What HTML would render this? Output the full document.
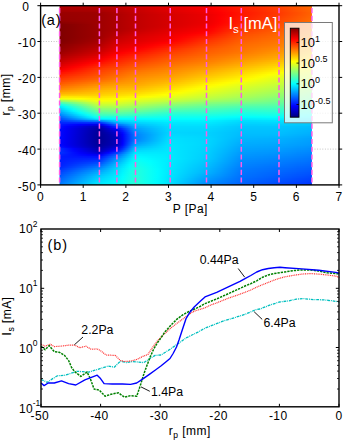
<!DOCTYPE html>
<html><head><meta charset="utf-8"><title>Is heat map and profiles</title>
<style>
html,body{margin:0;padding:0;background:#fff;}
body{width:343px;height:442px;overflow:hidden;}
svg{display:block;}
text{font-family:"Liberation Sans",sans-serif;fill:#000;}
.tk{font-size:12px;letter-spacing:0.4px;}
.lb{font-size:12px;letter-spacing:0.45px;stroke:#000;stroke-width:0.06px;}
.an{font-size:12.3px;}
.cbt{font-size:13px;}
</style></head><body>
<svg width="343" height="442" viewBox="0 0 343 442">
<defs><linearGradient id="g0"><stop offset="0.0000" stop-color="#af0000"/><stop offset="0.0277" stop-color="#b10000"/><stop offset="0.0555" stop-color="#b20000"/><stop offset="0.0832" stop-color="#b30000"/><stop offset="0.1110" stop-color="#b50000"/><stop offset="0.1387" stop-color="#b60000"/><stop offset="0.1577" stop-color="#b70000"/><stop offset="0.1665" stop-color="#b90000"/><stop offset="0.1942" stop-color="#bd0000"/><stop offset="0.2220" stop-color="#c10000"/><stop offset="0.2271" stop-color="#c20000"/><stop offset="0.2497" stop-color="#c60000"/><stop offset="0.2774" stop-color="#cc0000"/><stop offset="0.3008" stop-color="#d10000"/><stop offset="0.3052" stop-color="#d20000"/><stop offset="0.3329" stop-color="#d60000"/><stop offset="0.3607" stop-color="#db0000"/><stop offset="0.3884" stop-color="#df0000"/><stop offset="0.4162" stop-color="#e30000"/><stop offset="0.4384" stop-color="#e70000"/><stop offset="0.4439" stop-color="#e80000"/><stop offset="0.4717" stop-color="#ec0000"/><stop offset="0.4994" stop-color="#f00000"/><stop offset="0.5272" stop-color="#f40000"/><stop offset="0.5549" stop-color="#f80000"/><stop offset="0.5822" stop-color="#fb0000"/><stop offset="0.5826" stop-color="#fb0000"/><stop offset="0.6104" stop-color="#ff0400"/><stop offset="0.6381" stop-color="#ff0b00"/><stop offset="0.6659" stop-color="#ff1200"/><stop offset="0.6936" stop-color="#ff1900"/><stop offset="0.7202" stop-color="#ff1f00"/><stop offset="0.7214" stop-color="#ff2000"/><stop offset="0.7491" stop-color="#ff2600"/><stop offset="0.7769" stop-color="#ff2d00"/><stop offset="0.8046" stop-color="#ff3400"/><stop offset="0.8323" stop-color="#ff3a00"/><stop offset="0.8601" stop-color="#ff4100"/><stop offset="0.8696" stop-color="#ff4300"/><stop offset="0.8878" stop-color="#ff4900"/><stop offset="0.9156" stop-color="#ff5100"/><stop offset="0.9433" stop-color="#ff5a00"/><stop offset="0.9711" stop-color="#ff6300"/><stop offset="0.9988" stop-color="#ff6b00"/><stop offset="1.0000" stop-color="#ff6c00"/></linearGradient>
<linearGradient id="g1"><stop offset="0.0000" stop-color="#ab0000"/><stop offset="0.0277" stop-color="#ac0000"/><stop offset="0.0555" stop-color="#ad0000"/><stop offset="0.0832" stop-color="#ae0000"/><stop offset="0.1110" stop-color="#af0000"/><stop offset="0.1387" stop-color="#b10000"/><stop offset="0.1577" stop-color="#b10000"/><stop offset="0.1665" stop-color="#b30000"/><stop offset="0.1942" stop-color="#b70000"/><stop offset="0.2220" stop-color="#bb0000"/><stop offset="0.2271" stop-color="#bc0000"/><stop offset="0.2497" stop-color="#c00000"/><stop offset="0.2774" stop-color="#c60000"/><stop offset="0.3008" stop-color="#cb0000"/><stop offset="0.3052" stop-color="#cc0000"/><stop offset="0.3329" stop-color="#d00000"/><stop offset="0.3607" stop-color="#d50000"/><stop offset="0.3884" stop-color="#da0000"/><stop offset="0.4162" stop-color="#df0000"/><stop offset="0.4384" stop-color="#e30000"/><stop offset="0.4439" stop-color="#e40000"/><stop offset="0.4717" stop-color="#e70000"/><stop offset="0.4994" stop-color="#eb0000"/><stop offset="0.5272" stop-color="#ef0000"/><stop offset="0.5549" stop-color="#f30000"/><stop offset="0.5822" stop-color="#f70000"/><stop offset="0.5826" stop-color="#f70000"/><stop offset="0.6104" stop-color="#fe0000"/><stop offset="0.6381" stop-color="#ff0700"/><stop offset="0.6659" stop-color="#ff0e00"/><stop offset="0.6936" stop-color="#ff1500"/><stop offset="0.7202" stop-color="#ff1c00"/><stop offset="0.7214" stop-color="#ff1c00"/><stop offset="0.7491" stop-color="#ff2300"/><stop offset="0.7769" stop-color="#ff2900"/><stop offset="0.8046" stop-color="#ff3000"/><stop offset="0.8323" stop-color="#ff3700"/><stop offset="0.8601" stop-color="#ff3d00"/><stop offset="0.8696" stop-color="#ff4000"/><stop offset="0.8878" stop-color="#ff4500"/><stop offset="0.9156" stop-color="#ff4e00"/><stop offset="0.9433" stop-color="#ff5700"/><stop offset="0.9711" stop-color="#ff5f00"/><stop offset="0.9988" stop-color="#ff6800"/><stop offset="1.0000" stop-color="#ff6800"/></linearGradient>
<linearGradient id="g2"><stop offset="0.0000" stop-color="#a50000"/><stop offset="0.0277" stop-color="#a60000"/><stop offset="0.0555" stop-color="#a70000"/><stop offset="0.0832" stop-color="#a70000"/><stop offset="0.1110" stop-color="#a80000"/><stop offset="0.1387" stop-color="#a90000"/><stop offset="0.1577" stop-color="#aa0000"/><stop offset="0.1665" stop-color="#ab0000"/><stop offset="0.1942" stop-color="#b00000"/><stop offset="0.2220" stop-color="#b50000"/><stop offset="0.2271" stop-color="#b60000"/><stop offset="0.2497" stop-color="#bb0000"/><stop offset="0.2774" stop-color="#c10000"/><stop offset="0.3008" stop-color="#c60000"/><stop offset="0.3052" stop-color="#c60000"/><stop offset="0.3329" stop-color="#cb0000"/><stop offset="0.3607" stop-color="#d10000"/><stop offset="0.3884" stop-color="#d60000"/><stop offset="0.4162" stop-color="#db0000"/><stop offset="0.4384" stop-color="#df0000"/><stop offset="0.4439" stop-color="#df0000"/><stop offset="0.4717" stop-color="#e30000"/><stop offset="0.4994" stop-color="#e70000"/><stop offset="0.5272" stop-color="#eb0000"/><stop offset="0.5549" stop-color="#ef0000"/><stop offset="0.5822" stop-color="#f30000"/><stop offset="0.5826" stop-color="#f30000"/><stop offset="0.6104" stop-color="#fa0000"/><stop offset="0.6381" stop-color="#ff0300"/><stop offset="0.6659" stop-color="#ff0a00"/><stop offset="0.6936" stop-color="#ff1200"/><stop offset="0.7202" stop-color="#ff1900"/><stop offset="0.7214" stop-color="#ff1900"/><stop offset="0.7491" stop-color="#ff2000"/><stop offset="0.7769" stop-color="#ff2600"/><stop offset="0.8046" stop-color="#ff2d00"/><stop offset="0.8323" stop-color="#ff3400"/><stop offset="0.8601" stop-color="#ff3a00"/><stop offset="0.8696" stop-color="#ff3c00"/><stop offset="0.8878" stop-color="#ff4200"/><stop offset="0.9156" stop-color="#ff4b00"/><stop offset="0.9433" stop-color="#ff5400"/><stop offset="0.9711" stop-color="#ff5c00"/><stop offset="0.9988" stop-color="#ff6500"/><stop offset="1.0000" stop-color="#ff6500"/></linearGradient>
<linearGradient id="g3"><stop offset="0.0000" stop-color="#9b0000"/><stop offset="0.0277" stop-color="#9b0000"/><stop offset="0.0555" stop-color="#9c0000"/><stop offset="0.0832" stop-color="#9d0000"/><stop offset="0.1110" stop-color="#9e0000"/><stop offset="0.1387" stop-color="#9f0000"/><stop offset="0.1577" stop-color="#a00000"/><stop offset="0.1665" stop-color="#a20000"/><stop offset="0.1942" stop-color="#a90000"/><stop offset="0.2220" stop-color="#af0000"/><stop offset="0.2271" stop-color="#b10000"/><stop offset="0.2497" stop-color="#b60000"/><stop offset="0.2774" stop-color="#bd0000"/><stop offset="0.3008" stop-color="#c20000"/><stop offset="0.3052" stop-color="#c30000"/><stop offset="0.3329" stop-color="#c80000"/><stop offset="0.3607" stop-color="#cd0000"/><stop offset="0.3884" stop-color="#d20000"/><stop offset="0.4162" stop-color="#d60000"/><stop offset="0.4384" stop-color="#da0000"/><stop offset="0.4439" stop-color="#db0000"/><stop offset="0.4717" stop-color="#df0000"/><stop offset="0.4994" stop-color="#e30000"/><stop offset="0.5272" stop-color="#e70000"/><stop offset="0.5549" stop-color="#eb0000"/><stop offset="0.5822" stop-color="#ef0000"/><stop offset="0.5826" stop-color="#ef0000"/><stop offset="0.6104" stop-color="#f70000"/><stop offset="0.6381" stop-color="#fe0000"/><stop offset="0.6659" stop-color="#ff0700"/><stop offset="0.6936" stop-color="#ff0e00"/><stop offset="0.7202" stop-color="#ff1600"/><stop offset="0.7214" stop-color="#ff1600"/><stop offset="0.7491" stop-color="#ff1d00"/><stop offset="0.7769" stop-color="#ff2300"/><stop offset="0.8046" stop-color="#ff2a00"/><stop offset="0.8323" stop-color="#ff3000"/><stop offset="0.8601" stop-color="#ff3700"/><stop offset="0.8696" stop-color="#ff3900"/><stop offset="0.8878" stop-color="#ff3f00"/><stop offset="0.9156" stop-color="#ff4800"/><stop offset="0.9433" stop-color="#ff5000"/><stop offset="0.9711" stop-color="#ff5900"/><stop offset="0.9988" stop-color="#ff6200"/><stop offset="1.0000" stop-color="#ff6200"/></linearGradient>
<linearGradient id="g4"><stop offset="0.0000" stop-color="#980000"/><stop offset="0.0277" stop-color="#990000"/><stop offset="0.0555" stop-color="#9a0000"/><stop offset="0.0832" stop-color="#9b0000"/><stop offset="0.1110" stop-color="#9c0000"/><stop offset="0.1387" stop-color="#9d0000"/><stop offset="0.1577" stop-color="#9e0000"/><stop offset="0.1665" stop-color="#a00000"/><stop offset="0.1942" stop-color="#a60000"/><stop offset="0.2220" stop-color="#ac0000"/><stop offset="0.2271" stop-color="#ad0000"/><stop offset="0.2497" stop-color="#b30000"/><stop offset="0.2774" stop-color="#ba0000"/><stop offset="0.3008" stop-color="#c00000"/><stop offset="0.3052" stop-color="#c00000"/><stop offset="0.3329" stop-color="#c50000"/><stop offset="0.3607" stop-color="#ca0000"/><stop offset="0.3884" stop-color="#ce0000"/><stop offset="0.4162" stop-color="#d30000"/><stop offset="0.4384" stop-color="#d60000"/><stop offset="0.4439" stop-color="#d70000"/><stop offset="0.4717" stop-color="#db0000"/><stop offset="0.4994" stop-color="#df0000"/><stop offset="0.5272" stop-color="#e30000"/><stop offset="0.5549" stop-color="#e70000"/><stop offset="0.5822" stop-color="#eb0000"/><stop offset="0.5826" stop-color="#eb0000"/><stop offset="0.6104" stop-color="#f30000"/><stop offset="0.6381" stop-color="#fc0000"/><stop offset="0.6659" stop-color="#ff0500"/><stop offset="0.6936" stop-color="#ff0e00"/><stop offset="0.7202" stop-color="#ff1600"/><stop offset="0.7214" stop-color="#ff1600"/><stop offset="0.7491" stop-color="#ff1d00"/><stop offset="0.7769" stop-color="#ff2400"/><stop offset="0.8046" stop-color="#ff2b00"/><stop offset="0.8323" stop-color="#ff3100"/><stop offset="0.8601" stop-color="#ff3800"/><stop offset="0.8696" stop-color="#ff3a00"/><stop offset="0.8878" stop-color="#ff4000"/><stop offset="0.9156" stop-color="#ff4900"/><stop offset="0.9433" stop-color="#ff5100"/><stop offset="0.9711" stop-color="#ff5a00"/><stop offset="0.9988" stop-color="#ff6300"/><stop offset="1.0000" stop-color="#ff6300"/></linearGradient>
<linearGradient id="g5"><stop offset="0.0000" stop-color="#970000"/><stop offset="0.0277" stop-color="#980000"/><stop offset="0.0555" stop-color="#990000"/><stop offset="0.0832" stop-color="#9b0000"/><stop offset="0.1110" stop-color="#9c0000"/><stop offset="0.1387" stop-color="#9d0000"/><stop offset="0.1577" stop-color="#9e0000"/><stop offset="0.1665" stop-color="#a00000"/><stop offset="0.1942" stop-color="#a60000"/><stop offset="0.2220" stop-color="#ac0000"/><stop offset="0.2271" stop-color="#ad0000"/><stop offset="0.2497" stop-color="#b30000"/><stop offset="0.2774" stop-color="#ba0000"/><stop offset="0.3008" stop-color="#c00000"/><stop offset="0.3052" stop-color="#c00000"/><stop offset="0.3329" stop-color="#c50000"/><stop offset="0.3607" stop-color="#ca0000"/><stop offset="0.3884" stop-color="#ce0000"/><stop offset="0.4162" stop-color="#d30000"/><stop offset="0.4384" stop-color="#d60000"/><stop offset="0.4439" stop-color="#d70000"/><stop offset="0.4717" stop-color="#db0000"/><stop offset="0.4994" stop-color="#df0000"/><stop offset="0.5272" stop-color="#e30000"/><stop offset="0.5549" stop-color="#e70000"/><stop offset="0.5822" stop-color="#eb0000"/><stop offset="0.5826" stop-color="#eb0000"/><stop offset="0.6104" stop-color="#f40000"/><stop offset="0.6381" stop-color="#fd0000"/><stop offset="0.6659" stop-color="#ff0700"/><stop offset="0.6936" stop-color="#ff1000"/><stop offset="0.7202" stop-color="#ff1900"/><stop offset="0.7214" stop-color="#ff1900"/><stop offset="0.7491" stop-color="#ff2000"/><stop offset="0.7769" stop-color="#ff2700"/><stop offset="0.8046" stop-color="#ff2e00"/><stop offset="0.8323" stop-color="#ff3500"/><stop offset="0.8601" stop-color="#ff3c00"/><stop offset="0.8696" stop-color="#ff3e00"/><stop offset="0.8878" stop-color="#ff4400"/><stop offset="0.9156" stop-color="#ff4c00"/><stop offset="0.9433" stop-color="#ff5500"/><stop offset="0.9711" stop-color="#ff5d00"/><stop offset="0.9988" stop-color="#ff6600"/><stop offset="1.0000" stop-color="#ff6600"/></linearGradient>
<linearGradient id="g6"><stop offset="0.0000" stop-color="#950000"/><stop offset="0.0277" stop-color="#970000"/><stop offset="0.0555" stop-color="#980000"/><stop offset="0.0832" stop-color="#9a0000"/><stop offset="0.1110" stop-color="#9c0000"/><stop offset="0.1387" stop-color="#9d0000"/><stop offset="0.1577" stop-color="#9e0000"/><stop offset="0.1665" stop-color="#a00000"/><stop offset="0.1942" stop-color="#a60000"/><stop offset="0.2220" stop-color="#ac0000"/><stop offset="0.2271" stop-color="#ad0000"/><stop offset="0.2497" stop-color="#b30000"/><stop offset="0.2774" stop-color="#ba0000"/><stop offset="0.3008" stop-color="#c00000"/><stop offset="0.3052" stop-color="#c00000"/><stop offset="0.3329" stop-color="#c50000"/><stop offset="0.3607" stop-color="#ca0000"/><stop offset="0.3884" stop-color="#ce0000"/><stop offset="0.4162" stop-color="#d30000"/><stop offset="0.4384" stop-color="#d60000"/><stop offset="0.4439" stop-color="#d70000"/><stop offset="0.4717" stop-color="#db0000"/><stop offset="0.4994" stop-color="#df0000"/><stop offset="0.5272" stop-color="#e30000"/><stop offset="0.5549" stop-color="#e70000"/><stop offset="0.5822" stop-color="#eb0000"/><stop offset="0.5826" stop-color="#eb0000"/><stop offset="0.6104" stop-color="#f40000"/><stop offset="0.6381" stop-color="#fe0000"/><stop offset="0.6659" stop-color="#ff0900"/><stop offset="0.6936" stop-color="#ff1300"/><stop offset="0.7202" stop-color="#ff1c00"/><stop offset="0.7214" stop-color="#ff1c00"/><stop offset="0.7491" stop-color="#ff2300"/><stop offset="0.7769" stop-color="#ff2a00"/><stop offset="0.8046" stop-color="#ff3200"/><stop offset="0.8323" stop-color="#ff3900"/><stop offset="0.8601" stop-color="#ff4000"/><stop offset="0.8696" stop-color="#ff4200"/><stop offset="0.8878" stop-color="#ff4800"/><stop offset="0.9156" stop-color="#ff5000"/><stop offset="0.9433" stop-color="#ff5800"/><stop offset="0.9711" stop-color="#ff6100"/><stop offset="0.9988" stop-color="#ff6900"/><stop offset="1.0000" stop-color="#ff6a00"/></linearGradient>
<linearGradient id="g7"><stop offset="0.0000" stop-color="#940000"/><stop offset="0.0277" stop-color="#960000"/><stop offset="0.0555" stop-color="#980000"/><stop offset="0.0832" stop-color="#990000"/><stop offset="0.1110" stop-color="#9b0000"/><stop offset="0.1387" stop-color="#9d0000"/><stop offset="0.1577" stop-color="#9e0000"/><stop offset="0.1665" stop-color="#a00000"/><stop offset="0.1942" stop-color="#a60000"/><stop offset="0.2220" stop-color="#ac0000"/><stop offset="0.2271" stop-color="#ad0000"/><stop offset="0.2497" stop-color="#b30000"/><stop offset="0.2774" stop-color="#ba0000"/><stop offset="0.3008" stop-color="#c00000"/><stop offset="0.3052" stop-color="#c00000"/><stop offset="0.3329" stop-color="#c50000"/><stop offset="0.3607" stop-color="#ca0000"/><stop offset="0.3884" stop-color="#ce0000"/><stop offset="0.4162" stop-color="#d30000"/><stop offset="0.4384" stop-color="#d60000"/><stop offset="0.4439" stop-color="#d70000"/><stop offset="0.4717" stop-color="#db0000"/><stop offset="0.4994" stop-color="#df0000"/><stop offset="0.5272" stop-color="#e30000"/><stop offset="0.5549" stop-color="#e70000"/><stop offset="0.5822" stop-color="#eb0000"/><stop offset="0.5826" stop-color="#eb0000"/><stop offset="0.6104" stop-color="#f50000"/><stop offset="0.6381" stop-color="#ff0000"/><stop offset="0.6659" stop-color="#ff0b00"/><stop offset="0.6936" stop-color="#ff1500"/><stop offset="0.7202" stop-color="#ff1f00"/><stop offset="0.7214" stop-color="#ff1f00"/><stop offset="0.7491" stop-color="#ff2600"/><stop offset="0.7769" stop-color="#ff2e00"/><stop offset="0.8046" stop-color="#ff3500"/><stop offset="0.8323" stop-color="#ff3c00"/><stop offset="0.8601" stop-color="#ff4400"/><stop offset="0.8696" stop-color="#ff4600"/><stop offset="0.8878" stop-color="#ff4c00"/><stop offset="0.9156" stop-color="#ff5400"/><stop offset="0.9433" stop-color="#ff5c00"/><stop offset="0.9711" stop-color="#ff6400"/><stop offset="0.9988" stop-color="#ff6d00"/><stop offset="1.0000" stop-color="#ff6d00"/></linearGradient>
<linearGradient id="g8"><stop offset="0.0000" stop-color="#8b0000"/><stop offset="0.0277" stop-color="#8f0000"/><stop offset="0.0555" stop-color="#920000"/><stop offset="0.0832" stop-color="#950000"/><stop offset="0.1110" stop-color="#990000"/><stop offset="0.1387" stop-color="#9c0000"/><stop offset="0.1577" stop-color="#9e0000"/><stop offset="0.1665" stop-color="#a00000"/><stop offset="0.1942" stop-color="#a60000"/><stop offset="0.2220" stop-color="#ac0000"/><stop offset="0.2271" stop-color="#ad0000"/><stop offset="0.2497" stop-color="#b30000"/><stop offset="0.2774" stop-color="#ba0000"/><stop offset="0.3008" stop-color="#c00000"/><stop offset="0.3052" stop-color="#c00000"/><stop offset="0.3329" stop-color="#c50000"/><stop offset="0.3607" stop-color="#ca0000"/><stop offset="0.3884" stop-color="#ce0000"/><stop offset="0.4162" stop-color="#d30000"/><stop offset="0.4384" stop-color="#d60000"/><stop offset="0.4439" stop-color="#d70000"/><stop offset="0.4717" stop-color="#db0000"/><stop offset="0.4994" stop-color="#df0000"/><stop offset="0.5272" stop-color="#e30000"/><stop offset="0.5549" stop-color="#e70000"/><stop offset="0.5822" stop-color="#eb0000"/><stop offset="0.5826" stop-color="#eb0000"/><stop offset="0.6104" stop-color="#f60000"/><stop offset="0.6381" stop-color="#ff0200"/><stop offset="0.6659" stop-color="#ff0c00"/><stop offset="0.6936" stop-color="#ff1700"/><stop offset="0.7202" stop-color="#ff2200"/><stop offset="0.7214" stop-color="#ff2200"/><stop offset="0.7491" stop-color="#ff2a00"/><stop offset="0.7769" stop-color="#ff3100"/><stop offset="0.8046" stop-color="#ff3900"/><stop offset="0.8323" stop-color="#ff4000"/><stop offset="0.8601" stop-color="#ff4700"/><stop offset="0.8696" stop-color="#ff4a00"/><stop offset="0.8878" stop-color="#ff4f00"/><stop offset="0.9156" stop-color="#ff5700"/><stop offset="0.9433" stop-color="#ff6000"/><stop offset="0.9711" stop-color="#ff6800"/><stop offset="0.9988" stop-color="#ff7000"/><stop offset="1.0000" stop-color="#ff7000"/></linearGradient>
<linearGradient id="g9"><stop offset="0.0000" stop-color="#810000"/><stop offset="0.0277" stop-color="#860000"/><stop offset="0.0555" stop-color="#8b0000"/><stop offset="0.0832" stop-color="#900000"/><stop offset="0.1110" stop-color="#950000"/><stop offset="0.1387" stop-color="#9b0000"/><stop offset="0.1577" stop-color="#9e0000"/><stop offset="0.1665" stop-color="#a00000"/><stop offset="0.1942" stop-color="#a60000"/><stop offset="0.2220" stop-color="#ac0000"/><stop offset="0.2271" stop-color="#ad0000"/><stop offset="0.2497" stop-color="#b30000"/><stop offset="0.2774" stop-color="#ba0000"/><stop offset="0.3008" stop-color="#c00000"/><stop offset="0.3052" stop-color="#c00000"/><stop offset="0.3329" stop-color="#c50000"/><stop offset="0.3607" stop-color="#ca0000"/><stop offset="0.3884" stop-color="#ce0000"/><stop offset="0.4162" stop-color="#d30000"/><stop offset="0.4384" stop-color="#d60000"/><stop offset="0.4439" stop-color="#d70000"/><stop offset="0.4717" stop-color="#dc0000"/><stop offset="0.4994" stop-color="#e00000"/><stop offset="0.5272" stop-color="#e50000"/><stop offset="0.5549" stop-color="#e90000"/><stop offset="0.5822" stop-color="#ee0000"/><stop offset="0.5826" stop-color="#ee0000"/><stop offset="0.6104" stop-color="#f90000"/><stop offset="0.6381" stop-color="#ff0500"/><stop offset="0.6659" stop-color="#ff1000"/><stop offset="0.6936" stop-color="#ff1c00"/><stop offset="0.7202" stop-color="#ff2600"/><stop offset="0.7214" stop-color="#ff2700"/><stop offset="0.7491" stop-color="#ff2e00"/><stop offset="0.7769" stop-color="#ff3600"/><stop offset="0.8046" stop-color="#ff3d00"/><stop offset="0.8323" stop-color="#ff4400"/><stop offset="0.8601" stop-color="#ff4c00"/><stop offset="0.8696" stop-color="#ff4e00"/><stop offset="0.8878" stop-color="#ff5300"/><stop offset="0.9156" stop-color="#ff5b00"/><stop offset="0.9433" stop-color="#ff6300"/><stop offset="0.9711" stop-color="#ff6b00"/><stop offset="0.9988" stop-color="#ff7300"/><stop offset="1.0000" stop-color="#ff7300"/></linearGradient>
<linearGradient id="g10"><stop offset="0.0000" stop-color="#800000"/><stop offset="0.0277" stop-color="#850000"/><stop offset="0.0555" stop-color="#8a0000"/><stop offset="0.0832" stop-color="#900000"/><stop offset="0.1110" stop-color="#950000"/><stop offset="0.1387" stop-color="#9a0000"/><stop offset="0.1577" stop-color="#9e0000"/><stop offset="0.1665" stop-color="#a00000"/><stop offset="0.1942" stop-color="#a60000"/><stop offset="0.2220" stop-color="#ac0000"/><stop offset="0.2271" stop-color="#ad0000"/><stop offset="0.2497" stop-color="#b30000"/><stop offset="0.2774" stop-color="#ba0000"/><stop offset="0.3008" stop-color="#c00000"/><stop offset="0.3052" stop-color="#c10000"/><stop offset="0.3329" stop-color="#c50000"/><stop offset="0.3607" stop-color="#ca0000"/><stop offset="0.3884" stop-color="#cf0000"/><stop offset="0.4162" stop-color="#d40000"/><stop offset="0.4384" stop-color="#d80000"/><stop offset="0.4439" stop-color="#d90000"/><stop offset="0.4717" stop-color="#de0000"/><stop offset="0.4994" stop-color="#e30000"/><stop offset="0.5272" stop-color="#e80000"/><stop offset="0.5549" stop-color="#ed0000"/><stop offset="0.5822" stop-color="#f20000"/><stop offset="0.5826" stop-color="#f30000"/><stop offset="0.6104" stop-color="#fe0000"/><stop offset="0.6381" stop-color="#ff0b00"/><stop offset="0.6659" stop-color="#ff1700"/><stop offset="0.6936" stop-color="#ff2300"/><stop offset="0.7202" stop-color="#ff2e00"/><stop offset="0.7214" stop-color="#ff2e00"/><stop offset="0.7491" stop-color="#ff3500"/><stop offset="0.7769" stop-color="#ff3c00"/><stop offset="0.8046" stop-color="#ff4300"/><stop offset="0.8323" stop-color="#ff4a00"/><stop offset="0.8601" stop-color="#ff5100"/><stop offset="0.8696" stop-color="#ff5300"/><stop offset="0.8878" stop-color="#ff5800"/><stop offset="0.9156" stop-color="#ff6000"/><stop offset="0.9433" stop-color="#ff6700"/><stop offset="0.9711" stop-color="#ff6f00"/><stop offset="0.9988" stop-color="#ff7600"/><stop offset="1.0000" stop-color="#ff7700"/></linearGradient>
<linearGradient id="g11"><stop offset="0.0000" stop-color="#800000"/><stop offset="0.0277" stop-color="#850000"/><stop offset="0.0555" stop-color="#8a0000"/><stop offset="0.0832" stop-color="#900000"/><stop offset="0.1110" stop-color="#950000"/><stop offset="0.1387" stop-color="#9a0000"/><stop offset="0.1577" stop-color="#9e0000"/><stop offset="0.1665" stop-color="#a00000"/><stop offset="0.1942" stop-color="#a60000"/><stop offset="0.2220" stop-color="#ac0000"/><stop offset="0.2271" stop-color="#ad0000"/><stop offset="0.2497" stop-color="#b30000"/><stop offset="0.2774" stop-color="#ba0000"/><stop offset="0.3008" stop-color="#c00000"/><stop offset="0.3052" stop-color="#c10000"/><stop offset="0.3329" stop-color="#c70000"/><stop offset="0.3607" stop-color="#cd0000"/><stop offset="0.3884" stop-color="#d20000"/><stop offset="0.4162" stop-color="#d80000"/><stop offset="0.4384" stop-color="#dd0000"/><stop offset="0.4439" stop-color="#de0000"/><stop offset="0.4717" stop-color="#e30000"/><stop offset="0.4994" stop-color="#e80000"/><stop offset="0.5272" stop-color="#ed0000"/><stop offset="0.5549" stop-color="#f20000"/><stop offset="0.5822" stop-color="#f70000"/><stop offset="0.5826" stop-color="#f70000"/><stop offset="0.6104" stop-color="#ff0500"/><stop offset="0.6381" stop-color="#ff1100"/><stop offset="0.6659" stop-color="#ff1e00"/><stop offset="0.6936" stop-color="#ff2a00"/><stop offset="0.7202" stop-color="#ff3600"/><stop offset="0.7214" stop-color="#ff3600"/><stop offset="0.7491" stop-color="#ff3d00"/><stop offset="0.7769" stop-color="#ff4300"/><stop offset="0.8046" stop-color="#ff4900"/><stop offset="0.8323" stop-color="#ff4f00"/><stop offset="0.8601" stop-color="#ff5600"/><stop offset="0.8696" stop-color="#ff5800"/><stop offset="0.8878" stop-color="#ff5d00"/><stop offset="0.9156" stop-color="#ff6400"/><stop offset="0.9433" stop-color="#ff6b00"/><stop offset="0.9711" stop-color="#ff7200"/><stop offset="0.9988" stop-color="#ff7a00"/><stop offset="1.0000" stop-color="#ff7a00"/></linearGradient>
<linearGradient id="g12"><stop offset="0.0000" stop-color="#800000"/><stop offset="0.0277" stop-color="#850000"/><stop offset="0.0555" stop-color="#8a0000"/><stop offset="0.0832" stop-color="#900000"/><stop offset="0.1110" stop-color="#950000"/><stop offset="0.1387" stop-color="#9a0000"/><stop offset="0.1577" stop-color="#9e0000"/><stop offset="0.1665" stop-color="#a00000"/><stop offset="0.1942" stop-color="#a70000"/><stop offset="0.2220" stop-color="#ae0000"/><stop offset="0.2271" stop-color="#af0000"/><stop offset="0.2497" stop-color="#b60000"/><stop offset="0.2774" stop-color="#be0000"/><stop offset="0.3008" stop-color="#c50000"/><stop offset="0.3052" stop-color="#c60000"/><stop offset="0.3329" stop-color="#cc0000"/><stop offset="0.3607" stop-color="#d20000"/><stop offset="0.3884" stop-color="#d80000"/><stop offset="0.4162" stop-color="#de0000"/><stop offset="0.4384" stop-color="#e20000"/><stop offset="0.4439" stop-color="#e30000"/><stop offset="0.4717" stop-color="#e80000"/><stop offset="0.4994" stop-color="#ed0000"/><stop offset="0.5272" stop-color="#f20000"/><stop offset="0.5549" stop-color="#f70000"/><stop offset="0.5822" stop-color="#fc0000"/><stop offset="0.5826" stop-color="#fc0000"/><stop offset="0.6104" stop-color="#ff0a00"/><stop offset="0.6381" stop-color="#ff1700"/><stop offset="0.6659" stop-color="#ff2400"/><stop offset="0.6936" stop-color="#ff3100"/><stop offset="0.7202" stop-color="#ff3e00"/><stop offset="0.7214" stop-color="#ff3e00"/><stop offset="0.7491" stop-color="#ff4400"/><stop offset="0.7769" stop-color="#ff4a00"/><stop offset="0.8046" stop-color="#ff4f00"/><stop offset="0.8323" stop-color="#ff5500"/><stop offset="0.8601" stop-color="#ff5b00"/><stop offset="0.8696" stop-color="#ff5d00"/><stop offset="0.8878" stop-color="#ff6200"/><stop offset="0.9156" stop-color="#ff6900"/><stop offset="0.9433" stop-color="#ff7000"/><stop offset="0.9711" stop-color="#ff7700"/><stop offset="0.9988" stop-color="#ff7e00"/><stop offset="1.0000" stop-color="#ff7f00"/></linearGradient>
<linearGradient id="g13"><stop offset="0.0000" stop-color="#800000"/><stop offset="0.0277" stop-color="#850000"/><stop offset="0.0555" stop-color="#8a0000"/><stop offset="0.0832" stop-color="#900000"/><stop offset="0.1110" stop-color="#950000"/><stop offset="0.1387" stop-color="#9a0000"/><stop offset="0.1577" stop-color="#9e0000"/><stop offset="0.1665" stop-color="#a10000"/><stop offset="0.1942" stop-color="#aa0000"/><stop offset="0.2220" stop-color="#b30000"/><stop offset="0.2271" stop-color="#b40000"/><stop offset="0.2497" stop-color="#bb0000"/><stop offset="0.2774" stop-color="#c40000"/><stop offset="0.3008" stop-color="#cc0000"/><stop offset="0.3052" stop-color="#cc0000"/><stop offset="0.3329" stop-color="#d20000"/><stop offset="0.3607" stop-color="#d80000"/><stop offset="0.3884" stop-color="#dd0000"/><stop offset="0.4162" stop-color="#e30000"/><stop offset="0.4384" stop-color="#e70000"/><stop offset="0.4439" stop-color="#e80000"/><stop offset="0.4717" stop-color="#ee0000"/><stop offset="0.4994" stop-color="#f30000"/><stop offset="0.5272" stop-color="#f80000"/><stop offset="0.5549" stop-color="#fe0000"/><stop offset="0.5822" stop-color="#ff0400"/><stop offset="0.5826" stop-color="#ff0400"/><stop offset="0.6104" stop-color="#ff1100"/><stop offset="0.6381" stop-color="#ff1f00"/><stop offset="0.6659" stop-color="#ff2c00"/><stop offset="0.6936" stop-color="#ff3900"/><stop offset="0.7202" stop-color="#ff4600"/><stop offset="0.7214" stop-color="#ff4600"/><stop offset="0.7491" stop-color="#ff4b00"/><stop offset="0.7769" stop-color="#ff5000"/><stop offset="0.8046" stop-color="#ff5500"/><stop offset="0.8323" stop-color="#ff5b00"/><stop offset="0.8601" stop-color="#ff6000"/><stop offset="0.8696" stop-color="#ff6200"/><stop offset="0.8878" stop-color="#ff6600"/><stop offset="0.9156" stop-color="#ff6e00"/><stop offset="0.9433" stop-color="#ff7500"/><stop offset="0.9711" stop-color="#ff7c00"/><stop offset="0.9988" stop-color="#ff8400"/><stop offset="1.0000" stop-color="#ff8400"/></linearGradient>
<linearGradient id="g14"><stop offset="0.0000" stop-color="#800000"/><stop offset="0.0277" stop-color="#850000"/><stop offset="0.0555" stop-color="#8a0000"/><stop offset="0.0832" stop-color="#900000"/><stop offset="0.1110" stop-color="#950000"/><stop offset="0.1387" stop-color="#9a0000"/><stop offset="0.1577" stop-color="#9e0000"/><stop offset="0.1665" stop-color="#a20000"/><stop offset="0.1942" stop-color="#ac0000"/><stop offset="0.2220" stop-color="#b70000"/><stop offset="0.2271" stop-color="#b90000"/><stop offset="0.2497" stop-color="#c10000"/><stop offset="0.2774" stop-color="#ca0000"/><stop offset="0.3008" stop-color="#d20000"/><stop offset="0.3052" stop-color="#d30000"/><stop offset="0.3329" stop-color="#d80000"/><stop offset="0.3607" stop-color="#dd0000"/><stop offset="0.3884" stop-color="#e20000"/><stop offset="0.4162" stop-color="#e70000"/><stop offset="0.4384" stop-color="#ec0000"/><stop offset="0.4439" stop-color="#ed0000"/><stop offset="0.4717" stop-color="#f40000"/><stop offset="0.4994" stop-color="#fa0000"/><stop offset="0.5272" stop-color="#ff0200"/><stop offset="0.5549" stop-color="#ff0900"/><stop offset="0.5822" stop-color="#ff0f00"/><stop offset="0.5826" stop-color="#ff0f00"/><stop offset="0.6104" stop-color="#ff1c00"/><stop offset="0.6381" stop-color="#ff2800"/><stop offset="0.6659" stop-color="#ff3500"/><stop offset="0.6936" stop-color="#ff4100"/><stop offset="0.7202" stop-color="#ff4d00"/><stop offset="0.7214" stop-color="#ff4d00"/><stop offset="0.7491" stop-color="#ff5200"/><stop offset="0.7769" stop-color="#ff5700"/><stop offset="0.8046" stop-color="#ff5b00"/><stop offset="0.8323" stop-color="#ff6000"/><stop offset="0.8601" stop-color="#ff6500"/><stop offset="0.8696" stop-color="#ff6600"/><stop offset="0.8878" stop-color="#ff6b00"/><stop offset="0.9156" stop-color="#ff7300"/><stop offset="0.9433" stop-color="#ff7a00"/><stop offset="0.9711" stop-color="#ff8100"/><stop offset="0.9988" stop-color="#ff8900"/><stop offset="1.0000" stop-color="#ff8900"/></linearGradient>
<linearGradient id="g15"><stop offset="0.0000" stop-color="#800000"/><stop offset="0.0277" stop-color="#850000"/><stop offset="0.0555" stop-color="#8a0000"/><stop offset="0.0832" stop-color="#900000"/><stop offset="0.1110" stop-color="#950000"/><stop offset="0.1387" stop-color="#9a0000"/><stop offset="0.1577" stop-color="#9e0000"/><stop offset="0.1665" stop-color="#a20000"/><stop offset="0.1942" stop-color="#af0000"/><stop offset="0.2220" stop-color="#bd0000"/><stop offset="0.2271" stop-color="#bf0000"/><stop offset="0.2497" stop-color="#c70000"/><stop offset="0.2774" stop-color="#d00000"/><stop offset="0.3008" stop-color="#d70000"/><stop offset="0.3052" stop-color="#d80000"/><stop offset="0.3329" stop-color="#dd0000"/><stop offset="0.3607" stop-color="#e20000"/><stop offset="0.3884" stop-color="#e70000"/><stop offset="0.4162" stop-color="#ec0000"/><stop offset="0.4384" stop-color="#f00000"/><stop offset="0.4439" stop-color="#f20000"/><stop offset="0.4717" stop-color="#fa0000"/><stop offset="0.4994" stop-color="#ff0300"/><stop offset="0.5272" stop-color="#ff0b00"/><stop offset="0.5549" stop-color="#ff1300"/><stop offset="0.5822" stop-color="#ff1b00"/><stop offset="0.5826" stop-color="#ff1b00"/><stop offset="0.6104" stop-color="#ff2600"/><stop offset="0.6381" stop-color="#ff3100"/><stop offset="0.6659" stop-color="#ff3c00"/><stop offset="0.6936" stop-color="#ff4800"/><stop offset="0.7202" stop-color="#ff5200"/><stop offset="0.7214" stop-color="#ff5300"/><stop offset="0.7491" stop-color="#ff5700"/><stop offset="0.7769" stop-color="#ff5c00"/><stop offset="0.8046" stop-color="#ff6000"/><stop offset="0.8323" stop-color="#ff6500"/><stop offset="0.8601" stop-color="#ff6900"/><stop offset="0.8696" stop-color="#ff6b00"/><stop offset="0.8878" stop-color="#ff7000"/><stop offset="0.9156" stop-color="#ff7700"/><stop offset="0.9433" stop-color="#ff7f00"/><stop offset="0.9711" stop-color="#ff8600"/><stop offset="0.9988" stop-color="#ff8e00"/><stop offset="1.0000" stop-color="#ff8e00"/></linearGradient>
<linearGradient id="g16"><stop offset="0.0000" stop-color="#800000"/><stop offset="0.0277" stop-color="#850000"/><stop offset="0.0555" stop-color="#8b0000"/><stop offset="0.0832" stop-color="#910000"/><stop offset="0.1110" stop-color="#970000"/><stop offset="0.1387" stop-color="#9d0000"/><stop offset="0.1577" stop-color="#a20000"/><stop offset="0.1665" stop-color="#a60000"/><stop offset="0.1942" stop-color="#b50000"/><stop offset="0.2220" stop-color="#c30000"/><stop offset="0.2271" stop-color="#c60000"/><stop offset="0.2497" stop-color="#cc0000"/><stop offset="0.2774" stop-color="#d40000"/><stop offset="0.3008" stop-color="#db0000"/><stop offset="0.3052" stop-color="#dc0000"/><stop offset="0.3329" stop-color="#e10000"/><stop offset="0.3607" stop-color="#e60000"/><stop offset="0.3884" stop-color="#eb0000"/><stop offset="0.4162" stop-color="#f10000"/><stop offset="0.4384" stop-color="#f50000"/><stop offset="0.4439" stop-color="#f70000"/><stop offset="0.4717" stop-color="#ff0100"/><stop offset="0.4994" stop-color="#ff0a00"/><stop offset="0.5272" stop-color="#ff1300"/><stop offset="0.5549" stop-color="#ff1d00"/><stop offset="0.5822" stop-color="#ff2600"/><stop offset="0.5826" stop-color="#ff2600"/><stop offset="0.6104" stop-color="#ff3000"/><stop offset="0.6381" stop-color="#ff3a00"/><stop offset="0.6659" stop-color="#ff4400"/><stop offset="0.6936" stop-color="#ff4e00"/><stop offset="0.7202" stop-color="#ff5800"/><stop offset="0.7214" stop-color="#ff5800"/><stop offset="0.7491" stop-color="#ff5c00"/><stop offset="0.7769" stop-color="#ff6100"/><stop offset="0.8046" stop-color="#ff6500"/><stop offset="0.8323" stop-color="#ff6900"/><stop offset="0.8601" stop-color="#ff6e00"/><stop offset="0.8696" stop-color="#ff6f00"/><stop offset="0.8878" stop-color="#ff7400"/><stop offset="0.9156" stop-color="#ff7c00"/><stop offset="0.9433" stop-color="#ff8400"/><stop offset="0.9711" stop-color="#ff8b00"/><stop offset="0.9988" stop-color="#ff9300"/><stop offset="1.0000" stop-color="#ff9300"/></linearGradient>
<linearGradient id="g17"><stop offset="0.0000" stop-color="#800000"/><stop offset="0.0277" stop-color="#860000"/><stop offset="0.0555" stop-color="#8d0000"/><stop offset="0.0832" stop-color="#940000"/><stop offset="0.1110" stop-color="#9a0000"/><stop offset="0.1387" stop-color="#a10000"/><stop offset="0.1577" stop-color="#a60000"/><stop offset="0.1665" stop-color="#ab0000"/><stop offset="0.1942" stop-color="#ba0000"/><stop offset="0.2220" stop-color="#ca0000"/><stop offset="0.2271" stop-color="#cd0000"/><stop offset="0.2497" stop-color="#d20000"/><stop offset="0.2774" stop-color="#d90000"/><stop offset="0.3008" stop-color="#de0000"/><stop offset="0.3052" stop-color="#df0000"/><stop offset="0.3329" stop-color="#e40000"/><stop offset="0.3607" stop-color="#ea0000"/><stop offset="0.3884" stop-color="#ef0000"/><stop offset="0.4162" stop-color="#f50000"/><stop offset="0.4384" stop-color="#f90000"/><stop offset="0.4439" stop-color="#fb0000"/><stop offset="0.4717" stop-color="#ff0700"/><stop offset="0.4994" stop-color="#ff1200"/><stop offset="0.5272" stop-color="#ff1c00"/><stop offset="0.5549" stop-color="#ff2700"/><stop offset="0.5822" stop-color="#ff3100"/><stop offset="0.5826" stop-color="#ff3100"/><stop offset="0.6104" stop-color="#ff3a00"/><stop offset="0.6381" stop-color="#ff4300"/><stop offset="0.6659" stop-color="#ff4c00"/><stop offset="0.6936" stop-color="#ff5500"/><stop offset="0.7202" stop-color="#ff5d00"/><stop offset="0.7214" stop-color="#ff5d00"/><stop offset="0.7491" stop-color="#ff6100"/><stop offset="0.7769" stop-color="#ff6600"/><stop offset="0.8046" stop-color="#ff6a00"/><stop offset="0.8323" stop-color="#ff6e00"/><stop offset="0.8601" stop-color="#ff7200"/><stop offset="0.8696" stop-color="#ff7400"/><stop offset="0.8878" stop-color="#ff7900"/><stop offset="0.9156" stop-color="#ff8100"/><stop offset="0.9433" stop-color="#ff8800"/><stop offset="0.9711" stop-color="#ff9000"/><stop offset="0.9988" stop-color="#ff9800"/><stop offset="1.0000" stop-color="#ff9800"/></linearGradient>
<linearGradient id="g18"><stop offset="0.0000" stop-color="#820000"/><stop offset="0.0277" stop-color="#890000"/><stop offset="0.0555" stop-color="#900000"/><stop offset="0.0832" stop-color="#970000"/><stop offset="0.1110" stop-color="#9f0000"/><stop offset="0.1387" stop-color="#a60000"/><stop offset="0.1577" stop-color="#ab0000"/><stop offset="0.1665" stop-color="#b00000"/><stop offset="0.1942" stop-color="#c00000"/><stop offset="0.2220" stop-color="#d00000"/><stop offset="0.2271" stop-color="#d30000"/><stop offset="0.2497" stop-color="#d80000"/><stop offset="0.2774" stop-color="#de0000"/><stop offset="0.3008" stop-color="#e30000"/><stop offset="0.3052" stop-color="#e40000"/><stop offset="0.3329" stop-color="#eb0000"/><stop offset="0.3607" stop-color="#f10000"/><stop offset="0.3884" stop-color="#f80000"/><stop offset="0.4162" stop-color="#ff0000"/><stop offset="0.4384" stop-color="#ff0500"/><stop offset="0.4439" stop-color="#ff0700"/><stop offset="0.4717" stop-color="#ff1100"/><stop offset="0.4994" stop-color="#ff1b00"/><stop offset="0.5272" stop-color="#ff2600"/><stop offset="0.5549" stop-color="#ff3000"/><stop offset="0.5822" stop-color="#ff3a00"/><stop offset="0.5826" stop-color="#ff3a00"/><stop offset="0.6104" stop-color="#ff4200"/><stop offset="0.6381" stop-color="#ff4a00"/><stop offset="0.6659" stop-color="#ff5200"/><stop offset="0.6936" stop-color="#ff5b00"/><stop offset="0.7202" stop-color="#ff6200"/><stop offset="0.7214" stop-color="#ff6200"/><stop offset="0.7491" stop-color="#ff6700"/><stop offset="0.7769" stop-color="#ff6b00"/><stop offset="0.8046" stop-color="#ff6f00"/><stop offset="0.8323" stop-color="#ff7300"/><stop offset="0.8601" stop-color="#ff7700"/><stop offset="0.8696" stop-color="#ff7800"/><stop offset="0.8878" stop-color="#ff7d00"/><stop offset="0.9156" stop-color="#ff8500"/><stop offset="0.9433" stop-color="#ff8d00"/><stop offset="0.9711" stop-color="#ff9500"/><stop offset="0.9988" stop-color="#ff9d00"/><stop offset="1.0000" stop-color="#ff9d00"/></linearGradient>
<linearGradient id="g19"><stop offset="0.0000" stop-color="#890000"/><stop offset="0.0277" stop-color="#900000"/><stop offset="0.0555" stop-color="#970000"/><stop offset="0.0832" stop-color="#9e0000"/><stop offset="0.1110" stop-color="#a50000"/><stop offset="0.1387" stop-color="#ad0000"/><stop offset="0.1577" stop-color="#b10000"/><stop offset="0.1665" stop-color="#b70000"/><stop offset="0.1942" stop-color="#c70000"/><stop offset="0.2220" stop-color="#d70000"/><stop offset="0.2271" stop-color="#da0000"/><stop offset="0.2497" stop-color="#df0000"/><stop offset="0.2774" stop-color="#e50000"/><stop offset="0.3008" stop-color="#ea0000"/><stop offset="0.3052" stop-color="#eb0000"/><stop offset="0.3329" stop-color="#f30000"/><stop offset="0.3607" stop-color="#fa0000"/><stop offset="0.3884" stop-color="#ff0300"/><stop offset="0.4162" stop-color="#ff0b00"/><stop offset="0.4384" stop-color="#ff1100"/><stop offset="0.4439" stop-color="#ff1300"/><stop offset="0.4717" stop-color="#ff1c00"/><stop offset="0.4994" stop-color="#ff2600"/><stop offset="0.5272" stop-color="#ff2f00"/><stop offset="0.5549" stop-color="#ff3900"/><stop offset="0.5822" stop-color="#ff4200"/><stop offset="0.5826" stop-color="#ff4200"/><stop offset="0.6104" stop-color="#ff4a00"/><stop offset="0.6381" stop-color="#ff5100"/><stop offset="0.6659" stop-color="#ff5900"/><stop offset="0.6936" stop-color="#ff6000"/><stop offset="0.7202" stop-color="#ff6800"/><stop offset="0.7214" stop-color="#ff6800"/><stop offset="0.7491" stop-color="#ff6c00"/><stop offset="0.7769" stop-color="#ff7000"/><stop offset="0.8046" stop-color="#ff7300"/><stop offset="0.8323" stop-color="#ff7700"/><stop offset="0.8601" stop-color="#ff7b00"/><stop offset="0.8696" stop-color="#ff7d00"/><stop offset="0.8878" stop-color="#ff8200"/><stop offset="0.9156" stop-color="#ff8a00"/><stop offset="0.9433" stop-color="#ff9200"/><stop offset="0.9711" stop-color="#ff9a00"/><stop offset="0.9988" stop-color="#ffa200"/><stop offset="1.0000" stop-color="#ffa200"/></linearGradient>
<linearGradient id="g20"><stop offset="0.0000" stop-color="#8d0000"/><stop offset="0.0277" stop-color="#940000"/><stop offset="0.0555" stop-color="#9c0000"/><stop offset="0.0832" stop-color="#a40000"/><stop offset="0.1110" stop-color="#ab0000"/><stop offset="0.1387" stop-color="#b30000"/><stop offset="0.1577" stop-color="#b80000"/><stop offset="0.1665" stop-color="#bd0000"/><stop offset="0.1942" stop-color="#cd0000"/><stop offset="0.2220" stop-color="#dd0000"/><stop offset="0.2271" stop-color="#e00000"/><stop offset="0.2497" stop-color="#e50000"/><stop offset="0.2774" stop-color="#eb0000"/><stop offset="0.3008" stop-color="#f00000"/><stop offset="0.3052" stop-color="#f20000"/><stop offset="0.3329" stop-color="#fa0000"/><stop offset="0.3607" stop-color="#ff0400"/><stop offset="0.3884" stop-color="#ff0d00"/><stop offset="0.4162" stop-color="#ff1600"/><stop offset="0.4384" stop-color="#ff1d00"/><stop offset="0.4439" stop-color="#ff1e00"/><stop offset="0.4717" stop-color="#ff2700"/><stop offset="0.4994" stop-color="#ff3000"/><stop offset="0.5272" stop-color="#ff3900"/><stop offset="0.5549" stop-color="#ff4200"/><stop offset="0.5822" stop-color="#ff4b00"/><stop offset="0.5826" stop-color="#ff4b00"/><stop offset="0.6104" stop-color="#ff5200"/><stop offset="0.6381" stop-color="#ff5800"/><stop offset="0.6659" stop-color="#ff5f00"/><stop offset="0.6936" stop-color="#ff6600"/><stop offset="0.7202" stop-color="#ff6c00"/><stop offset="0.7214" stop-color="#ff6c00"/><stop offset="0.7491" stop-color="#ff7000"/><stop offset="0.7769" stop-color="#ff7400"/><stop offset="0.8046" stop-color="#ff7800"/><stop offset="0.8323" stop-color="#ff7c00"/><stop offset="0.8601" stop-color="#ff8100"/><stop offset="0.8696" stop-color="#ff8200"/><stop offset="0.8878" stop-color="#ff8700"/><stop offset="0.9156" stop-color="#ff9000"/><stop offset="0.9433" stop-color="#ff9800"/><stop offset="0.9711" stop-color="#ffa100"/><stop offset="0.9988" stop-color="#ffa900"/><stop offset="1.0000" stop-color="#ffa900"/></linearGradient>
<linearGradient id="g21"><stop offset="0.0000" stop-color="#910000"/><stop offset="0.0277" stop-color="#990000"/><stop offset="0.0555" stop-color="#a10000"/><stop offset="0.0832" stop-color="#aa0000"/><stop offset="0.1110" stop-color="#b20000"/><stop offset="0.1387" stop-color="#ba0000"/><stop offset="0.1577" stop-color="#c00000"/><stop offset="0.1665" stop-color="#c50000"/><stop offset="0.1942" stop-color="#d40000"/><stop offset="0.2220" stop-color="#e40000"/><stop offset="0.2271" stop-color="#e60000"/><stop offset="0.2497" stop-color="#ec0000"/><stop offset="0.2774" stop-color="#f30000"/><stop offset="0.3008" stop-color="#f90000"/><stop offset="0.3052" stop-color="#fa0000"/><stop offset="0.3329" stop-color="#ff0500"/><stop offset="0.3607" stop-color="#ff0e00"/><stop offset="0.3884" stop-color="#ff1800"/><stop offset="0.4162" stop-color="#ff2100"/><stop offset="0.4384" stop-color="#ff2900"/><stop offset="0.4439" stop-color="#ff2a00"/><stop offset="0.4717" stop-color="#ff3200"/><stop offset="0.4994" stop-color="#ff3b00"/><stop offset="0.5272" stop-color="#ff4300"/><stop offset="0.5549" stop-color="#ff4b00"/><stop offset="0.5822" stop-color="#ff5300"/><stop offset="0.5826" stop-color="#ff5300"/><stop offset="0.6104" stop-color="#ff5900"/><stop offset="0.6381" stop-color="#ff5f00"/><stop offset="0.6659" stop-color="#ff6400"/><stop offset="0.6936" stop-color="#ff6a00"/><stop offset="0.7202" stop-color="#ff7000"/><stop offset="0.7214" stop-color="#ff7000"/><stop offset="0.7491" stop-color="#ff7500"/><stop offset="0.7769" stop-color="#ff7900"/><stop offset="0.8046" stop-color="#ff7e00"/><stop offset="0.8323" stop-color="#ff8200"/><stop offset="0.8601" stop-color="#ff8700"/><stop offset="0.8696" stop-color="#ff8900"/><stop offset="0.8878" stop-color="#ff8e00"/><stop offset="0.9156" stop-color="#ff9700"/><stop offset="0.9433" stop-color="#ff9f00"/><stop offset="0.9711" stop-color="#ffa800"/><stop offset="0.9988" stop-color="#ffb000"/><stop offset="1.0000" stop-color="#ffb100"/></linearGradient>
<linearGradient id="g22"><stop offset="0.0000" stop-color="#970000"/><stop offset="0.0277" stop-color="#9f0000"/><stop offset="0.0555" stop-color="#a80000"/><stop offset="0.0832" stop-color="#b10000"/><stop offset="0.1110" stop-color="#ba0000"/><stop offset="0.1387" stop-color="#c20000"/><stop offset="0.1577" stop-color="#c80000"/><stop offset="0.1665" stop-color="#cd0000"/><stop offset="0.1942" stop-color="#dc0000"/><stop offset="0.2220" stop-color="#eb0000"/><stop offset="0.2271" stop-color="#ee0000"/><stop offset="0.2497" stop-color="#f50000"/><stop offset="0.2774" stop-color="#fe0000"/><stop offset="0.3008" stop-color="#ff0600"/><stop offset="0.3052" stop-color="#ff0700"/><stop offset="0.3329" stop-color="#ff1000"/><stop offset="0.3607" stop-color="#ff1a00"/><stop offset="0.3884" stop-color="#ff2300"/><stop offset="0.4162" stop-color="#ff2c00"/><stop offset="0.4384" stop-color="#ff3300"/><stop offset="0.4439" stop-color="#ff3500"/><stop offset="0.4717" stop-color="#ff3c00"/><stop offset="0.4994" stop-color="#ff4400"/><stop offset="0.5272" stop-color="#ff4b00"/><stop offset="0.5549" stop-color="#ff5200"/><stop offset="0.5822" stop-color="#ff5a00"/><stop offset="0.5826" stop-color="#ff5a00"/><stop offset="0.6104" stop-color="#ff5f00"/><stop offset="0.6381" stop-color="#ff6400"/><stop offset="0.6659" stop-color="#ff6900"/><stop offset="0.6936" stop-color="#ff6e00"/><stop offset="0.7202" stop-color="#ff7300"/><stop offset="0.7214" stop-color="#ff7300"/><stop offset="0.7491" stop-color="#ff7900"/><stop offset="0.7769" stop-color="#ff7e00"/><stop offset="0.8046" stop-color="#ff8300"/><stop offset="0.8323" stop-color="#ff8800"/><stop offset="0.8601" stop-color="#ff8e00"/><stop offset="0.8696" stop-color="#ff8f00"/><stop offset="0.8878" stop-color="#ff9500"/><stop offset="0.9156" stop-color="#ff9e00"/><stop offset="0.9433" stop-color="#ffa600"/><stop offset="0.9711" stop-color="#ffaf00"/><stop offset="0.9988" stop-color="#ffb800"/><stop offset="1.0000" stop-color="#ffb800"/></linearGradient>
<linearGradient id="g23"><stop offset="0.0000" stop-color="#9d0000"/><stop offset="0.0277" stop-color="#a60000"/><stop offset="0.0555" stop-color="#af0000"/><stop offset="0.0832" stop-color="#b80000"/><stop offset="0.1110" stop-color="#c10000"/><stop offset="0.1387" stop-color="#ca0000"/><stop offset="0.1577" stop-color="#d10000"/><stop offset="0.1665" stop-color="#d60000"/><stop offset="0.1942" stop-color="#e60000"/><stop offset="0.2220" stop-color="#f50000"/><stop offset="0.2271" stop-color="#f80000"/><stop offset="0.2497" stop-color="#ff0100"/><stop offset="0.2774" stop-color="#ff0a00"/><stop offset="0.3008" stop-color="#ff1200"/><stop offset="0.3052" stop-color="#ff1300"/><stop offset="0.3329" stop-color="#ff1c00"/><stop offset="0.3607" stop-color="#ff2400"/><stop offset="0.3884" stop-color="#ff2d00"/><stop offset="0.4162" stop-color="#ff3600"/><stop offset="0.4384" stop-color="#ff3d00"/><stop offset="0.4439" stop-color="#ff3e00"/><stop offset="0.4717" stop-color="#ff4500"/><stop offset="0.4994" stop-color="#ff4b00"/><stop offset="0.5272" stop-color="#ff5200"/><stop offset="0.5549" stop-color="#ff5900"/><stop offset="0.5822" stop-color="#ff5f00"/><stop offset="0.5826" stop-color="#ff6000"/><stop offset="0.6104" stop-color="#ff6400"/><stop offset="0.6381" stop-color="#ff6900"/><stop offset="0.6659" stop-color="#ff6e00"/><stop offset="0.6936" stop-color="#ff7300"/><stop offset="0.7202" stop-color="#ff7800"/><stop offset="0.7214" stop-color="#ff7800"/><stop offset="0.7491" stop-color="#ff7e00"/><stop offset="0.7769" stop-color="#ff8400"/><stop offset="0.8046" stop-color="#ff8900"/><stop offset="0.8323" stop-color="#ff8f00"/><stop offset="0.8601" stop-color="#ff9500"/><stop offset="0.8696" stop-color="#ff9700"/><stop offset="0.8878" stop-color="#ff9c00"/><stop offset="0.9156" stop-color="#ffa500"/><stop offset="0.9433" stop-color="#ffae00"/><stop offset="0.9711" stop-color="#ffb700"/><stop offset="0.9988" stop-color="#ffbf00"/><stop offset="1.0000" stop-color="#ffc000"/></linearGradient>
<linearGradient id="g24"><stop offset="0.0000" stop-color="#a50000"/><stop offset="0.0277" stop-color="#af0000"/><stop offset="0.0555" stop-color="#b80000"/><stop offset="0.0832" stop-color="#c10000"/><stop offset="0.1110" stop-color="#ca0000"/><stop offset="0.1387" stop-color="#d40000"/><stop offset="0.1577" stop-color="#da0000"/><stop offset="0.1665" stop-color="#df0000"/><stop offset="0.1942" stop-color="#ef0000"/><stop offset="0.2220" stop-color="#ff0100"/><stop offset="0.2271" stop-color="#ff0400"/><stop offset="0.2497" stop-color="#ff0b00"/><stop offset="0.2774" stop-color="#ff1500"/><stop offset="0.3008" stop-color="#ff1d00"/><stop offset="0.3052" stop-color="#ff1e00"/><stop offset="0.3329" stop-color="#ff2700"/><stop offset="0.3607" stop-color="#ff2f00"/><stop offset="0.3884" stop-color="#ff3700"/><stop offset="0.4162" stop-color="#ff3f00"/><stop offset="0.4384" stop-color="#ff4600"/><stop offset="0.4439" stop-color="#ff4700"/><stop offset="0.4717" stop-color="#ff4d00"/><stop offset="0.4994" stop-color="#ff5300"/><stop offset="0.5272" stop-color="#ff5900"/><stop offset="0.5549" stop-color="#ff5f00"/><stop offset="0.5822" stop-color="#ff6500"/><stop offset="0.5826" stop-color="#ff6500"/><stop offset="0.6104" stop-color="#ff6b00"/><stop offset="0.6381" stop-color="#ff7000"/><stop offset="0.6659" stop-color="#ff7500"/><stop offset="0.6936" stop-color="#ff7b00"/><stop offset="0.7202" stop-color="#ff8000"/><stop offset="0.7214" stop-color="#ff8000"/><stop offset="0.7491" stop-color="#ff8600"/><stop offset="0.7769" stop-color="#ff8b00"/><stop offset="0.8046" stop-color="#ff9100"/><stop offset="0.8323" stop-color="#ff9700"/><stop offset="0.8601" stop-color="#ff9c00"/><stop offset="0.8696" stop-color="#ff9e00"/><stop offset="0.8878" stop-color="#ffa400"/><stop offset="0.9156" stop-color="#ffad00"/><stop offset="0.9433" stop-color="#ffb600"/><stop offset="0.9711" stop-color="#ffbf00"/><stop offset="0.9988" stop-color="#ffc800"/><stop offset="1.0000" stop-color="#ffc900"/></linearGradient>
<linearGradient id="g25"><stop offset="0.0000" stop-color="#af0000"/><stop offset="0.0277" stop-color="#b90000"/><stop offset="0.0555" stop-color="#c20000"/><stop offset="0.0832" stop-color="#cc0000"/><stop offset="0.1110" stop-color="#d50000"/><stop offset="0.1387" stop-color="#df0000"/><stop offset="0.1577" stop-color="#e50000"/><stop offset="0.1665" stop-color="#ea0000"/><stop offset="0.1942" stop-color="#fa0000"/><stop offset="0.2220" stop-color="#ff0b00"/><stop offset="0.2271" stop-color="#ff0e00"/><stop offset="0.2497" stop-color="#ff1600"/><stop offset="0.2774" stop-color="#ff1f00"/><stop offset="0.3008" stop-color="#ff2700"/><stop offset="0.3052" stop-color="#ff2900"/><stop offset="0.3329" stop-color="#ff3000"/><stop offset="0.3607" stop-color="#ff3800"/><stop offset="0.3884" stop-color="#ff4000"/><stop offset="0.4162" stop-color="#ff4800"/><stop offset="0.4384" stop-color="#ff4f00"/><stop offset="0.4439" stop-color="#ff5000"/><stop offset="0.4717" stop-color="#ff5500"/><stop offset="0.4994" stop-color="#ff5b00"/><stop offset="0.5272" stop-color="#ff6100"/><stop offset="0.5549" stop-color="#ff6600"/><stop offset="0.5822" stop-color="#ff6c00"/><stop offset="0.5826" stop-color="#ff6c00"/><stop offset="0.6104" stop-color="#ff7200"/><stop offset="0.6381" stop-color="#ff7700"/><stop offset="0.6659" stop-color="#ff7d00"/><stop offset="0.6936" stop-color="#ff8200"/><stop offset="0.7202" stop-color="#ff8700"/><stop offset="0.7214" stop-color="#ff8800"/><stop offset="0.7491" stop-color="#ff8d00"/><stop offset="0.7769" stop-color="#ff9300"/><stop offset="0.8046" stop-color="#ff9900"/><stop offset="0.8323" stop-color="#ff9e00"/><stop offset="0.8601" stop-color="#ffa400"/><stop offset="0.8696" stop-color="#ffa600"/><stop offset="0.8878" stop-color="#ffac00"/><stop offset="0.9156" stop-color="#ffb500"/><stop offset="0.9433" stop-color="#ffbf00"/><stop offset="0.9711" stop-color="#ffc800"/><stop offset="0.9988" stop-color="#ffd100"/><stop offset="1.0000" stop-color="#ffd200"/></linearGradient>
<linearGradient id="g26"><stop offset="0.0000" stop-color="#b90000"/><stop offset="0.0277" stop-color="#c30000"/><stop offset="0.0555" stop-color="#cc0000"/><stop offset="0.0832" stop-color="#d60000"/><stop offset="0.1110" stop-color="#e00000"/><stop offset="0.1387" stop-color="#ea0000"/><stop offset="0.1577" stop-color="#f10000"/><stop offset="0.1665" stop-color="#f60000"/><stop offset="0.1942" stop-color="#ff0600"/><stop offset="0.2220" stop-color="#ff1500"/><stop offset="0.2271" stop-color="#ff1800"/><stop offset="0.2497" stop-color="#ff2000"/><stop offset="0.2774" stop-color="#ff2900"/><stop offset="0.3008" stop-color="#ff3100"/><stop offset="0.3052" stop-color="#ff3300"/><stop offset="0.3329" stop-color="#ff3a00"/><stop offset="0.3607" stop-color="#ff4200"/><stop offset="0.3884" stop-color="#ff4900"/><stop offset="0.4162" stop-color="#ff5100"/><stop offset="0.4384" stop-color="#ff5700"/><stop offset="0.4439" stop-color="#ff5800"/><stop offset="0.4717" stop-color="#ff5d00"/><stop offset="0.4994" stop-color="#ff6300"/><stop offset="0.5272" stop-color="#ff6800"/><stop offset="0.5549" stop-color="#ff6e00"/><stop offset="0.5822" stop-color="#ff7300"/><stop offset="0.5826" stop-color="#ff7300"/><stop offset="0.6104" stop-color="#ff7900"/><stop offset="0.6381" stop-color="#ff7e00"/><stop offset="0.6659" stop-color="#ff8400"/><stop offset="0.6936" stop-color="#ff8a00"/><stop offset="0.7202" stop-color="#ff8f00"/><stop offset="0.7214" stop-color="#ff9000"/><stop offset="0.7491" stop-color="#ff9500"/><stop offset="0.7769" stop-color="#ff9b00"/><stop offset="0.8046" stop-color="#ffa100"/><stop offset="0.8323" stop-color="#ffa600"/><stop offset="0.8601" stop-color="#ffac00"/><stop offset="0.8696" stop-color="#ffae00"/><stop offset="0.8878" stop-color="#ffb400"/><stop offset="0.9156" stop-color="#ffbe00"/><stop offset="0.9433" stop-color="#ffc700"/><stop offset="0.9711" stop-color="#ffd100"/><stop offset="0.9988" stop-color="#ffda00"/><stop offset="1.0000" stop-color="#ffdb00"/></linearGradient>
<linearGradient id="g27"><stop offset="0.0000" stop-color="#c20000"/><stop offset="0.0277" stop-color="#cd0000"/><stop offset="0.0555" stop-color="#d80000"/><stop offset="0.0832" stop-color="#e20000"/><stop offset="0.1110" stop-color="#ed0000"/><stop offset="0.1387" stop-color="#f80000"/><stop offset="0.1577" stop-color="#ff0000"/><stop offset="0.1665" stop-color="#ff0400"/><stop offset="0.1942" stop-color="#ff1200"/><stop offset="0.2220" stop-color="#ff2000"/><stop offset="0.2271" stop-color="#ff2200"/><stop offset="0.2497" stop-color="#ff2a00"/><stop offset="0.2774" stop-color="#ff3400"/><stop offset="0.3008" stop-color="#ff3c00"/><stop offset="0.3052" stop-color="#ff3d00"/><stop offset="0.3329" stop-color="#ff4400"/><stop offset="0.3607" stop-color="#ff4b00"/><stop offset="0.3884" stop-color="#ff5200"/><stop offset="0.4162" stop-color="#ff5a00"/><stop offset="0.4384" stop-color="#ff5f00"/><stop offset="0.4439" stop-color="#ff6000"/><stop offset="0.4717" stop-color="#ff6500"/><stop offset="0.4994" stop-color="#ff6b00"/><stop offset="0.5272" stop-color="#ff7000"/><stop offset="0.5549" stop-color="#ff7500"/><stop offset="0.5822" stop-color="#ff7a00"/><stop offset="0.5826" stop-color="#ff7a00"/><stop offset="0.6104" stop-color="#ff8000"/><stop offset="0.6381" stop-color="#ff8600"/><stop offset="0.6659" stop-color="#ff8d00"/><stop offset="0.6936" stop-color="#ff9300"/><stop offset="0.7202" stop-color="#ff9900"/><stop offset="0.7214" stop-color="#ff9900"/><stop offset="0.7491" stop-color="#ff9f00"/><stop offset="0.7769" stop-color="#ffa500"/><stop offset="0.8046" stop-color="#ffab00"/><stop offset="0.8323" stop-color="#ffb100"/><stop offset="0.8601" stop-color="#ffb700"/><stop offset="0.8696" stop-color="#ffb900"/><stop offset="0.8878" stop-color="#ffbf00"/><stop offset="0.9156" stop-color="#ffc800"/><stop offset="0.9433" stop-color="#ffd100"/><stop offset="0.9711" stop-color="#ffda00"/><stop offset="0.9988" stop-color="#ffe400"/><stop offset="1.0000" stop-color="#ffe400"/></linearGradient>
<linearGradient id="g28"><stop offset="0.0000" stop-color="#cc0000"/><stop offset="0.0277" stop-color="#d80000"/><stop offset="0.0555" stop-color="#e30000"/><stop offset="0.0832" stop-color="#ee0000"/><stop offset="0.1110" stop-color="#f90000"/><stop offset="0.1387" stop-color="#ff0600"/><stop offset="0.1577" stop-color="#ff0e00"/><stop offset="0.1665" stop-color="#ff1100"/><stop offset="0.1942" stop-color="#ff1e00"/><stop offset="0.2220" stop-color="#ff2a00"/><stop offset="0.2271" stop-color="#ff2c00"/><stop offset="0.2497" stop-color="#ff3400"/><stop offset="0.2774" stop-color="#ff3e00"/><stop offset="0.3008" stop-color="#ff4600"/><stop offset="0.3052" stop-color="#ff4700"/><stop offset="0.3329" stop-color="#ff4e00"/><stop offset="0.3607" stop-color="#ff5500"/><stop offset="0.3884" stop-color="#ff5b00"/><stop offset="0.4162" stop-color="#ff6200"/><stop offset="0.4384" stop-color="#ff6800"/><stop offset="0.4439" stop-color="#ff6900"/><stop offset="0.4717" stop-color="#ff6e00"/><stop offset="0.4994" stop-color="#ff7300"/><stop offset="0.5272" stop-color="#ff7800"/><stop offset="0.5549" stop-color="#ff7d00"/><stop offset="0.5822" stop-color="#ff8100"/><stop offset="0.5826" stop-color="#ff8200"/><stop offset="0.6104" stop-color="#ff8800"/><stop offset="0.6381" stop-color="#ff8f00"/><stop offset="0.6659" stop-color="#ff9500"/><stop offset="0.6936" stop-color="#ff9c00"/><stop offset="0.7202" stop-color="#ffa200"/><stop offset="0.7214" stop-color="#ffa300"/><stop offset="0.7491" stop-color="#ffa900"/><stop offset="0.7769" stop-color="#ffaf00"/><stop offset="0.8046" stop-color="#ffb600"/><stop offset="0.8323" stop-color="#ffbc00"/><stop offset="0.8601" stop-color="#ffc200"/><stop offset="0.8696" stop-color="#ffc400"/><stop offset="0.8878" stop-color="#ffca00"/><stop offset="0.9156" stop-color="#ffd300"/><stop offset="0.9433" stop-color="#ffdc00"/><stop offset="0.9711" stop-color="#ffe500"/><stop offset="0.9988" stop-color="#ffee00"/><stop offset="1.0000" stop-color="#ffee00"/></linearGradient>
<linearGradient id="g29"><stop offset="0.0000" stop-color="#d70000"/><stop offset="0.0277" stop-color="#e30000"/><stop offset="0.0555" stop-color="#ef0000"/><stop offset="0.0832" stop-color="#fa0000"/><stop offset="0.1110" stop-color="#ff0700"/><stop offset="0.1387" stop-color="#ff1300"/><stop offset="0.1577" stop-color="#ff1b00"/><stop offset="0.1665" stop-color="#ff1f00"/><stop offset="0.1942" stop-color="#ff2a00"/><stop offset="0.2220" stop-color="#ff3500"/><stop offset="0.2271" stop-color="#ff3700"/><stop offset="0.2497" stop-color="#ff3e00"/><stop offset="0.2774" stop-color="#ff4800"/><stop offset="0.3008" stop-color="#ff5000"/><stop offset="0.3052" stop-color="#ff5100"/><stop offset="0.3329" stop-color="#ff5800"/><stop offset="0.3607" stop-color="#ff5e00"/><stop offset="0.3884" stop-color="#ff6400"/><stop offset="0.4162" stop-color="#ff6b00"/><stop offset="0.4384" stop-color="#ff7000"/><stop offset="0.4439" stop-color="#ff7100"/><stop offset="0.4717" stop-color="#ff7600"/><stop offset="0.4994" stop-color="#ff7c00"/><stop offset="0.5272" stop-color="#ff8100"/><stop offset="0.5549" stop-color="#ff8600"/><stop offset="0.5822" stop-color="#ff8b00"/><stop offset="0.5826" stop-color="#ff8b00"/><stop offset="0.6104" stop-color="#ff9200"/><stop offset="0.6381" stop-color="#ff9800"/><stop offset="0.6659" stop-color="#ff9f00"/><stop offset="0.6936" stop-color="#ffa600"/><stop offset="0.7202" stop-color="#ffac00"/><stop offset="0.7214" stop-color="#ffac00"/><stop offset="0.7491" stop-color="#ffb300"/><stop offset="0.7769" stop-color="#ffb900"/><stop offset="0.8046" stop-color="#ffc000"/><stop offset="0.8323" stop-color="#ffc700"/><stop offset="0.8601" stop-color="#ffcd00"/><stop offset="0.8696" stop-color="#ffcf00"/><stop offset="0.8878" stop-color="#ffd500"/><stop offset="0.9156" stop-color="#ffde00"/><stop offset="0.9433" stop-color="#ffe700"/><stop offset="0.9711" stop-color="#ffef00"/><stop offset="0.9988" stop-color="#fff800"/><stop offset="1.0000" stop-color="#fff800"/></linearGradient>
<linearGradient id="g30"><stop offset="0.0000" stop-color="#e20000"/><stop offset="0.0277" stop-color="#ef0000"/><stop offset="0.0555" stop-color="#fb0000"/><stop offset="0.0832" stop-color="#ff0800"/><stop offset="0.1110" stop-color="#ff1400"/><stop offset="0.1387" stop-color="#ff2000"/><stop offset="0.1577" stop-color="#ff2900"/><stop offset="0.1665" stop-color="#ff2c00"/><stop offset="0.1942" stop-color="#ff3500"/><stop offset="0.2220" stop-color="#ff3f00"/><stop offset="0.2271" stop-color="#ff4100"/><stop offset="0.2497" stop-color="#ff4900"/><stop offset="0.2774" stop-color="#ff5200"/><stop offset="0.3008" stop-color="#ff5a00"/><stop offset="0.3052" stop-color="#ff5b00"/><stop offset="0.3329" stop-color="#ff6100"/><stop offset="0.3607" stop-color="#ff6700"/><stop offset="0.3884" stop-color="#ff6d00"/><stop offset="0.4162" stop-color="#ff7400"/><stop offset="0.4384" stop-color="#ff7800"/><stop offset="0.4439" stop-color="#ff7a00"/><stop offset="0.4717" stop-color="#ff7f00"/><stop offset="0.4994" stop-color="#ff8500"/><stop offset="0.5272" stop-color="#ff8a00"/><stop offset="0.5549" stop-color="#ff9000"/><stop offset="0.5822" stop-color="#ff9500"/><stop offset="0.5826" stop-color="#ff9500"/><stop offset="0.6104" stop-color="#ff9c00"/><stop offset="0.6381" stop-color="#ffa300"/><stop offset="0.6659" stop-color="#ffa900"/><stop offset="0.6936" stop-color="#ffb000"/><stop offset="0.7202" stop-color="#ffb600"/><stop offset="0.7214" stop-color="#ffb700"/><stop offset="0.7491" stop-color="#ffbd00"/><stop offset="0.7769" stop-color="#ffc400"/><stop offset="0.8046" stop-color="#ffcb00"/><stop offset="0.8323" stop-color="#ffd200"/><stop offset="0.8601" stop-color="#ffd800"/><stop offset="0.8696" stop-color="#ffdb00"/><stop offset="0.8878" stop-color="#ffe000"/><stop offset="0.9156" stop-color="#ffe900"/><stop offset="0.9433" stop-color="#fff100"/><stop offset="0.9711" stop-color="#fffa00"/><stop offset="0.9988" stop-color="#fcff03"/><stop offset="1.0000" stop-color="#fbff04"/></linearGradient>
<linearGradient id="g31"><stop offset="0.0000" stop-color="#ee0000"/><stop offset="0.0277" stop-color="#fa0000"/><stop offset="0.0555" stop-color="#ff0800"/><stop offset="0.0832" stop-color="#ff1400"/><stop offset="0.1110" stop-color="#ff2100"/><stop offset="0.1387" stop-color="#ff2e00"/><stop offset="0.1577" stop-color="#ff3600"/><stop offset="0.1665" stop-color="#ff3900"/><stop offset="0.1942" stop-color="#ff4100"/><stop offset="0.2220" stop-color="#ff4900"/><stop offset="0.2271" stop-color="#ff4b00"/><stop offset="0.2497" stop-color="#ff5300"/><stop offset="0.2774" stop-color="#ff5c00"/><stop offset="0.3008" stop-color="#ff6400"/><stop offset="0.3052" stop-color="#ff6500"/><stop offset="0.3329" stop-color="#ff6b00"/><stop offset="0.3607" stop-color="#ff7100"/><stop offset="0.3884" stop-color="#ff7700"/><stop offset="0.4162" stop-color="#ff7c00"/><stop offset="0.4384" stop-color="#ff8100"/><stop offset="0.4439" stop-color="#ff8200"/><stop offset="0.4717" stop-color="#ff8800"/><stop offset="0.4994" stop-color="#ff8e00"/><stop offset="0.5272" stop-color="#ff9300"/><stop offset="0.5549" stop-color="#ff9900"/><stop offset="0.5822" stop-color="#ff9f00"/><stop offset="0.5826" stop-color="#ff9f00"/><stop offset="0.6104" stop-color="#ffa600"/><stop offset="0.6381" stop-color="#ffad00"/><stop offset="0.6659" stop-color="#ffb400"/><stop offset="0.6936" stop-color="#ffbb00"/><stop offset="0.7202" stop-color="#ffc100"/><stop offset="0.7214" stop-color="#ffc100"/><stop offset="0.7491" stop-color="#ffc800"/><stop offset="0.7769" stop-color="#ffcf00"/><stop offset="0.8046" stop-color="#ffd600"/><stop offset="0.8323" stop-color="#ffdd00"/><stop offset="0.8601" stop-color="#ffe400"/><stop offset="0.8696" stop-color="#ffe600"/><stop offset="0.8878" stop-color="#ffeb00"/><stop offset="0.9156" stop-color="#fff400"/><stop offset="0.9433" stop-color="#fffc00"/><stop offset="0.9711" stop-color="#faff05"/><stop offset="0.9988" stop-color="#f2ff0d"/><stop offset="1.0000" stop-color="#f1ff0e"/></linearGradient>
<linearGradient id="g32"><stop offset="0.0000" stop-color="#fd0000"/><stop offset="0.0277" stop-color="#ff0900"/><stop offset="0.0555" stop-color="#ff1500"/><stop offset="0.0832" stop-color="#ff2000"/><stop offset="0.1110" stop-color="#ff2c00"/><stop offset="0.1387" stop-color="#ff3700"/><stop offset="0.1577" stop-color="#ff3f00"/><stop offset="0.1665" stop-color="#ff4200"/><stop offset="0.1942" stop-color="#ff4a00"/><stop offset="0.2220" stop-color="#ff5300"/><stop offset="0.2271" stop-color="#ff5500"/><stop offset="0.2497" stop-color="#ff5d00"/><stop offset="0.2774" stop-color="#ff6600"/><stop offset="0.3008" stop-color="#ff6f00"/><stop offset="0.3052" stop-color="#ff6f00"/><stop offset="0.3329" stop-color="#ff7500"/><stop offset="0.3607" stop-color="#ff7a00"/><stop offset="0.3884" stop-color="#ff7f00"/><stop offset="0.4162" stop-color="#ff8400"/><stop offset="0.4384" stop-color="#ff8900"/><stop offset="0.4439" stop-color="#ff8a00"/><stop offset="0.4717" stop-color="#ff9000"/><stop offset="0.4994" stop-color="#ff9600"/><stop offset="0.5272" stop-color="#ff9c00"/><stop offset="0.5549" stop-color="#ffa300"/><stop offset="0.5822" stop-color="#ffa900"/><stop offset="0.5826" stop-color="#ffa900"/><stop offset="0.6104" stop-color="#ffb000"/><stop offset="0.6381" stop-color="#ffb700"/><stop offset="0.6659" stop-color="#ffbe00"/><stop offset="0.6936" stop-color="#ffc500"/><stop offset="0.7202" stop-color="#ffcc00"/><stop offset="0.7214" stop-color="#ffcc00"/><stop offset="0.7491" stop-color="#ffd300"/><stop offset="0.7769" stop-color="#ffda00"/><stop offset="0.8046" stop-color="#ffe100"/><stop offset="0.8323" stop-color="#ffe800"/><stop offset="0.8601" stop-color="#ffef00"/><stop offset="0.8696" stop-color="#fff200"/><stop offset="0.8878" stop-color="#fff700"/><stop offset="0.9156" stop-color="#ffff00"/><stop offset="0.9433" stop-color="#f7ff08"/><stop offset="0.9711" stop-color="#efff10"/><stop offset="0.9988" stop-color="#e7ff18"/><stop offset="1.0000" stop-color="#e7ff18"/></linearGradient>
<linearGradient id="g33"><stop offset="0.0000" stop-color="#ff0e00"/><stop offset="0.0277" stop-color="#ff1800"/><stop offset="0.0555" stop-color="#ff2200"/><stop offset="0.0832" stop-color="#ff2c00"/><stop offset="0.1110" stop-color="#ff3600"/><stop offset="0.1387" stop-color="#ff4000"/><stop offset="0.1577" stop-color="#ff4700"/><stop offset="0.1665" stop-color="#ff4a00"/><stop offset="0.1942" stop-color="#ff5300"/><stop offset="0.2220" stop-color="#ff5c00"/><stop offset="0.2271" stop-color="#ff5e00"/><stop offset="0.2497" stop-color="#ff6600"/><stop offset="0.2774" stop-color="#ff7000"/><stop offset="0.3008" stop-color="#ff7800"/><stop offset="0.3052" stop-color="#ff7900"/><stop offset="0.3329" stop-color="#ff7e00"/><stop offset="0.3607" stop-color="#ff8300"/><stop offset="0.3884" stop-color="#ff8700"/><stop offset="0.4162" stop-color="#ff8c00"/><stop offset="0.4384" stop-color="#ff9000"/><stop offset="0.4439" stop-color="#ff9100"/><stop offset="0.4717" stop-color="#ff9800"/><stop offset="0.4994" stop-color="#ff9f00"/><stop offset="0.5272" stop-color="#ffa500"/><stop offset="0.5549" stop-color="#ffac00"/><stop offset="0.5822" stop-color="#ffb200"/><stop offset="0.5826" stop-color="#ffb200"/><stop offset="0.6104" stop-color="#ffba00"/><stop offset="0.6381" stop-color="#ffc100"/><stop offset="0.6659" stop-color="#ffc800"/><stop offset="0.6936" stop-color="#ffcf00"/><stop offset="0.7202" stop-color="#ffd600"/><stop offset="0.7214" stop-color="#ffd600"/><stop offset="0.7491" stop-color="#ffde00"/><stop offset="0.7769" stop-color="#ffe500"/><stop offset="0.8046" stop-color="#ffed00"/><stop offset="0.8323" stop-color="#fff500"/><stop offset="0.8601" stop-color="#fffc00"/><stop offset="0.8696" stop-color="#ffff00"/><stop offset="0.8878" stop-color="#faff05"/><stop offset="0.9156" stop-color="#f3ff0c"/><stop offset="0.9433" stop-color="#ecff13"/><stop offset="0.9711" stop-color="#e4ff1b"/><stop offset="0.9988" stop-color="#ddff22"/><stop offset="1.0000" stop-color="#ddff22"/></linearGradient>
<linearGradient id="g34"><stop offset="0.0000" stop-color="#ff1d00"/><stop offset="0.0277" stop-color="#ff2600"/><stop offset="0.0555" stop-color="#ff2e00"/><stop offset="0.0832" stop-color="#ff3700"/><stop offset="0.1110" stop-color="#ff4000"/><stop offset="0.1387" stop-color="#ff4900"/><stop offset="0.1577" stop-color="#ff4f00"/><stop offset="0.1665" stop-color="#ff5200"/><stop offset="0.1942" stop-color="#ff5b00"/><stop offset="0.2220" stop-color="#ff6500"/><stop offset="0.2271" stop-color="#ff6700"/><stop offset="0.2497" stop-color="#ff6f00"/><stop offset="0.2774" stop-color="#ff7800"/><stop offset="0.3008" stop-color="#ff8100"/><stop offset="0.3052" stop-color="#ff8100"/><stop offset="0.3329" stop-color="#ff8600"/><stop offset="0.3607" stop-color="#ff8b00"/><stop offset="0.3884" stop-color="#ff8f00"/><stop offset="0.4162" stop-color="#ff9400"/><stop offset="0.4384" stop-color="#ff9700"/><stop offset="0.4439" stop-color="#ff9900"/><stop offset="0.4717" stop-color="#ffa000"/><stop offset="0.4994" stop-color="#ffa700"/><stop offset="0.5272" stop-color="#ffae00"/><stop offset="0.5549" stop-color="#ffb500"/><stop offset="0.5822" stop-color="#ffbc00"/><stop offset="0.5826" stop-color="#ffbc00"/><stop offset="0.6104" stop-color="#ffc300"/><stop offset="0.6381" stop-color="#ffca00"/><stop offset="0.6659" stop-color="#ffd100"/><stop offset="0.6936" stop-color="#ffd800"/><stop offset="0.7202" stop-color="#ffdf00"/><stop offset="0.7214" stop-color="#ffe000"/><stop offset="0.7491" stop-color="#ffe800"/><stop offset="0.7769" stop-color="#fff000"/><stop offset="0.8046" stop-color="#fff800"/><stop offset="0.8323" stop-color="#feff01"/><stop offset="0.8601" stop-color="#f6ff09"/><stop offset="0.8696" stop-color="#f3ff0c"/><stop offset="0.8878" stop-color="#eeff11"/><stop offset="0.9156" stop-color="#e8ff17"/><stop offset="0.9433" stop-color="#e1ff1e"/><stop offset="0.9711" stop-color="#daff25"/><stop offset="0.9988" stop-color="#d3ff2c"/><stop offset="1.0000" stop-color="#d3ff2c"/></linearGradient>
<linearGradient id="g35"><stop offset="0.0000" stop-color="#ff2a00"/><stop offset="0.0277" stop-color="#ff3200"/><stop offset="0.0555" stop-color="#ff3b00"/><stop offset="0.0832" stop-color="#ff4300"/><stop offset="0.1110" stop-color="#ff4b00"/><stop offset="0.1387" stop-color="#ff5300"/><stop offset="0.1577" stop-color="#ff5900"/><stop offset="0.1665" stop-color="#ff5b00"/><stop offset="0.1942" stop-color="#ff6500"/><stop offset="0.2220" stop-color="#ff6e00"/><stop offset="0.2271" stop-color="#ff6f00"/><stop offset="0.2497" stop-color="#ff7700"/><stop offset="0.2774" stop-color="#ff8100"/><stop offset="0.3008" stop-color="#ff8900"/><stop offset="0.3052" stop-color="#ff8a00"/><stop offset="0.3329" stop-color="#ff8e00"/><stop offset="0.3607" stop-color="#ff9200"/><stop offset="0.3884" stop-color="#ff9700"/><stop offset="0.4162" stop-color="#ff9b00"/><stop offset="0.4384" stop-color="#ff9e00"/><stop offset="0.4439" stop-color="#ffa000"/><stop offset="0.4717" stop-color="#ffa800"/><stop offset="0.4994" stop-color="#ffaf00"/><stop offset="0.5272" stop-color="#ffb700"/><stop offset="0.5549" stop-color="#ffbe00"/><stop offset="0.5822" stop-color="#ffc600"/><stop offset="0.5826" stop-color="#ffc600"/><stop offset="0.6104" stop-color="#ffcd00"/><stop offset="0.6381" stop-color="#ffd400"/><stop offset="0.6659" stop-color="#ffdb00"/><stop offset="0.6936" stop-color="#ffe200"/><stop offset="0.7202" stop-color="#ffe900"/><stop offset="0.7214" stop-color="#ffe900"/><stop offset="0.7491" stop-color="#fff100"/><stop offset="0.7769" stop-color="#fff900"/><stop offset="0.8046" stop-color="#fcff03"/><stop offset="0.8323" stop-color="#f4ff0b"/><stop offset="0.8601" stop-color="#ecff13"/><stop offset="0.8696" stop-color="#e9ff16"/><stop offset="0.8878" stop-color="#e5ff1a"/><stop offset="0.9156" stop-color="#deff21"/><stop offset="0.9433" stop-color="#d7ff28"/><stop offset="0.9711" stop-color="#d0ff2f"/><stop offset="0.9988" stop-color="#c9ff36"/><stop offset="1.0000" stop-color="#c8ff37"/></linearGradient>
<linearGradient id="g36"><stop offset="0.0000" stop-color="#ff3800"/><stop offset="0.0277" stop-color="#ff3f00"/><stop offset="0.0555" stop-color="#ff4700"/><stop offset="0.0832" stop-color="#ff4e00"/><stop offset="0.1110" stop-color="#ff5600"/><stop offset="0.1387" stop-color="#ff5d00"/><stop offset="0.1577" stop-color="#ff6200"/><stop offset="0.1665" stop-color="#ff6500"/><stop offset="0.1942" stop-color="#ff6e00"/><stop offset="0.2220" stop-color="#ff7800"/><stop offset="0.2271" stop-color="#ff7900"/><stop offset="0.2497" stop-color="#ff8100"/><stop offset="0.2774" stop-color="#ff8a00"/><stop offset="0.3008" stop-color="#ff9100"/><stop offset="0.3052" stop-color="#ff9200"/><stop offset="0.3329" stop-color="#ff9600"/><stop offset="0.3607" stop-color="#ff9b00"/><stop offset="0.3884" stop-color="#ff9f00"/><stop offset="0.4162" stop-color="#ffa300"/><stop offset="0.4384" stop-color="#ffa700"/><stop offset="0.4439" stop-color="#ffa900"/><stop offset="0.4717" stop-color="#ffb100"/><stop offset="0.4994" stop-color="#ffb900"/><stop offset="0.5272" stop-color="#ffc100"/><stop offset="0.5549" stop-color="#ffc900"/><stop offset="0.5822" stop-color="#ffd100"/><stop offset="0.5826" stop-color="#ffd100"/><stop offset="0.6104" stop-color="#ffd800"/><stop offset="0.6381" stop-color="#ffdf00"/><stop offset="0.6659" stop-color="#ffe600"/><stop offset="0.6936" stop-color="#ffec00"/><stop offset="0.7202" stop-color="#fff300"/><stop offset="0.7214" stop-color="#fff300"/><stop offset="0.7491" stop-color="#fffb00"/><stop offset="0.7769" stop-color="#fbff04"/><stop offset="0.8046" stop-color="#f3ff0c"/><stop offset="0.8323" stop-color="#eaff15"/><stop offset="0.8601" stop-color="#e2ff1d"/><stop offset="0.8696" stop-color="#e0ff1f"/><stop offset="0.8878" stop-color="#dbff24"/><stop offset="0.9156" stop-color="#d4ff2b"/><stop offset="0.9433" stop-color="#cdff32"/><stop offset="0.9711" stop-color="#c6ff39"/><stop offset="0.9988" stop-color="#bfff40"/><stop offset="1.0000" stop-color="#beff41"/></linearGradient>
<linearGradient id="g37"><stop offset="0.0000" stop-color="#ff4500"/><stop offset="0.0277" stop-color="#ff4d00"/><stop offset="0.0555" stop-color="#ff5400"/><stop offset="0.0832" stop-color="#ff5c00"/><stop offset="0.1110" stop-color="#ff6300"/><stop offset="0.1387" stop-color="#ff6a00"/><stop offset="0.1577" stop-color="#ff7000"/><stop offset="0.1665" stop-color="#ff7200"/><stop offset="0.1942" stop-color="#ff7b00"/><stop offset="0.2220" stop-color="#ff8400"/><stop offset="0.2271" stop-color="#ff8500"/><stop offset="0.2497" stop-color="#ff8b00"/><stop offset="0.2774" stop-color="#ff9200"/><stop offset="0.3008" stop-color="#ff9800"/><stop offset="0.3052" stop-color="#ff9900"/><stop offset="0.3329" stop-color="#ff9e00"/><stop offset="0.3607" stop-color="#ffa300"/><stop offset="0.3884" stop-color="#ffa800"/><stop offset="0.4162" stop-color="#ffad00"/><stop offset="0.4384" stop-color="#ffb200"/><stop offset="0.4439" stop-color="#ffb300"/><stop offset="0.4717" stop-color="#ffbb00"/><stop offset="0.4994" stop-color="#ffc400"/><stop offset="0.5272" stop-color="#ffcc00"/><stop offset="0.5549" stop-color="#ffd400"/><stop offset="0.5822" stop-color="#ffdc00"/><stop offset="0.5826" stop-color="#ffdc00"/><stop offset="0.6104" stop-color="#ffe300"/><stop offset="0.6381" stop-color="#ffeb00"/><stop offset="0.6659" stop-color="#fff200"/><stop offset="0.6936" stop-color="#fff900"/><stop offset="0.7202" stop-color="#feff01"/><stop offset="0.7214" stop-color="#feff01"/><stop offset="0.7491" stop-color="#f7ff08"/><stop offset="0.7769" stop-color="#efff10"/><stop offset="0.8046" stop-color="#e8ff17"/><stop offset="0.8323" stop-color="#e1ff1e"/><stop offset="0.8601" stop-color="#d9ff26"/><stop offset="0.8696" stop-color="#d7ff28"/><stop offset="0.8878" stop-color="#d2ff2d"/><stop offset="0.9156" stop-color="#cbff34"/><stop offset="0.9433" stop-color="#c4ff3b"/><stop offset="0.9711" stop-color="#bdff42"/><stop offset="0.9988" stop-color="#b5ff4a"/><stop offset="1.0000" stop-color="#b5ff4a"/></linearGradient>
<linearGradient id="g38"><stop offset="0.0000" stop-color="#ff5300"/><stop offset="0.0277" stop-color="#ff5b00"/><stop offset="0.0555" stop-color="#ff6300"/><stop offset="0.0832" stop-color="#ff6a00"/><stop offset="0.1110" stop-color="#ff7200"/><stop offset="0.1387" stop-color="#ff7a00"/><stop offset="0.1577" stop-color="#ff7f00"/><stop offset="0.1665" stop-color="#ff8200"/><stop offset="0.1942" stop-color="#ff8900"/><stop offset="0.2220" stop-color="#ff9000"/><stop offset="0.2271" stop-color="#ff9100"/><stop offset="0.2497" stop-color="#ff9500"/><stop offset="0.2774" stop-color="#ff9a00"/><stop offset="0.3008" stop-color="#ff9f00"/><stop offset="0.3052" stop-color="#ffa000"/><stop offset="0.3329" stop-color="#ffa600"/><stop offset="0.3607" stop-color="#ffac00"/><stop offset="0.3884" stop-color="#ffb100"/><stop offset="0.4162" stop-color="#ffb700"/><stop offset="0.4384" stop-color="#ffbc00"/><stop offset="0.4439" stop-color="#ffbe00"/><stop offset="0.4717" stop-color="#ffc600"/><stop offset="0.4994" stop-color="#ffce00"/><stop offset="0.5272" stop-color="#ffd700"/><stop offset="0.5549" stop-color="#ffdf00"/><stop offset="0.5822" stop-color="#ffe700"/><stop offset="0.5826" stop-color="#ffe700"/><stop offset="0.6104" stop-color="#ffef00"/><stop offset="0.6381" stop-color="#fff600"/><stop offset="0.6659" stop-color="#fffd00"/><stop offset="0.6936" stop-color="#f9ff06"/><stop offset="0.7202" stop-color="#f2ff0d"/><stop offset="0.7214" stop-color="#f2ff0d"/><stop offset="0.7491" stop-color="#ebff14"/><stop offset="0.7769" stop-color="#e5ff1a"/><stop offset="0.8046" stop-color="#deff21"/><stop offset="0.8323" stop-color="#d8ff27"/><stop offset="0.8601" stop-color="#d1ff2e"/><stop offset="0.8696" stop-color="#cfff30"/><stop offset="0.8878" stop-color="#caff35"/><stop offset="0.9156" stop-color="#c3ff3c"/><stop offset="0.9433" stop-color="#bbff44"/><stop offset="0.9711" stop-color="#b4ff4b"/><stop offset="0.9988" stop-color="#acff53"/><stop offset="1.0000" stop-color="#acff53"/></linearGradient>
<linearGradient id="g39"><stop offset="0.0000" stop-color="#ff6100"/><stop offset="0.0277" stop-color="#ff6900"/><stop offset="0.0555" stop-color="#ff7100"/><stop offset="0.0832" stop-color="#ff7900"/><stop offset="0.1110" stop-color="#ff8100"/><stop offset="0.1387" stop-color="#ff8900"/><stop offset="0.1577" stop-color="#ff8e00"/><stop offset="0.1665" stop-color="#ff9000"/><stop offset="0.1942" stop-color="#ff9600"/><stop offset="0.2220" stop-color="#ff9c00"/><stop offset="0.2271" stop-color="#ff9d00"/><stop offset="0.2497" stop-color="#ffa000"/><stop offset="0.2774" stop-color="#ffa400"/><stop offset="0.3008" stop-color="#ffa700"/><stop offset="0.3052" stop-color="#ffa800"/><stop offset="0.3329" stop-color="#ffae00"/><stop offset="0.3607" stop-color="#ffb500"/><stop offset="0.3884" stop-color="#ffbb00"/><stop offset="0.4162" stop-color="#ffc200"/><stop offset="0.4384" stop-color="#ffc700"/><stop offset="0.4439" stop-color="#ffc800"/><stop offset="0.4717" stop-color="#ffd100"/><stop offset="0.4994" stop-color="#ffd900"/><stop offset="0.5272" stop-color="#ffe200"/><stop offset="0.5549" stop-color="#ffea00"/><stop offset="0.5822" stop-color="#fff300"/><stop offset="0.5826" stop-color="#fff300"/><stop offset="0.6104" stop-color="#fffa00"/><stop offset="0.6381" stop-color="#fdff02"/><stop offset="0.6659" stop-color="#f6ff09"/><stop offset="0.6936" stop-color="#eeff11"/><stop offset="0.7202" stop-color="#e7ff18"/><stop offset="0.7214" stop-color="#e7ff18"/><stop offset="0.7491" stop-color="#e1ff1e"/><stop offset="0.7769" stop-color="#dbff24"/><stop offset="0.8046" stop-color="#d5ff2a"/><stop offset="0.8323" stop-color="#cfff30"/><stop offset="0.8601" stop-color="#c9ff36"/><stop offset="0.8696" stop-color="#c7ff38"/><stop offset="0.8878" stop-color="#c2ff3d"/><stop offset="0.9156" stop-color="#baff45"/><stop offset="0.9433" stop-color="#b3ff4c"/><stop offset="0.9711" stop-color="#abff54"/><stop offset="0.9988" stop-color="#a3ff5c"/><stop offset="1.0000" stop-color="#a3ff5c"/></linearGradient>
<linearGradient id="g40"><stop offset="0.0000" stop-color="#ff7100"/><stop offset="0.0277" stop-color="#ff7900"/><stop offset="0.0555" stop-color="#ff8000"/><stop offset="0.0832" stop-color="#ff8800"/><stop offset="0.1110" stop-color="#ff8f00"/><stop offset="0.1387" stop-color="#ff9700"/><stop offset="0.1577" stop-color="#ff9c00"/><stop offset="0.1665" stop-color="#ff9e00"/><stop offset="0.1942" stop-color="#ffa300"/><stop offset="0.2220" stop-color="#ffa800"/><stop offset="0.2271" stop-color="#ffa900"/><stop offset="0.2497" stop-color="#ffac00"/><stop offset="0.2774" stop-color="#ffaf00"/><stop offset="0.3008" stop-color="#ffb200"/><stop offset="0.3052" stop-color="#ffb300"/><stop offset="0.3329" stop-color="#ffb900"/><stop offset="0.3607" stop-color="#ffc000"/><stop offset="0.3884" stop-color="#ffc600"/><stop offset="0.4162" stop-color="#ffcd00"/><stop offset="0.4384" stop-color="#ffd200"/><stop offset="0.4439" stop-color="#ffd400"/><stop offset="0.4717" stop-color="#ffdc00"/><stop offset="0.4994" stop-color="#ffe500"/><stop offset="0.5272" stop-color="#ffed00"/><stop offset="0.5549" stop-color="#fff600"/><stop offset="0.5822" stop-color="#ffff00"/><stop offset="0.5826" stop-color="#ffff00"/><stop offset="0.6104" stop-color="#f8ff07"/><stop offset="0.6381" stop-color="#f2ff0d"/><stop offset="0.6659" stop-color="#ebff14"/><stop offset="0.6936" stop-color="#e4ff1b"/><stop offset="0.7202" stop-color="#ddff22"/><stop offset="0.7214" stop-color="#ddff22"/><stop offset="0.7491" stop-color="#d7ff28"/><stop offset="0.7769" stop-color="#d1ff2e"/><stop offset="0.8046" stop-color="#ccff33"/><stop offset="0.8323" stop-color="#c6ff39"/><stop offset="0.8601" stop-color="#c0ff3f"/><stop offset="0.8696" stop-color="#beff41"/><stop offset="0.8878" stop-color="#b9ff46"/><stop offset="0.9156" stop-color="#b2ff4d"/><stop offset="0.9433" stop-color="#aaff55"/><stop offset="0.9711" stop-color="#a2ff5d"/><stop offset="0.9988" stop-color="#9aff65"/><stop offset="1.0000" stop-color="#9aff65"/></linearGradient>
<linearGradient id="g41"><stop offset="0.0000" stop-color="#ff8100"/><stop offset="0.0277" stop-color="#ff8800"/><stop offset="0.0555" stop-color="#ff8f00"/><stop offset="0.0832" stop-color="#ff9600"/><stop offset="0.1110" stop-color="#ff9e00"/><stop offset="0.1387" stop-color="#ffa500"/><stop offset="0.1577" stop-color="#ffaa00"/><stop offset="0.1665" stop-color="#ffab00"/><stop offset="0.1942" stop-color="#ffb000"/><stop offset="0.2220" stop-color="#ffb400"/><stop offset="0.2271" stop-color="#ffb500"/><stop offset="0.2497" stop-color="#ffb700"/><stop offset="0.2774" stop-color="#ffba00"/><stop offset="0.3008" stop-color="#ffbd00"/><stop offset="0.3052" stop-color="#ffbe00"/><stop offset="0.3329" stop-color="#ffc400"/><stop offset="0.3607" stop-color="#ffcb00"/><stop offset="0.3884" stop-color="#ffd200"/><stop offset="0.4162" stop-color="#ffd800"/><stop offset="0.4384" stop-color="#ffde00"/><stop offset="0.4439" stop-color="#ffe000"/><stop offset="0.4717" stop-color="#ffe800"/><stop offset="0.4994" stop-color="#fff100"/><stop offset="0.5272" stop-color="#fff900"/><stop offset="0.5549" stop-color="#fcff03"/><stop offset="0.5822" stop-color="#f4ff0b"/><stop offset="0.5826" stop-color="#f4ff0b"/><stop offset="0.6104" stop-color="#edff12"/><stop offset="0.6381" stop-color="#e7ff18"/><stop offset="0.6659" stop-color="#e0ff1f"/><stop offset="0.6936" stop-color="#daff25"/><stop offset="0.7202" stop-color="#d4ff2b"/><stop offset="0.7214" stop-color="#d3ff2c"/><stop offset="0.7491" stop-color="#ceff31"/><stop offset="0.7769" stop-color="#c8ff37"/><stop offset="0.8046" stop-color="#c2ff3d"/><stop offset="0.8323" stop-color="#bdff42"/><stop offset="0.8601" stop-color="#b7ff48"/><stop offset="0.8696" stop-color="#b5ff4a"/><stop offset="0.8878" stop-color="#b0ff4f"/><stop offset="0.9156" stop-color="#a8ff57"/><stop offset="0.9433" stop-color="#a1ff5e"/><stop offset="0.9711" stop-color="#99ff66"/><stop offset="0.9988" stop-color="#91ff6e"/><stop offset="1.0000" stop-color="#91ff6e"/></linearGradient>
<linearGradient id="g42"><stop offset="0.0000" stop-color="#ff9400"/><stop offset="0.0277" stop-color="#ff9a00"/><stop offset="0.0555" stop-color="#ffa000"/><stop offset="0.0832" stop-color="#ffa600"/><stop offset="0.1110" stop-color="#ffac00"/><stop offset="0.1387" stop-color="#ffb200"/><stop offset="0.1577" stop-color="#ffb600"/><stop offset="0.1665" stop-color="#ffb800"/><stop offset="0.1942" stop-color="#ffbc00"/><stop offset="0.2220" stop-color="#ffc000"/><stop offset="0.2271" stop-color="#ffc100"/><stop offset="0.2497" stop-color="#ffc300"/><stop offset="0.2774" stop-color="#ffc500"/><stop offset="0.3008" stop-color="#ffc800"/><stop offset="0.3052" stop-color="#ffc900"/><stop offset="0.3329" stop-color="#ffd000"/><stop offset="0.3607" stop-color="#ffd600"/><stop offset="0.3884" stop-color="#ffdd00"/><stop offset="0.4162" stop-color="#ffe400"/><stop offset="0.4384" stop-color="#ffea00"/><stop offset="0.4439" stop-color="#ffeb00"/><stop offset="0.4717" stop-color="#fff400"/><stop offset="0.4994" stop-color="#fffc00"/><stop offset="0.5272" stop-color="#faff05"/><stop offset="0.5549" stop-color="#f2ff0d"/><stop offset="0.5822" stop-color="#e9ff16"/><stop offset="0.5826" stop-color="#e9ff16"/><stop offset="0.6104" stop-color="#e3ff1c"/><stop offset="0.6381" stop-color="#ddff22"/><stop offset="0.6659" stop-color="#d6ff29"/><stop offset="0.6936" stop-color="#d0ff2f"/><stop offset="0.7202" stop-color="#caff35"/><stop offset="0.7214" stop-color="#caff35"/><stop offset="0.7491" stop-color="#c4ff3b"/><stop offset="0.7769" stop-color="#bfff40"/><stop offset="0.8046" stop-color="#b9ff46"/><stop offset="0.8323" stop-color="#b3ff4c"/><stop offset="0.8601" stop-color="#aeff51"/><stop offset="0.8696" stop-color="#acff53"/><stop offset="0.8878" stop-color="#a7ff58"/><stop offset="0.9156" stop-color="#9fff60"/><stop offset="0.9433" stop-color="#97ff68"/><stop offset="0.9711" stop-color="#90ff6f"/><stop offset="0.9988" stop-color="#88ff77"/><stop offset="1.0000" stop-color="#88ff77"/></linearGradient>
<linearGradient id="g43"><stop offset="0.0000" stop-color="#ffaa00"/><stop offset="0.0277" stop-color="#ffae00"/><stop offset="0.0555" stop-color="#ffb200"/><stop offset="0.0832" stop-color="#ffb600"/><stop offset="0.1110" stop-color="#ffbb00"/><stop offset="0.1387" stop-color="#ffbf00"/><stop offset="0.1577" stop-color="#ffc200"/><stop offset="0.1665" stop-color="#ffc300"/><stop offset="0.1942" stop-color="#ffc700"/><stop offset="0.2220" stop-color="#ffcb00"/><stop offset="0.2271" stop-color="#ffcc00"/><stop offset="0.2497" stop-color="#ffcf00"/><stop offset="0.2774" stop-color="#ffd200"/><stop offset="0.3008" stop-color="#ffd500"/><stop offset="0.3052" stop-color="#ffd600"/><stop offset="0.3329" stop-color="#ffdd00"/><stop offset="0.3607" stop-color="#ffe400"/><stop offset="0.3884" stop-color="#ffea00"/><stop offset="0.4162" stop-color="#fff100"/><stop offset="0.4384" stop-color="#fff700"/><stop offset="0.4439" stop-color="#fff800"/><stop offset="0.4717" stop-color="#feff01"/><stop offset="0.4994" stop-color="#f6ff09"/><stop offset="0.5272" stop-color="#efff10"/><stop offset="0.5549" stop-color="#e7ff18"/><stop offset="0.5822" stop-color="#dfff20"/><stop offset="0.5826" stop-color="#dfff20"/><stop offset="0.6104" stop-color="#d9ff26"/><stop offset="0.6381" stop-color="#d3ff2c"/><stop offset="0.6659" stop-color="#cdff32"/><stop offset="0.6936" stop-color="#c6ff39"/><stop offset="0.7202" stop-color="#c1ff3e"/><stop offset="0.7214" stop-color="#c0ff3f"/><stop offset="0.7491" stop-color="#bbff44"/><stop offset="0.7769" stop-color="#b5ff4a"/><stop offset="0.8046" stop-color="#afff50"/><stop offset="0.8323" stop-color="#aaff55"/><stop offset="0.8601" stop-color="#a4ff5b"/><stop offset="0.8696" stop-color="#a2ff5d"/><stop offset="0.8878" stop-color="#9dff62"/><stop offset="0.9156" stop-color="#95ff6a"/><stop offset="0.9433" stop-color="#8eff71"/><stop offset="0.9711" stop-color="#86ff79"/><stop offset="0.9988" stop-color="#7fff80"/><stop offset="1.0000" stop-color="#7fff80"/></linearGradient>
<linearGradient id="g44"><stop offset="0.0000" stop-color="#ffc100"/><stop offset="0.0277" stop-color="#ffc300"/><stop offset="0.0555" stop-color="#ffc500"/><stop offset="0.0832" stop-color="#ffc800"/><stop offset="0.1110" stop-color="#ffca00"/><stop offset="0.1387" stop-color="#ffcc00"/><stop offset="0.1577" stop-color="#ffce00"/><stop offset="0.1665" stop-color="#ffcf00"/><stop offset="0.1942" stop-color="#ffd300"/><stop offset="0.2220" stop-color="#ffd700"/><stop offset="0.2271" stop-color="#ffd800"/><stop offset="0.2497" stop-color="#ffdb00"/><stop offset="0.2774" stop-color="#ffe000"/><stop offset="0.3008" stop-color="#ffe300"/><stop offset="0.3052" stop-color="#ffe400"/><stop offset="0.3329" stop-color="#ffeb00"/><stop offset="0.3607" stop-color="#fff100"/><stop offset="0.3884" stop-color="#fff800"/><stop offset="0.4162" stop-color="#ffff00"/><stop offset="0.4384" stop-color="#faff05"/><stop offset="0.4439" stop-color="#f8ff07"/><stop offset="0.4717" stop-color="#f1ff0e"/><stop offset="0.4994" stop-color="#eaff15"/><stop offset="0.5272" stop-color="#e3ff1c"/><stop offset="0.5549" stop-color="#dcff23"/><stop offset="0.5822" stop-color="#d4ff2b"/><stop offset="0.5826" stop-color="#d4ff2b"/><stop offset="0.6104" stop-color="#ceff31"/><stop offset="0.6381" stop-color="#c8ff37"/><stop offset="0.6659" stop-color="#c2ff3d"/><stop offset="0.6936" stop-color="#bcff43"/><stop offset="0.7202" stop-color="#b7ff48"/><stop offset="0.7214" stop-color="#b6ff49"/><stop offset="0.7491" stop-color="#b1ff4e"/><stop offset="0.7769" stop-color="#abff54"/><stop offset="0.8046" stop-color="#a5ff5a"/><stop offset="0.8323" stop-color="#a0ff5f"/><stop offset="0.8601" stop-color="#9aff65"/><stop offset="0.8696" stop-color="#98ff67"/><stop offset="0.8878" stop-color="#93ff6c"/><stop offset="0.9156" stop-color="#8cff73"/><stop offset="0.9433" stop-color="#85ff7a"/><stop offset="0.9711" stop-color="#7dff82"/><stop offset="0.9988" stop-color="#76ff89"/><stop offset="1.0000" stop-color="#76ff89"/></linearGradient>
<linearGradient id="g45"><stop offset="0.0000" stop-color="#ffe800"/><stop offset="0.0277" stop-color="#ffe600"/><stop offset="0.0555" stop-color="#ffe500"/><stop offset="0.0832" stop-color="#ffe300"/><stop offset="0.1110" stop-color="#ffe200"/><stop offset="0.1387" stop-color="#ffe000"/><stop offset="0.1577" stop-color="#ffdf00"/><stop offset="0.1665" stop-color="#ffe100"/><stop offset="0.1942" stop-color="#ffe400"/><stop offset="0.2220" stop-color="#ffe800"/><stop offset="0.2271" stop-color="#ffe900"/><stop offset="0.2497" stop-color="#ffec00"/><stop offset="0.2774" stop-color="#fff100"/><stop offset="0.3008" stop-color="#fff500"/><stop offset="0.3052" stop-color="#fff600"/><stop offset="0.3329" stop-color="#fffc00"/><stop offset="0.3607" stop-color="#fcff03"/><stop offset="0.3884" stop-color="#f6ff09"/><stop offset="0.4162" stop-color="#f0ff0f"/><stop offset="0.4384" stop-color="#ebff14"/><stop offset="0.4439" stop-color="#eaff15"/><stop offset="0.4717" stop-color="#e3ff1c"/><stop offset="0.4994" stop-color="#dcff23"/><stop offset="0.5272" stop-color="#d6ff29"/><stop offset="0.5549" stop-color="#cfff30"/><stop offset="0.5822" stop-color="#c9ff36"/><stop offset="0.5826" stop-color="#c8ff37"/><stop offset="0.6104" stop-color="#c3ff3c"/><stop offset="0.6381" stop-color="#bdff42"/><stop offset="0.6659" stop-color="#b8ff47"/><stop offset="0.6936" stop-color="#b2ff4d"/><stop offset="0.7202" stop-color="#adff52"/><stop offset="0.7214" stop-color="#acff53"/><stop offset="0.7491" stop-color="#a7ff58"/><stop offset="0.7769" stop-color="#a1ff5e"/><stop offset="0.8046" stop-color="#9bff64"/><stop offset="0.8323" stop-color="#96ff69"/><stop offset="0.8601" stop-color="#90ff6f"/><stop offset="0.8696" stop-color="#8eff71"/><stop offset="0.8878" stop-color="#89ff76"/><stop offset="0.9156" stop-color="#82ff7d"/><stop offset="0.9433" stop-color="#7bff84"/><stop offset="0.9711" stop-color="#74ff8b"/><stop offset="0.9988" stop-color="#6dff92"/><stop offset="1.0000" stop-color="#6cff93"/></linearGradient>
<linearGradient id="g46"><stop offset="0.0000" stop-color="#f0ff0f"/><stop offset="0.0277" stop-color="#f5ff0a"/><stop offset="0.0555" stop-color="#faff05"/><stop offset="0.0832" stop-color="#ffff00"/><stop offset="0.1110" stop-color="#fffa00"/><stop offset="0.1387" stop-color="#fff400"/><stop offset="0.1577" stop-color="#fff100"/><stop offset="0.1665" stop-color="#fff200"/><stop offset="0.1942" stop-color="#fff500"/><stop offset="0.2220" stop-color="#fff900"/><stop offset="0.2271" stop-color="#fff900"/><stop offset="0.2497" stop-color="#ffff00"/><stop offset="0.2774" stop-color="#f8ff07"/><stop offset="0.3008" stop-color="#f2ff0d"/><stop offset="0.3052" stop-color="#f1ff0e"/><stop offset="0.3329" stop-color="#ecff13"/><stop offset="0.3607" stop-color="#e7ff18"/><stop offset="0.3884" stop-color="#e1ff1e"/><stop offset="0.4162" stop-color="#dcff23"/><stop offset="0.4384" stop-color="#d8ff27"/><stop offset="0.4439" stop-color="#d7ff28"/><stop offset="0.4717" stop-color="#d2ff2d"/><stop offset="0.4994" stop-color="#ccff33"/><stop offset="0.5272" stop-color="#c7ff38"/><stop offset="0.5549" stop-color="#c2ff3d"/><stop offset="0.5822" stop-color="#bdff42"/><stop offset="0.5826" stop-color="#bdff42"/><stop offset="0.6104" stop-color="#b6ff49"/><stop offset="0.6381" stop-color="#b0ff4f"/><stop offset="0.6659" stop-color="#aaff55"/><stop offset="0.6936" stop-color="#a4ff5b"/><stop offset="0.7202" stop-color="#9eff61"/><stop offset="0.7214" stop-color="#9eff61"/><stop offset="0.7491" stop-color="#99ff66"/><stop offset="0.7769" stop-color="#94ff6b"/><stop offset="0.8046" stop-color="#8fff70"/><stop offset="0.8323" stop-color="#89ff76"/><stop offset="0.8601" stop-color="#84ff7b"/><stop offset="0.8696" stop-color="#83ff7c"/><stop offset="0.8878" stop-color="#7eff81"/><stop offset="0.9156" stop-color="#77ff88"/><stop offset="0.9433" stop-color="#70ff8f"/><stop offset="0.9711" stop-color="#6aff95"/><stop offset="0.9988" stop-color="#63ff9c"/><stop offset="1.0000" stop-color="#62ff9d"/></linearGradient>
<linearGradient id="g47"><stop offset="0.0000" stop-color="#99ff66"/><stop offset="0.0277" stop-color="#aaff55"/><stop offset="0.0555" stop-color="#bbff44"/><stop offset="0.0832" stop-color="#ccff33"/><stop offset="0.1110" stop-color="#ddff22"/><stop offset="0.1387" stop-color="#eeff11"/><stop offset="0.1577" stop-color="#faff05"/><stop offset="0.1665" stop-color="#f9ff06"/><stop offset="0.1942" stop-color="#f6ff09"/><stop offset="0.2220" stop-color="#f3ff0c"/><stop offset="0.2271" stop-color="#f3ff0c"/><stop offset="0.2497" stop-color="#ecff13"/><stop offset="0.2774" stop-color="#e4ff1b"/><stop offset="0.3008" stop-color="#ddff22"/><stop offset="0.3052" stop-color="#ddff22"/><stop offset="0.3329" stop-color="#d7ff28"/><stop offset="0.3607" stop-color="#d2ff2d"/><stop offset="0.3884" stop-color="#cdff32"/><stop offset="0.4162" stop-color="#c8ff37"/><stop offset="0.4384" stop-color="#c4ff3b"/><stop offset="0.4439" stop-color="#c3ff3c"/><stop offset="0.4717" stop-color="#bdff42"/><stop offset="0.4994" stop-color="#b7ff48"/><stop offset="0.5272" stop-color="#b1ff4e"/><stop offset="0.5549" stop-color="#aaff55"/><stop offset="0.5822" stop-color="#a4ff5b"/><stop offset="0.5826" stop-color="#a4ff5b"/><stop offset="0.6104" stop-color="#a0ff5f"/><stop offset="0.6381" stop-color="#9cff63"/><stop offset="0.6659" stop-color="#98ff67"/><stop offset="0.6936" stop-color="#94ff6b"/><stop offset="0.7202" stop-color="#90ff6f"/><stop offset="0.7214" stop-color="#8fff70"/><stop offset="0.7491" stop-color="#8bff74"/><stop offset="0.7769" stop-color="#86ff79"/><stop offset="0.8046" stop-color="#82ff7d"/><stop offset="0.8323" stop-color="#7dff82"/><stop offset="0.8601" stop-color="#78ff87"/><stop offset="0.8696" stop-color="#77ff88"/><stop offset="0.8878" stop-color="#73ff8c"/><stop offset="0.9156" stop-color="#6cff93"/><stop offset="0.9433" stop-color="#66ff99"/><stop offset="0.9711" stop-color="#5fffa0"/><stop offset="0.9988" stop-color="#59ffa6"/><stop offset="1.0000" stop-color="#58ffa7"/></linearGradient>
<linearGradient id="g48"><stop offset="0.0000" stop-color="#4dffb2"/><stop offset="0.0277" stop-color="#67ff98"/><stop offset="0.0555" stop-color="#82ff7d"/><stop offset="0.0832" stop-color="#9cff63"/><stop offset="0.1110" stop-color="#b6ff49"/><stop offset="0.1387" stop-color="#d0ff2f"/><stop offset="0.1577" stop-color="#e2ff1d"/><stop offset="0.1665" stop-color="#e2ff1d"/><stop offset="0.1942" stop-color="#e0ff1f"/><stop offset="0.2220" stop-color="#dfff20"/><stop offset="0.2271" stop-color="#deff21"/><stop offset="0.2497" stop-color="#d8ff27"/><stop offset="0.2774" stop-color="#d0ff2f"/><stop offset="0.3008" stop-color="#c9ff36"/><stop offset="0.3052" stop-color="#c8ff37"/><stop offset="0.3329" stop-color="#c2ff3d"/><stop offset="0.3607" stop-color="#bcff43"/><stop offset="0.3884" stop-color="#b5ff4a"/><stop offset="0.4162" stop-color="#afff50"/><stop offset="0.4384" stop-color="#aaff55"/><stop offset="0.4439" stop-color="#a9ff56"/><stop offset="0.4717" stop-color="#a3ff5c"/><stop offset="0.4994" stop-color="#9dff62"/><stop offset="0.5272" stop-color="#97ff68"/><stop offset="0.5549" stop-color="#92ff6d"/><stop offset="0.5822" stop-color="#8cff73"/><stop offset="0.5826" stop-color="#8cff73"/><stop offset="0.6104" stop-color="#89ff76"/><stop offset="0.6381" stop-color="#85ff7a"/><stop offset="0.6659" stop-color="#82ff7d"/><stop offset="0.6936" stop-color="#7fff80"/><stop offset="0.7202" stop-color="#7cff83"/><stop offset="0.7214" stop-color="#7cff83"/><stop offset="0.7491" stop-color="#79ff86"/><stop offset="0.7769" stop-color="#75ff8a"/><stop offset="0.8046" stop-color="#72ff8d"/><stop offset="0.8323" stop-color="#6eff91"/><stop offset="0.8601" stop-color="#6bff94"/><stop offset="0.8696" stop-color="#6aff95"/><stop offset="0.8878" stop-color="#66ff99"/><stop offset="0.9156" stop-color="#60ff9f"/><stop offset="0.9433" stop-color="#5affa5"/><stop offset="0.9711" stop-color="#54ffab"/><stop offset="0.9988" stop-color="#4effb1"/><stop offset="1.0000" stop-color="#4effb1"/></linearGradient>
<linearGradient id="g49"><stop offset="0.0000" stop-color="#11ffee"/><stop offset="0.0277" stop-color="#31ffce"/><stop offset="0.0555" stop-color="#52ffad"/><stop offset="0.0832" stop-color="#73ff8c"/><stop offset="0.1110" stop-color="#93ff6c"/><stop offset="0.1387" stop-color="#b4ff4b"/><stop offset="0.1577" stop-color="#caff35"/><stop offset="0.1665" stop-color="#caff35"/><stop offset="0.1942" stop-color="#caff35"/><stop offset="0.2220" stop-color="#caff35"/><stop offset="0.2271" stop-color="#caff35"/><stop offset="0.2497" stop-color="#c3ff3c"/><stop offset="0.2774" stop-color="#bbff44"/><stop offset="0.3008" stop-color="#b4ff4b"/><stop offset="0.3052" stop-color="#b3ff4c"/><stop offset="0.3329" stop-color="#acff53"/><stop offset="0.3607" stop-color="#a4ff5b"/><stop offset="0.3884" stop-color="#9dff62"/><stop offset="0.4162" stop-color="#96ff69"/><stop offset="0.4384" stop-color="#90ff6f"/><stop offset="0.4439" stop-color="#8fff70"/><stop offset="0.4717" stop-color="#8aff75"/><stop offset="0.4994" stop-color="#85ff7a"/><stop offset="0.5272" stop-color="#80ff7f"/><stop offset="0.5549" stop-color="#7bff84"/><stop offset="0.5822" stop-color="#76ff89"/><stop offset="0.5826" stop-color="#76ff89"/><stop offset="0.6104" stop-color="#73ff8c"/><stop offset="0.6381" stop-color="#6fff90"/><stop offset="0.6659" stop-color="#6cff93"/><stop offset="0.6936" stop-color="#69ff96"/><stop offset="0.7202" stop-color="#65ff9a"/><stop offset="0.7214" stop-color="#65ff9a"/><stop offset="0.7491" stop-color="#63ff9c"/><stop offset="0.7769" stop-color="#61ff9e"/><stop offset="0.8046" stop-color="#60ff9f"/><stop offset="0.8323" stop-color="#5effa1"/><stop offset="0.8601" stop-color="#5cffa3"/><stop offset="0.8696" stop-color="#5bffa4"/><stop offset="0.8878" stop-color="#58ffa7"/><stop offset="0.9156" stop-color="#53ffac"/><stop offset="0.9433" stop-color="#4effb1"/><stop offset="0.9711" stop-color="#49ffb6"/><stop offset="0.9988" stop-color="#44ffbb"/><stop offset="1.0000" stop-color="#44ffbb"/></linearGradient>
<linearGradient id="g50"><stop offset="0.0000" stop-color="#00e9ff"/><stop offset="0.0277" stop-color="#0dfff2"/><stop offset="0.0555" stop-color="#30ffcf"/><stop offset="0.0832" stop-color="#52ffad"/><stop offset="0.1110" stop-color="#75ff8a"/><stop offset="0.1387" stop-color="#98ff67"/><stop offset="0.1577" stop-color="#b0ff4f"/><stop offset="0.1665" stop-color="#b0ff4f"/><stop offset="0.1942" stop-color="#b0ff4f"/><stop offset="0.2220" stop-color="#b0ff4f"/><stop offset="0.2271" stop-color="#b0ff4f"/><stop offset="0.2497" stop-color="#abff54"/><stop offset="0.2774" stop-color="#a4ff5b"/><stop offset="0.3008" stop-color="#9eff61"/><stop offset="0.3052" stop-color="#9dff62"/><stop offset="0.3329" stop-color="#95ff6a"/><stop offset="0.3607" stop-color="#8eff71"/><stop offset="0.3884" stop-color="#86ff79"/><stop offset="0.4162" stop-color="#7eff81"/><stop offset="0.4384" stop-color="#78ff87"/><stop offset="0.4439" stop-color="#77ff88"/><stop offset="0.4717" stop-color="#73ff8c"/><stop offset="0.4994" stop-color="#6fff90"/><stop offset="0.5272" stop-color="#6bff94"/><stop offset="0.5549" stop-color="#67ff98"/><stop offset="0.5822" stop-color="#63ff9c"/><stop offset="0.5826" stop-color="#63ff9c"/><stop offset="0.6104" stop-color="#5fffa0"/><stop offset="0.6381" stop-color="#5cffa3"/><stop offset="0.6659" stop-color="#58ffa7"/><stop offset="0.6936" stop-color="#54ffab"/><stop offset="0.7202" stop-color="#51ffae"/><stop offset="0.7214" stop-color="#51ffae"/><stop offset="0.7491" stop-color="#50ffaf"/><stop offset="0.7769" stop-color="#4fffb0"/><stop offset="0.8046" stop-color="#4fffb0"/><stop offset="0.8323" stop-color="#4effb1"/><stop offset="0.8601" stop-color="#4dffb2"/><stop offset="0.8696" stop-color="#4dffb2"/><stop offset="0.8878" stop-color="#4affb5"/><stop offset="0.9156" stop-color="#46ffb9"/><stop offset="0.9433" stop-color="#41ffbe"/><stop offset="0.9711" stop-color="#3dffc2"/><stop offset="0.9988" stop-color="#39ffc6"/><stop offset="1.0000" stop-color="#39ffc6"/></linearGradient>
<linearGradient id="g51"><stop offset="0.0000" stop-color="#00d0ff"/><stop offset="0.0277" stop-color="#00f2ff"/><stop offset="0.0555" stop-color="#16ffe9"/><stop offset="0.0832" stop-color="#38ffc7"/><stop offset="0.1110" stop-color="#5affa5"/><stop offset="0.1387" stop-color="#7dff82"/><stop offset="0.1577" stop-color="#94ff6b"/><stop offset="0.1665" stop-color="#94ff6b"/><stop offset="0.1942" stop-color="#95ff6a"/><stop offset="0.2220" stop-color="#96ff69"/><stop offset="0.2271" stop-color="#96ff69"/><stop offset="0.2497" stop-color="#91ff6e"/><stop offset="0.2774" stop-color="#8cff73"/><stop offset="0.3008" stop-color="#87ff78"/><stop offset="0.3052" stop-color="#86ff79"/><stop offset="0.3329" stop-color="#7eff81"/><stop offset="0.3607" stop-color="#76ff89"/><stop offset="0.3884" stop-color="#6eff91"/><stop offset="0.4162" stop-color="#66ff99"/><stop offset="0.4384" stop-color="#60ff9f"/><stop offset="0.4439" stop-color="#60ff9f"/><stop offset="0.4717" stop-color="#5dffa2"/><stop offset="0.4994" stop-color="#5affa5"/><stop offset="0.5272" stop-color="#57ffa8"/><stop offset="0.5549" stop-color="#54ffab"/><stop offset="0.5822" stop-color="#51ffae"/><stop offset="0.5826" stop-color="#51ffae"/><stop offset="0.6104" stop-color="#4dffb2"/><stop offset="0.6381" stop-color="#4affb5"/><stop offset="0.6659" stop-color="#46ffb9"/><stop offset="0.6936" stop-color="#43ffbc"/><stop offset="0.7202" stop-color="#3fffc0"/><stop offset="0.7214" stop-color="#3fffc0"/><stop offset="0.7491" stop-color="#3fffc0"/><stop offset="0.7769" stop-color="#40ffbf"/><stop offset="0.8046" stop-color="#40ffbf"/><stop offset="0.8323" stop-color="#40ffbf"/><stop offset="0.8601" stop-color="#40ffbf"/><stop offset="0.8696" stop-color="#40ffbf"/><stop offset="0.8878" stop-color="#3dffc2"/><stop offset="0.9156" stop-color="#39ffc6"/><stop offset="0.9433" stop-color="#35ffca"/><stop offset="0.9711" stop-color="#31ffce"/><stop offset="0.9988" stop-color="#2dffd2"/><stop offset="1.0000" stop-color="#2dffd2"/></linearGradient>
<linearGradient id="g52"><stop offset="0.0000" stop-color="#00b7ff"/><stop offset="0.0277" stop-color="#00d9ff"/><stop offset="0.0555" stop-color="#00fbff"/><stop offset="0.0832" stop-color="#1effe1"/><stop offset="0.1110" stop-color="#40ffbf"/><stop offset="0.1387" stop-color="#61ff9e"/><stop offset="0.1577" stop-color="#79ff86"/><stop offset="0.1665" stop-color="#79ff86"/><stop offset="0.1942" stop-color="#7aff85"/><stop offset="0.2220" stop-color="#7cff83"/><stop offset="0.2271" stop-color="#7cff83"/><stop offset="0.2497" stop-color="#78ff87"/><stop offset="0.2774" stop-color="#73ff8c"/><stop offset="0.3008" stop-color="#6fff90"/><stop offset="0.3052" stop-color="#6eff91"/><stop offset="0.3329" stop-color="#66ff99"/><stop offset="0.3607" stop-color="#5fffa0"/><stop offset="0.3884" stop-color="#57ffa8"/><stop offset="0.4162" stop-color="#50ffaf"/><stop offset="0.4384" stop-color="#4affb5"/><stop offset="0.4439" stop-color="#49ffb6"/><stop offset="0.4717" stop-color="#48ffb7"/><stop offset="0.4994" stop-color="#46ffb9"/><stop offset="0.5272" stop-color="#44ffbb"/><stop offset="0.5549" stop-color="#43ffbc"/><stop offset="0.5822" stop-color="#41ffbe"/><stop offset="0.5826" stop-color="#41ffbe"/><stop offset="0.6104" stop-color="#3dffc2"/><stop offset="0.6381" stop-color="#39ffc6"/><stop offset="0.6659" stop-color="#36ffc9"/><stop offset="0.6936" stop-color="#32ffcd"/><stop offset="0.7202" stop-color="#2effd1"/><stop offset="0.7214" stop-color="#2effd1"/><stop offset="0.7491" stop-color="#2fffd0"/><stop offset="0.7769" stop-color="#30ffcf"/><stop offset="0.8046" stop-color="#31ffce"/><stop offset="0.8323" stop-color="#32ffcd"/><stop offset="0.8601" stop-color="#33ffcc"/><stop offset="0.8696" stop-color="#33ffcc"/><stop offset="0.8878" stop-color="#31ffce"/><stop offset="0.9156" stop-color="#2dffd2"/><stop offset="0.9433" stop-color="#29ffd6"/><stop offset="0.9711" stop-color="#25ffda"/><stop offset="0.9988" stop-color="#22ffdd"/><stop offset="1.0000" stop-color="#22ffdd"/></linearGradient>
<linearGradient id="g53"><stop offset="0.0000" stop-color="#009eff"/><stop offset="0.0277" stop-color="#00c0ff"/><stop offset="0.0555" stop-color="#00e1ff"/><stop offset="0.0832" stop-color="#04fffb"/><stop offset="0.1110" stop-color="#25ffda"/><stop offset="0.1387" stop-color="#47ffb8"/><stop offset="0.1577" stop-color="#5effa1"/><stop offset="0.1665" stop-color="#5effa1"/><stop offset="0.1942" stop-color="#61ff9e"/><stop offset="0.2220" stop-color="#63ff9c"/><stop offset="0.2271" stop-color="#63ff9c"/><stop offset="0.2497" stop-color="#5fffa0"/><stop offset="0.2774" stop-color="#5affa5"/><stop offset="0.3008" stop-color="#55ffaa"/><stop offset="0.3052" stop-color="#54ffab"/><stop offset="0.3329" stop-color="#4effb1"/><stop offset="0.3607" stop-color="#47ffb8"/><stop offset="0.3884" stop-color="#40ffbf"/><stop offset="0.4162" stop-color="#39ffc6"/><stop offset="0.4384" stop-color="#34ffcb"/><stop offset="0.4439" stop-color="#34ffcb"/><stop offset="0.4717" stop-color="#33ffcc"/><stop offset="0.4994" stop-color="#33ffcc"/><stop offset="0.5272" stop-color="#32ffcd"/><stop offset="0.5549" stop-color="#32ffcd"/><stop offset="0.5822" stop-color="#31ffce"/><stop offset="0.5826" stop-color="#31ffce"/><stop offset="0.6104" stop-color="#2effd1"/><stop offset="0.6381" stop-color="#2bffd4"/><stop offset="0.6659" stop-color="#27ffd8"/><stop offset="0.6936" stop-color="#24ffdb"/><stop offset="0.7202" stop-color="#20ffdf"/><stop offset="0.7214" stop-color="#20ffdf"/><stop offset="0.7491" stop-color="#21ffde"/><stop offset="0.7769" stop-color="#22ffdd"/><stop offset="0.8046" stop-color="#23ffdc"/><stop offset="0.8323" stop-color="#24ffdb"/><stop offset="0.8601" stop-color="#25ffda"/><stop offset="0.8696" stop-color="#26ffd9"/><stop offset="0.8878" stop-color="#23ffdc"/><stop offset="0.9156" stop-color="#20ffdf"/><stop offset="0.9433" stop-color="#1dffe2"/><stop offset="0.9711" stop-color="#1affe5"/><stop offset="0.9988" stop-color="#16ffe9"/><stop offset="1.0000" stop-color="#16ffe9"/></linearGradient>
<linearGradient id="g54"><stop offset="0.0000" stop-color="#0086ff"/><stop offset="0.0277" stop-color="#00a7ff"/><stop offset="0.0555" stop-color="#00c8ff"/><stop offset="0.0832" stop-color="#00e9ff"/><stop offset="0.1110" stop-color="#0bfff4"/><stop offset="0.1387" stop-color="#2cffd3"/><stop offset="0.1577" stop-color="#43ffbc"/><stop offset="0.1665" stop-color="#44ffbb"/><stop offset="0.1942" stop-color="#46ffb9"/><stop offset="0.2220" stop-color="#48ffb7"/><stop offset="0.2271" stop-color="#49ffb6"/><stop offset="0.2497" stop-color="#45ffba"/><stop offset="0.2774" stop-color="#40ffbf"/><stop offset="0.3008" stop-color="#3bffc4"/><stop offset="0.3052" stop-color="#3bffc4"/><stop offset="0.3329" stop-color="#35ffca"/><stop offset="0.3607" stop-color="#30ffcf"/><stop offset="0.3884" stop-color="#2bffd4"/><stop offset="0.4162" stop-color="#26ffd9"/><stop offset="0.4384" stop-color="#22ffdd"/><stop offset="0.4439" stop-color="#22ffdd"/><stop offset="0.4717" stop-color="#22ffdd"/><stop offset="0.4994" stop-color="#21ffde"/><stop offset="0.5272" stop-color="#21ffde"/><stop offset="0.5549" stop-color="#21ffde"/><stop offset="0.5822" stop-color="#21ffde"/><stop offset="0.5826" stop-color="#21ffde"/><stop offset="0.6104" stop-color="#1effe1"/><stop offset="0.6381" stop-color="#1bffe4"/><stop offset="0.6659" stop-color="#19ffe6"/><stop offset="0.6936" stop-color="#16ffe9"/><stop offset="0.7202" stop-color="#13ffec"/><stop offset="0.7214" stop-color="#13ffec"/><stop offset="0.7491" stop-color="#14ffeb"/><stop offset="0.7769" stop-color="#15ffea"/><stop offset="0.8046" stop-color="#16ffe9"/><stop offset="0.8323" stop-color="#17ffe8"/><stop offset="0.8601" stop-color="#18ffe7"/><stop offset="0.8696" stop-color="#18ffe7"/><stop offset="0.8878" stop-color="#16ffe9"/><stop offset="0.9156" stop-color="#12ffed"/><stop offset="0.9433" stop-color="#0ffff0"/><stop offset="0.9711" stop-color="#0cfff3"/><stop offset="0.9988" stop-color="#08fff7"/><stop offset="1.0000" stop-color="#08fff7"/></linearGradient>
<linearGradient id="g55"><stop offset="0.0000" stop-color="#006bff"/><stop offset="0.0277" stop-color="#008bff"/><stop offset="0.0555" stop-color="#00abff"/><stop offset="0.0832" stop-color="#00cbff"/><stop offset="0.1110" stop-color="#00ebff"/><stop offset="0.1387" stop-color="#0cfff3"/><stop offset="0.1577" stop-color="#22ffdd"/><stop offset="0.1665" stop-color="#23ffdc"/><stop offset="0.1942" stop-color="#23ffdc"/><stop offset="0.2220" stop-color="#24ffdb"/><stop offset="0.2271" stop-color="#24ffdb"/><stop offset="0.2497" stop-color="#23ffdc"/><stop offset="0.2774" stop-color="#21ffde"/><stop offset="0.3008" stop-color="#20ffdf"/><stop offset="0.3052" stop-color="#20ffdf"/><stop offset="0.3329" stop-color="#1dffe2"/><stop offset="0.3607" stop-color="#1bffe4"/><stop offset="0.3884" stop-color="#18ffe7"/><stop offset="0.4162" stop-color="#15ffea"/><stop offset="0.4384" stop-color="#13ffec"/><stop offset="0.4439" stop-color="#13ffec"/><stop offset="0.4717" stop-color="#13ffec"/><stop offset="0.4994" stop-color="#12ffed"/><stop offset="0.5272" stop-color="#12ffed"/><stop offset="0.5549" stop-color="#11ffee"/><stop offset="0.5822" stop-color="#11ffee"/><stop offset="0.5826" stop-color="#11ffee"/><stop offset="0.6104" stop-color="#0efff1"/><stop offset="0.6381" stop-color="#0cfff3"/><stop offset="0.6659" stop-color="#09fff6"/><stop offset="0.6936" stop-color="#06fff9"/><stop offset="0.7202" stop-color="#04fffb"/><stop offset="0.7214" stop-color="#04fffb"/><stop offset="0.7491" stop-color="#05fffa"/><stop offset="0.7769" stop-color="#06fff9"/><stop offset="0.8046" stop-color="#07fff8"/><stop offset="0.8323" stop-color="#08fff7"/><stop offset="0.8601" stop-color="#09fff6"/><stop offset="0.8696" stop-color="#09fff6"/><stop offset="0.8878" stop-color="#07fff8"/><stop offset="0.9156" stop-color="#03fffc"/><stop offset="0.9433" stop-color="#00ffff"/><stop offset="0.9711" stop-color="#00fcff"/><stop offset="0.9988" stop-color="#00f9ff"/><stop offset="1.0000" stop-color="#00f8ff"/></linearGradient>
<linearGradient id="g56"><stop offset="0.0000" stop-color="#0051ff"/><stop offset="0.0277" stop-color="#006eff"/><stop offset="0.0555" stop-color="#008cff"/><stop offset="0.0832" stop-color="#00aaff"/><stop offset="0.1110" stop-color="#00c8ff"/><stop offset="0.1387" stop-color="#00e5ff"/><stop offset="0.1577" stop-color="#00faff"/><stop offset="0.1665" stop-color="#00fbff"/><stop offset="0.1942" stop-color="#00fdff"/><stop offset="0.2220" stop-color="#00ffff"/><stop offset="0.2271" stop-color="#00ffff"/><stop offset="0.2497" stop-color="#00ffff"/><stop offset="0.2774" stop-color="#01fffe"/><stop offset="0.3008" stop-color="#02fffd"/><stop offset="0.3052" stop-color="#02fffd"/><stop offset="0.3329" stop-color="#02fffd"/><stop offset="0.3607" stop-color="#03fffc"/><stop offset="0.3884" stop-color="#04fffb"/><stop offset="0.4162" stop-color="#04fffb"/><stop offset="0.4384" stop-color="#05fffa"/><stop offset="0.4439" stop-color="#05fffa"/><stop offset="0.4717" stop-color="#04fffb"/><stop offset="0.4994" stop-color="#04fffb"/><stop offset="0.5272" stop-color="#03fffc"/><stop offset="0.5549" stop-color="#03fffc"/><stop offset="0.5822" stop-color="#02fffd"/><stop offset="0.5826" stop-color="#02fffd"/><stop offset="0.6104" stop-color="#00feff"/><stop offset="0.6381" stop-color="#00fbff"/><stop offset="0.6659" stop-color="#00f7ff"/><stop offset="0.6936" stop-color="#00f4ff"/><stop offset="0.7202" stop-color="#00f0ff"/><stop offset="0.7214" stop-color="#00f0ff"/><stop offset="0.7491" stop-color="#00f1ff"/><stop offset="0.7769" stop-color="#00f2ff"/><stop offset="0.8046" stop-color="#00f3ff"/><stop offset="0.8323" stop-color="#00f4ff"/><stop offset="0.8601" stop-color="#00f5ff"/><stop offset="0.8696" stop-color="#00f6ff"/><stop offset="0.8878" stop-color="#00f4ff"/><stop offset="0.9156" stop-color="#00f1ff"/><stop offset="0.9433" stop-color="#00efff"/><stop offset="0.9711" stop-color="#00ecff"/><stop offset="0.9988" stop-color="#00eaff"/><stop offset="1.0000" stop-color="#00eaff"/></linearGradient>
<linearGradient id="g57"><stop offset="0.0000" stop-color="#003cff"/><stop offset="0.0277" stop-color="#004bff"/><stop offset="0.0555" stop-color="#005bff"/><stop offset="0.0832" stop-color="#006aff"/><stop offset="0.1110" stop-color="#007aff"/><stop offset="0.1387" stop-color="#0089ff"/><stop offset="0.1577" stop-color="#0094ff"/><stop offset="0.1665" stop-color="#009cff"/><stop offset="0.1942" stop-color="#00b8ff"/><stop offset="0.2220" stop-color="#00d3ff"/><stop offset="0.2271" stop-color="#00d8ff"/><stop offset="0.2497" stop-color="#00ddff"/><stop offset="0.2774" stop-color="#00e4ff"/><stop offset="0.3008" stop-color="#00eaff"/><stop offset="0.3052" stop-color="#00eaff"/><stop offset="0.3329" stop-color="#00ecff"/><stop offset="0.3607" stop-color="#00eeff"/><stop offset="0.3884" stop-color="#00f1ff"/><stop offset="0.4162" stop-color="#00f3ff"/><stop offset="0.4384" stop-color="#00f5ff"/><stop offset="0.4439" stop-color="#00f4ff"/><stop offset="0.4717" stop-color="#00f4ff"/><stop offset="0.4994" stop-color="#00f4ff"/><stop offset="0.5272" stop-color="#00f4ff"/><stop offset="0.5549" stop-color="#00f4ff"/><stop offset="0.5822" stop-color="#00f3ff"/><stop offset="0.5826" stop-color="#00f3ff"/><stop offset="0.6104" stop-color="#00efff"/><stop offset="0.6381" stop-color="#00ebff"/><stop offset="0.6659" stop-color="#00e6ff"/><stop offset="0.6936" stop-color="#00e2ff"/><stop offset="0.7202" stop-color="#00deff"/><stop offset="0.7214" stop-color="#00deff"/><stop offset="0.7491" stop-color="#00dfff"/><stop offset="0.7769" stop-color="#00e0ff"/><stop offset="0.8046" stop-color="#00e1ff"/><stop offset="0.8323" stop-color="#00e2ff"/><stop offset="0.8601" stop-color="#00e3ff"/><stop offset="0.8696" stop-color="#00e3ff"/><stop offset="0.8878" stop-color="#00e2ff"/><stop offset="0.9156" stop-color="#00e1ff"/><stop offset="0.9433" stop-color="#00dfff"/><stop offset="0.9711" stop-color="#00deff"/><stop offset="0.9988" stop-color="#00ddff"/><stop offset="1.0000" stop-color="#00ddff"/></linearGradient>
<linearGradient id="g58"><stop offset="0.0000" stop-color="#0028ff"/><stop offset="0.0277" stop-color="#002aff"/><stop offset="0.0555" stop-color="#002cff"/><stop offset="0.0832" stop-color="#002eff"/><stop offset="0.1110" stop-color="#0030ff"/><stop offset="0.1387" stop-color="#0032ff"/><stop offset="0.1577" stop-color="#0033ff"/><stop offset="0.1665" stop-color="#0043ff"/><stop offset="0.1942" stop-color="#0075ff"/><stop offset="0.2220" stop-color="#00a6ff"/><stop offset="0.2271" stop-color="#00afff"/><stop offset="0.2497" stop-color="#00bbff"/><stop offset="0.2774" stop-color="#00c8ff"/><stop offset="0.3008" stop-color="#00d4ff"/><stop offset="0.3052" stop-color="#00d5ff"/><stop offset="0.3329" stop-color="#00d9ff"/><stop offset="0.3607" stop-color="#00ddff"/><stop offset="0.3884" stop-color="#00e1ff"/><stop offset="0.4162" stop-color="#00e5ff"/><stop offset="0.4384" stop-color="#00e8ff"/><stop offset="0.4439" stop-color="#00e9ff"/><stop offset="0.4717" stop-color="#00e9ff"/><stop offset="0.4994" stop-color="#00e9ff"/><stop offset="0.5272" stop-color="#00eaff"/><stop offset="0.5549" stop-color="#00eaff"/><stop offset="0.5822" stop-color="#00eaff"/><stop offset="0.5826" stop-color="#00eaff"/><stop offset="0.6104" stop-color="#00e6ff"/><stop offset="0.6381" stop-color="#00e2ff"/><stop offset="0.6659" stop-color="#00ddff"/><stop offset="0.6936" stop-color="#00d9ff"/><stop offset="0.7202" stop-color="#00d5ff"/><stop offset="0.7214" stop-color="#00d5ff"/><stop offset="0.7491" stop-color="#00d6ff"/><stop offset="0.7769" stop-color="#00d6ff"/><stop offset="0.8046" stop-color="#00d7ff"/><stop offset="0.8323" stop-color="#00d8ff"/><stop offset="0.8601" stop-color="#00d8ff"/><stop offset="0.8696" stop-color="#00d9ff"/><stop offset="0.8878" stop-color="#00d8ff"/><stop offset="0.9156" stop-color="#00d6ff"/><stop offset="0.9433" stop-color="#00d5ff"/><stop offset="0.9711" stop-color="#00d3ff"/><stop offset="0.9988" stop-color="#00d2ff"/><stop offset="1.0000" stop-color="#00d2ff"/></linearGradient>
<linearGradient id="g59"><stop offset="0.0000" stop-color="#0019ff"/><stop offset="0.0277" stop-color="#0010ff"/><stop offset="0.0555" stop-color="#0007ff"/><stop offset="0.0832" stop-color="#0000fd"/><stop offset="0.1110" stop-color="#0000f4"/><stop offset="0.1387" stop-color="#0000eb"/><stop offset="0.1577" stop-color="#0000e5"/><stop offset="0.1665" stop-color="#0000f6"/><stop offset="0.1942" stop-color="#002eff"/><stop offset="0.2220" stop-color="#0065ff"/><stop offset="0.2271" stop-color="#0070ff"/><stop offset="0.2497" stop-color="#0088ff"/><stop offset="0.2774" stop-color="#00a6ff"/><stop offset="0.3008" stop-color="#00c0ff"/><stop offset="0.3052" stop-color="#00c1ff"/><stop offset="0.3329" stop-color="#00c8ff"/><stop offset="0.3607" stop-color="#00cfff"/><stop offset="0.3884" stop-color="#00d6ff"/><stop offset="0.4162" stop-color="#00ddff"/><stop offset="0.4384" stop-color="#00e2ff"/><stop offset="0.4439" stop-color="#00e2ff"/><stop offset="0.4717" stop-color="#00e3ff"/><stop offset="0.4994" stop-color="#00e3ff"/><stop offset="0.5272" stop-color="#00e3ff"/><stop offset="0.5549" stop-color="#00e3ff"/><stop offset="0.5822" stop-color="#00e3ff"/><stop offset="0.5826" stop-color="#00e3ff"/><stop offset="0.6104" stop-color="#00dfff"/><stop offset="0.6381" stop-color="#00dbff"/><stop offset="0.6659" stop-color="#00d6ff"/><stop offset="0.6936" stop-color="#00d2ff"/><stop offset="0.7202" stop-color="#00ceff"/><stop offset="0.7214" stop-color="#00ceff"/><stop offset="0.7491" stop-color="#00ceff"/><stop offset="0.7769" stop-color="#00ceff"/><stop offset="0.8046" stop-color="#00cfff"/><stop offset="0.8323" stop-color="#00cfff"/><stop offset="0.8601" stop-color="#00cfff"/><stop offset="0.8696" stop-color="#00cfff"/><stop offset="0.8878" stop-color="#00ceff"/><stop offset="0.9156" stop-color="#00ccff"/><stop offset="0.9433" stop-color="#00caff"/><stop offset="0.9711" stop-color="#00c9ff"/><stop offset="0.9988" stop-color="#00c7ff"/><stop offset="1.0000" stop-color="#00c7ff"/></linearGradient>
<linearGradient id="g60"><stop offset="0.0000" stop-color="#0010ff"/><stop offset="0.0277" stop-color="#0000fe"/><stop offset="0.0555" stop-color="#0000ee"/><stop offset="0.0832" stop-color="#0000dd"/><stop offset="0.1110" stop-color="#0000cc"/><stop offset="0.1387" stop-color="#0000bc"/><stop offset="0.1577" stop-color="#0000b0"/><stop offset="0.1665" stop-color="#0000c1"/><stop offset="0.1942" stop-color="#0000f6"/><stop offset="0.2220" stop-color="#002dff"/><stop offset="0.2271" stop-color="#0037ff"/><stop offset="0.2497" stop-color="#005bff"/><stop offset="0.2774" stop-color="#0087ff"/><stop offset="0.3008" stop-color="#00adff"/><stop offset="0.3052" stop-color="#00afff"/><stop offset="0.3329" stop-color="#00b8ff"/><stop offset="0.3607" stop-color="#00c2ff"/><stop offset="0.3884" stop-color="#00cbff"/><stop offset="0.4162" stop-color="#00d5ff"/><stop offset="0.4384" stop-color="#00dcff"/><stop offset="0.4439" stop-color="#00dcff"/><stop offset="0.4717" stop-color="#00dcff"/><stop offset="0.4994" stop-color="#00dcff"/><stop offset="0.5272" stop-color="#00dcff"/><stop offset="0.5549" stop-color="#00dcff"/><stop offset="0.5822" stop-color="#00dcff"/><stop offset="0.5826" stop-color="#00dcff"/><stop offset="0.6104" stop-color="#00d8ff"/><stop offset="0.6381" stop-color="#00d4ff"/><stop offset="0.6659" stop-color="#00cfff"/><stop offset="0.6936" stop-color="#00cbff"/><stop offset="0.7202" stop-color="#00c7ff"/><stop offset="0.7214" stop-color="#00c7ff"/><stop offset="0.7491" stop-color="#00c7ff"/><stop offset="0.7769" stop-color="#00c7ff"/><stop offset="0.8046" stop-color="#00c7ff"/><stop offset="0.8323" stop-color="#00c7ff"/><stop offset="0.8601" stop-color="#00c7ff"/><stop offset="0.8696" stop-color="#00c7ff"/><stop offset="0.8878" stop-color="#00c5ff"/><stop offset="0.9156" stop-color="#00c3ff"/><stop offset="0.9433" stop-color="#00c1ff"/><stop offset="0.9711" stop-color="#00bfff"/><stop offset="0.9988" stop-color="#00bcff"/><stop offset="1.0000" stop-color="#00bcff"/></linearGradient>
<linearGradient id="g61"><stop offset="0.0000" stop-color="#000aff"/><stop offset="0.0277" stop-color="#0000f6"/><stop offset="0.0555" stop-color="#0000e4"/><stop offset="0.0832" stop-color="#0000d1"/><stop offset="0.1110" stop-color="#0000bf"/><stop offset="0.1387" stop-color="#0000ac"/><stop offset="0.1577" stop-color="#0000a0"/><stop offset="0.1665" stop-color="#0000ac"/><stop offset="0.1942" stop-color="#0000d5"/><stop offset="0.2220" stop-color="#0000fe"/><stop offset="0.2271" stop-color="#0006ff"/><stop offset="0.2497" stop-color="#0035ff"/><stop offset="0.2774" stop-color="#006eff"/><stop offset="0.3008" stop-color="#009eff"/><stop offset="0.3052" stop-color="#00a0ff"/><stop offset="0.3329" stop-color="#00acff"/><stop offset="0.3607" stop-color="#00b8ff"/><stop offset="0.3884" stop-color="#00c4ff"/><stop offset="0.4162" stop-color="#00d0ff"/><stop offset="0.4384" stop-color="#00daff"/><stop offset="0.4439" stop-color="#00daff"/><stop offset="0.4717" stop-color="#00daff"/><stop offset="0.4994" stop-color="#00d9ff"/><stop offset="0.5272" stop-color="#00d9ff"/><stop offset="0.5549" stop-color="#00d9ff"/><stop offset="0.5822" stop-color="#00d8ff"/><stop offset="0.5826" stop-color="#00d8ff"/><stop offset="0.6104" stop-color="#00d4ff"/><stop offset="0.6381" stop-color="#00d0ff"/><stop offset="0.6659" stop-color="#00ccff"/><stop offset="0.6936" stop-color="#00c8ff"/><stop offset="0.7202" stop-color="#00c4ff"/><stop offset="0.7214" stop-color="#00c4ff"/><stop offset="0.7491" stop-color="#00c4ff"/><stop offset="0.7769" stop-color="#00c4ff"/><stop offset="0.8046" stop-color="#00c4ff"/><stop offset="0.8323" stop-color="#00c4ff"/><stop offset="0.8601" stop-color="#00c4ff"/><stop offset="0.8696" stop-color="#00c4ff"/><stop offset="0.8878" stop-color="#00c2ff"/><stop offset="0.9156" stop-color="#00c0ff"/><stop offset="0.9433" stop-color="#00bdff"/><stop offset="0.9711" stop-color="#00bbff"/><stop offset="0.9988" stop-color="#00b9ff"/><stop offset="1.0000" stop-color="#00b8ff"/></linearGradient>
<linearGradient id="g62"><stop offset="0.0000" stop-color="#0009ff"/><stop offset="0.0277" stop-color="#0000f5"/><stop offset="0.0555" stop-color="#0000e1"/><stop offset="0.0832" stop-color="#0000cd"/><stop offset="0.1110" stop-color="#0000ba"/><stop offset="0.1387" stop-color="#0000a6"/><stop offset="0.1577" stop-color="#000098"/><stop offset="0.1665" stop-color="#0000a2"/><stop offset="0.1942" stop-color="#0000c0"/><stop offset="0.2220" stop-color="#0000df"/><stop offset="0.2271" stop-color="#0000e4"/><stop offset="0.2497" stop-color="#001bff"/><stop offset="0.2774" stop-color="#005dff"/><stop offset="0.3008" stop-color="#0094ff"/><stop offset="0.3052" stop-color="#0096ff"/><stop offset="0.3329" stop-color="#00a4ff"/><stop offset="0.3607" stop-color="#00b2ff"/><stop offset="0.3884" stop-color="#00bfff"/><stop offset="0.4162" stop-color="#00cdff"/><stop offset="0.4384" stop-color="#00d8ff"/><stop offset="0.4439" stop-color="#00d8ff"/><stop offset="0.4717" stop-color="#00d7ff"/><stop offset="0.4994" stop-color="#00d7ff"/><stop offset="0.5272" stop-color="#00d6ff"/><stop offset="0.5549" stop-color="#00d6ff"/><stop offset="0.5822" stop-color="#00d5ff"/><stop offset="0.5826" stop-color="#00d5ff"/><stop offset="0.6104" stop-color="#00d1ff"/><stop offset="0.6381" stop-color="#00cdff"/><stop offset="0.6659" stop-color="#00c9ff"/><stop offset="0.6936" stop-color="#00c5ff"/><stop offset="0.7202" stop-color="#00c1ff"/><stop offset="0.7214" stop-color="#00c1ff"/><stop offset="0.7491" stop-color="#00c1ff"/><stop offset="0.7769" stop-color="#00c1ff"/><stop offset="0.8046" stop-color="#00c1ff"/><stop offset="0.8323" stop-color="#00c1ff"/><stop offset="0.8601" stop-color="#00c1ff"/><stop offset="0.8696" stop-color="#00c1ff"/><stop offset="0.8878" stop-color="#00c0ff"/><stop offset="0.9156" stop-color="#00bdff"/><stop offset="0.9433" stop-color="#00baff"/><stop offset="0.9711" stop-color="#00b7ff"/><stop offset="0.9988" stop-color="#00b5ff"/><stop offset="1.0000" stop-color="#00b5ff"/></linearGradient>
<linearGradient id="g63"><stop offset="0.0000" stop-color="#0009ff"/><stop offset="0.0277" stop-color="#0000f4"/><stop offset="0.0555" stop-color="#0000e0"/><stop offset="0.0832" stop-color="#0000cc"/><stop offset="0.1110" stop-color="#0000b8"/><stop offset="0.1387" stop-color="#0000a4"/><stop offset="0.1577" stop-color="#000096"/><stop offset="0.1665" stop-color="#00009d"/><stop offset="0.1942" stop-color="#0000b4"/><stop offset="0.2220" stop-color="#0000cb"/><stop offset="0.2271" stop-color="#0000cf"/><stop offset="0.2497" stop-color="#0009ff"/><stop offset="0.2774" stop-color="#004fff"/><stop offset="0.3008" stop-color="#008aff"/><stop offset="0.3052" stop-color="#008dff"/><stop offset="0.3329" stop-color="#009cff"/><stop offset="0.3607" stop-color="#00acff"/><stop offset="0.3884" stop-color="#00bbff"/><stop offset="0.4162" stop-color="#00caff"/><stop offset="0.4384" stop-color="#00d6ff"/><stop offset="0.4439" stop-color="#00d6ff"/><stop offset="0.4717" stop-color="#00d5ff"/><stop offset="0.4994" stop-color="#00d4ff"/><stop offset="0.5272" stop-color="#00d3ff"/><stop offset="0.5549" stop-color="#00d3ff"/><stop offset="0.5822" stop-color="#00d2ff"/><stop offset="0.5826" stop-color="#00d2ff"/><stop offset="0.6104" stop-color="#00ceff"/><stop offset="0.6381" stop-color="#00caff"/><stop offset="0.6659" stop-color="#00c6ff"/><stop offset="0.6936" stop-color="#00c2ff"/><stop offset="0.7202" stop-color="#00bfff"/><stop offset="0.7214" stop-color="#00bfff"/><stop offset="0.7491" stop-color="#00bfff"/><stop offset="0.7769" stop-color="#00bfff"/><stop offset="0.8046" stop-color="#00bfff"/><stop offset="0.8323" stop-color="#00bfff"/><stop offset="0.8601" stop-color="#00bfff"/><stop offset="0.8696" stop-color="#00bfff"/><stop offset="0.8878" stop-color="#00bdff"/><stop offset="0.9156" stop-color="#00baff"/><stop offset="0.9433" stop-color="#00b7ff"/><stop offset="0.9711" stop-color="#00b4ff"/><stop offset="0.9988" stop-color="#00b1ff"/><stop offset="1.0000" stop-color="#00b1ff"/></linearGradient>
<linearGradient id="g64"><stop offset="0.0000" stop-color="#0008ff"/><stop offset="0.0277" stop-color="#0000f3"/><stop offset="0.0555" stop-color="#0000df"/><stop offset="0.0832" stop-color="#0000cb"/><stop offset="0.1110" stop-color="#0000b6"/><stop offset="0.1387" stop-color="#0000a2"/><stop offset="0.1577" stop-color="#000094"/><stop offset="0.1665" stop-color="#00009a"/><stop offset="0.1942" stop-color="#0000ad"/><stop offset="0.2220" stop-color="#0000c0"/><stop offset="0.2271" stop-color="#0000c4"/><stop offset="0.2497" stop-color="#0000fd"/><stop offset="0.2774" stop-color="#0045ff"/><stop offset="0.3008" stop-color="#0081ff"/><stop offset="0.3052" stop-color="#0084ff"/><stop offset="0.3329" stop-color="#0096ff"/><stop offset="0.3607" stop-color="#00a7ff"/><stop offset="0.3884" stop-color="#00b9ff"/><stop offset="0.4162" stop-color="#00cbff"/><stop offset="0.4384" stop-color="#00d9ff"/><stop offset="0.4439" stop-color="#00d9ff"/><stop offset="0.4717" stop-color="#00d8ff"/><stop offset="0.4994" stop-color="#00d6ff"/><stop offset="0.5272" stop-color="#00d5ff"/><stop offset="0.5549" stop-color="#00d4ff"/><stop offset="0.5822" stop-color="#00d3ff"/><stop offset="0.5826" stop-color="#00d3ff"/><stop offset="0.6104" stop-color="#00ceff"/><stop offset="0.6381" stop-color="#00caff"/><stop offset="0.6659" stop-color="#00c5ff"/><stop offset="0.6936" stop-color="#00c1ff"/><stop offset="0.7202" stop-color="#00bcff"/><stop offset="0.7214" stop-color="#00bcff"/><stop offset="0.7491" stop-color="#00bcff"/><stop offset="0.7769" stop-color="#00bcff"/><stop offset="0.8046" stop-color="#00bcff"/><stop offset="0.8323" stop-color="#00bcff"/><stop offset="0.8601" stop-color="#00bcff"/><stop offset="0.8696" stop-color="#00bcff"/><stop offset="0.8878" stop-color="#00baff"/><stop offset="0.9156" stop-color="#00b6ff"/><stop offset="0.9433" stop-color="#00b3ff"/><stop offset="0.9711" stop-color="#00b0ff"/><stop offset="0.9988" stop-color="#00adff"/><stop offset="1.0000" stop-color="#00adff"/></linearGradient>
<linearGradient id="g65"><stop offset="0.0000" stop-color="#0008ff"/><stop offset="0.0277" stop-color="#0000f3"/><stop offset="0.0555" stop-color="#0000de"/><stop offset="0.0832" stop-color="#0000ca"/><stop offset="0.1110" stop-color="#0000b6"/><stop offset="0.1387" stop-color="#0000a2"/><stop offset="0.1577" stop-color="#000094"/><stop offset="0.1665" stop-color="#000099"/><stop offset="0.1942" stop-color="#0000aa"/><stop offset="0.2220" stop-color="#0000bc"/><stop offset="0.2271" stop-color="#0000bf"/><stop offset="0.2497" stop-color="#0000fa"/><stop offset="0.2774" stop-color="#0043ff"/><stop offset="0.3008" stop-color="#0080ff"/><stop offset="0.3052" stop-color="#0082ff"/><stop offset="0.3329" stop-color="#0095ff"/><stop offset="0.3607" stop-color="#00a8ff"/><stop offset="0.3884" stop-color="#00bbff"/><stop offset="0.4162" stop-color="#00ceff"/><stop offset="0.4384" stop-color="#00ddff"/><stop offset="0.4439" stop-color="#00dcff"/><stop offset="0.4717" stop-color="#00dbff"/><stop offset="0.4994" stop-color="#00d9ff"/><stop offset="0.5272" stop-color="#00d8ff"/><stop offset="0.5549" stop-color="#00d6ff"/><stop offset="0.5822" stop-color="#00d4ff"/><stop offset="0.5826" stop-color="#00d4ff"/><stop offset="0.6104" stop-color="#00cfff"/><stop offset="0.6381" stop-color="#00c9ff"/><stop offset="0.6659" stop-color="#00c4ff"/><stop offset="0.6936" stop-color="#00bfff"/><stop offset="0.7202" stop-color="#00b9ff"/><stop offset="0.7214" stop-color="#00b9ff"/><stop offset="0.7491" stop-color="#00b9ff"/><stop offset="0.7769" stop-color="#00b8ff"/><stop offset="0.8046" stop-color="#00b8ff"/><stop offset="0.8323" stop-color="#00b7ff"/><stop offset="0.8601" stop-color="#00b6ff"/><stop offset="0.8696" stop-color="#00b6ff"/><stop offset="0.8878" stop-color="#00b4ff"/><stop offset="0.9156" stop-color="#00b1ff"/><stop offset="0.9433" stop-color="#00aeff"/><stop offset="0.9711" stop-color="#00aaff"/><stop offset="0.9988" stop-color="#00a7ff"/><stop offset="1.0000" stop-color="#00a7ff"/></linearGradient>
<linearGradient id="g66"><stop offset="0.0000" stop-color="#0007ff"/><stop offset="0.0277" stop-color="#0000f2"/><stop offset="0.0555" stop-color="#0000de"/><stop offset="0.0832" stop-color="#0000ca"/><stop offset="0.1110" stop-color="#0000b6"/><stop offset="0.1387" stop-color="#0000a2"/><stop offset="0.1577" stop-color="#000094"/><stop offset="0.1665" stop-color="#000099"/><stop offset="0.1942" stop-color="#0000a9"/><stop offset="0.2220" stop-color="#0000ba"/><stop offset="0.2271" stop-color="#0000bd"/><stop offset="0.2497" stop-color="#0000f8"/><stop offset="0.2774" stop-color="#0042ff"/><stop offset="0.3008" stop-color="#0080ff"/><stop offset="0.3052" stop-color="#0083ff"/><stop offset="0.3329" stop-color="#0096ff"/><stop offset="0.3607" stop-color="#00aaff"/><stop offset="0.3884" stop-color="#00bdff"/><stop offset="0.4162" stop-color="#00d1ff"/><stop offset="0.4384" stop-color="#00e0ff"/><stop offset="0.4439" stop-color="#00e0ff"/><stop offset="0.4717" stop-color="#00deff"/><stop offset="0.4994" stop-color="#00dcff"/><stop offset="0.5272" stop-color="#00daff"/><stop offset="0.5549" stop-color="#00d8ff"/><stop offset="0.5822" stop-color="#00d6ff"/><stop offset="0.5826" stop-color="#00d6ff"/><stop offset="0.6104" stop-color="#00d0ff"/><stop offset="0.6381" stop-color="#00c9ff"/><stop offset="0.6659" stop-color="#00c3ff"/><stop offset="0.6936" stop-color="#00bcff"/><stop offset="0.7202" stop-color="#00b6ff"/><stop offset="0.7214" stop-color="#00b6ff"/><stop offset="0.7491" stop-color="#00b5ff"/><stop offset="0.7769" stop-color="#00b4ff"/><stop offset="0.8046" stop-color="#00b3ff"/><stop offset="0.8323" stop-color="#00b2ff"/><stop offset="0.8601" stop-color="#00b1ff"/><stop offset="0.8696" stop-color="#00b1ff"/><stop offset="0.8878" stop-color="#00afff"/><stop offset="0.9156" stop-color="#00acff"/><stop offset="0.9433" stop-color="#00a9ff"/><stop offset="0.9711" stop-color="#00a5ff"/><stop offset="0.9988" stop-color="#00a2ff"/><stop offset="1.0000" stop-color="#00a2ff"/></linearGradient>
<linearGradient id="g67"><stop offset="0.0000" stop-color="#0007ff"/><stop offset="0.0277" stop-color="#0000f2"/><stop offset="0.0555" stop-color="#0000de"/><stop offset="0.0832" stop-color="#0000ca"/><stop offset="0.1110" stop-color="#0000b6"/><stop offset="0.1387" stop-color="#0000a2"/><stop offset="0.1577" stop-color="#000094"/><stop offset="0.1665" stop-color="#000099"/><stop offset="0.1942" stop-color="#0000a9"/><stop offset="0.2220" stop-color="#0000ba"/><stop offset="0.2271" stop-color="#0000bd"/><stop offset="0.2497" stop-color="#0000fa"/><stop offset="0.2774" stop-color="#0046ff"/><stop offset="0.3008" stop-color="#0085ff"/><stop offset="0.3052" stop-color="#0088ff"/><stop offset="0.3329" stop-color="#009bff"/><stop offset="0.3607" stop-color="#00aeff"/><stop offset="0.3884" stop-color="#00c0ff"/><stop offset="0.4162" stop-color="#00d3ff"/><stop offset="0.4384" stop-color="#00e2ff"/><stop offset="0.4439" stop-color="#00e2ff"/><stop offset="0.4717" stop-color="#00e0ff"/><stop offset="0.4994" stop-color="#00ddff"/><stop offset="0.5272" stop-color="#00dbff"/><stop offset="0.5549" stop-color="#00d9ff"/><stop offset="0.5822" stop-color="#00d6ff"/><stop offset="0.5826" stop-color="#00d6ff"/><stop offset="0.6104" stop-color="#00cfff"/><stop offset="0.6381" stop-color="#00c8ff"/><stop offset="0.6659" stop-color="#00c0ff"/><stop offset="0.6936" stop-color="#00b9ff"/><stop offset="0.7202" stop-color="#00b2ff"/><stop offset="0.7214" stop-color="#00b2ff"/><stop offset="0.7491" stop-color="#00b1ff"/><stop offset="0.7769" stop-color="#00b0ff"/><stop offset="0.8046" stop-color="#00afff"/><stop offset="0.8323" stop-color="#00afff"/><stop offset="0.8601" stop-color="#00aeff"/><stop offset="0.8696" stop-color="#00adff"/><stop offset="0.8878" stop-color="#00abff"/><stop offset="0.9156" stop-color="#00a8ff"/><stop offset="0.9433" stop-color="#00a5ff"/><stop offset="0.9711" stop-color="#00a2ff"/><stop offset="0.9988" stop-color="#009fff"/><stop offset="1.0000" stop-color="#009fff"/></linearGradient>
<linearGradient id="g68"><stop offset="0.0000" stop-color="#0006ff"/><stop offset="0.0277" stop-color="#0000f1"/><stop offset="0.0555" stop-color="#0000de"/><stop offset="0.0832" stop-color="#0000ca"/><stop offset="0.1110" stop-color="#0000b6"/><stop offset="0.1387" stop-color="#0000a3"/><stop offset="0.1577" stop-color="#000095"/><stop offset="0.1665" stop-color="#00009a"/><stop offset="0.1942" stop-color="#0000aa"/><stop offset="0.2220" stop-color="#0000ba"/><stop offset="0.2271" stop-color="#0000bd"/><stop offset="0.2497" stop-color="#0000fe"/><stop offset="0.2774" stop-color="#0050ff"/><stop offset="0.3008" stop-color="#0094ff"/><stop offset="0.3052" stop-color="#0097ff"/><stop offset="0.3329" stop-color="#00a7ff"/><stop offset="0.3607" stop-color="#00b7ff"/><stop offset="0.3884" stop-color="#00c7ff"/><stop offset="0.4162" stop-color="#00d7ff"/><stop offset="0.4384" stop-color="#00e4ff"/><stop offset="0.4439" stop-color="#00e4ff"/><stop offset="0.4717" stop-color="#00e1ff"/><stop offset="0.4994" stop-color="#00deff"/><stop offset="0.5272" stop-color="#00dcff"/><stop offset="0.5549" stop-color="#00d9ff"/><stop offset="0.5822" stop-color="#00d6ff"/><stop offset="0.5826" stop-color="#00d6ff"/><stop offset="0.6104" stop-color="#00ceff"/><stop offset="0.6381" stop-color="#00c6ff"/><stop offset="0.6659" stop-color="#00beff"/><stop offset="0.6936" stop-color="#00b6ff"/><stop offset="0.7202" stop-color="#00aeff"/><stop offset="0.7214" stop-color="#00aeff"/><stop offset="0.7491" stop-color="#00adff"/><stop offset="0.7769" stop-color="#00adff"/><stop offset="0.8046" stop-color="#00acff"/><stop offset="0.8323" stop-color="#00abff"/><stop offset="0.8601" stop-color="#00aaff"/><stop offset="0.8696" stop-color="#00a9ff"/><stop offset="0.8878" stop-color="#00a8ff"/><stop offset="0.9156" stop-color="#00a5ff"/><stop offset="0.9433" stop-color="#00a2ff"/><stop offset="0.9711" stop-color="#009fff"/><stop offset="0.9988" stop-color="#009cff"/><stop offset="1.0000" stop-color="#009cff"/></linearGradient>
<linearGradient id="g69"><stop offset="0.0000" stop-color="#0005ff"/><stop offset="0.0277" stop-color="#0000f2"/><stop offset="0.0555" stop-color="#0000df"/><stop offset="0.0832" stop-color="#0000cc"/><stop offset="0.1110" stop-color="#0000b9"/><stop offset="0.1387" stop-color="#0000a6"/><stop offset="0.1577" stop-color="#000099"/><stop offset="0.1665" stop-color="#00009e"/><stop offset="0.1942" stop-color="#0000ac"/><stop offset="0.2220" stop-color="#0000ba"/><stop offset="0.2271" stop-color="#0000bd"/><stop offset="0.2497" stop-color="#0004ff"/><stop offset="0.2774" stop-color="#005aff"/><stop offset="0.3008" stop-color="#00a3ff"/><stop offset="0.3052" stop-color="#00a5ff"/><stop offset="0.3329" stop-color="#00b3ff"/><stop offset="0.3607" stop-color="#00c0ff"/><stop offset="0.3884" stop-color="#00ceff"/><stop offset="0.4162" stop-color="#00dbff"/><stop offset="0.4384" stop-color="#00e6ff"/><stop offset="0.4439" stop-color="#00e5ff"/><stop offset="0.4717" stop-color="#00e2ff"/><stop offset="0.4994" stop-color="#00dfff"/><stop offset="0.5272" stop-color="#00dcff"/><stop offset="0.5549" stop-color="#00d9ff"/><stop offset="0.5822" stop-color="#00d6ff"/><stop offset="0.5826" stop-color="#00d6ff"/><stop offset="0.6104" stop-color="#00cdff"/><stop offset="0.6381" stop-color="#00c4ff"/><stop offset="0.6659" stop-color="#00bcff"/><stop offset="0.6936" stop-color="#00b3ff"/><stop offset="0.7202" stop-color="#00abff"/><stop offset="0.7214" stop-color="#00abff"/><stop offset="0.7491" stop-color="#00aaff"/><stop offset="0.7769" stop-color="#00a9ff"/><stop offset="0.8046" stop-color="#00a8ff"/><stop offset="0.8323" stop-color="#00a7ff"/><stop offset="0.8601" stop-color="#00a6ff"/><stop offset="0.8696" stop-color="#00a5ff"/><stop offset="0.8878" stop-color="#00a4ff"/><stop offset="0.9156" stop-color="#00a1ff"/><stop offset="0.9433" stop-color="#009fff"/><stop offset="0.9711" stop-color="#009cff"/><stop offset="0.9988" stop-color="#009aff"/><stop offset="1.0000" stop-color="#0099ff"/></linearGradient>
<linearGradient id="g70"><stop offset="0.0000" stop-color="#000fff"/><stop offset="0.0277" stop-color="#0000fa"/><stop offset="0.0555" stop-color="#0000e6"/><stop offset="0.0832" stop-color="#0000d2"/><stop offset="0.1110" stop-color="#0000bf"/><stop offset="0.1387" stop-color="#0000ab"/><stop offset="0.1577" stop-color="#00009d"/><stop offset="0.1665" stop-color="#0000a4"/><stop offset="0.1942" stop-color="#0000b8"/><stop offset="0.2220" stop-color="#0000cc"/><stop offset="0.2271" stop-color="#0000d0"/><stop offset="0.2497" stop-color="#0017ff"/><stop offset="0.2774" stop-color="#006eff"/><stop offset="0.3008" stop-color="#00b6ff"/><stop offset="0.3052" stop-color="#00b8ff"/><stop offset="0.3329" stop-color="#00c2ff"/><stop offset="0.3607" stop-color="#00cbff"/><stop offset="0.3884" stop-color="#00d5ff"/><stop offset="0.4162" stop-color="#00dfff"/><stop offset="0.4384" stop-color="#00e6ff"/><stop offset="0.4439" stop-color="#00e6ff"/><stop offset="0.4717" stop-color="#00e2ff"/><stop offset="0.4994" stop-color="#00dfff"/><stop offset="0.5272" stop-color="#00dbff"/><stop offset="0.5549" stop-color="#00d8ff"/><stop offset="0.5822" stop-color="#00d4ff"/><stop offset="0.5826" stop-color="#00d4ff"/><stop offset="0.6104" stop-color="#00cbff"/><stop offset="0.6381" stop-color="#00c2ff"/><stop offset="0.6659" stop-color="#00b9ff"/><stop offset="0.6936" stop-color="#00afff"/><stop offset="0.7202" stop-color="#00a7ff"/><stop offset="0.7214" stop-color="#00a7ff"/><stop offset="0.7491" stop-color="#00a6ff"/><stop offset="0.7769" stop-color="#00a5ff"/><stop offset="0.8046" stop-color="#00a4ff"/><stop offset="0.8323" stop-color="#00a3ff"/><stop offset="0.8601" stop-color="#00a2ff"/><stop offset="0.8696" stop-color="#00a2ff"/><stop offset="0.8878" stop-color="#00a0ff"/><stop offset="0.9156" stop-color="#009dff"/><stop offset="0.9433" stop-color="#009aff"/><stop offset="0.9711" stop-color="#0097ff"/><stop offset="0.9988" stop-color="#0094ff"/><stop offset="1.0000" stop-color="#0094ff"/></linearGradient>
<linearGradient id="g71"><stop offset="0.0000" stop-color="#002aff"/><stop offset="0.0277" stop-color="#0013ff"/><stop offset="0.0555" stop-color="#0000fc"/><stop offset="0.0832" stop-color="#0000e5"/><stop offset="0.1110" stop-color="#0000cf"/><stop offset="0.1387" stop-color="#0000b8"/><stop offset="0.1577" stop-color="#0000a9"/><stop offset="0.1665" stop-color="#0000b0"/><stop offset="0.1942" stop-color="#0000c9"/><stop offset="0.2220" stop-color="#0000e2"/><stop offset="0.2271" stop-color="#0000e7"/><stop offset="0.2497" stop-color="#002dff"/><stop offset="0.2774" stop-color="#0082ff"/><stop offset="0.3008" stop-color="#00c9ff"/><stop offset="0.3052" stop-color="#00caff"/><stop offset="0.3329" stop-color="#00d0ff"/><stop offset="0.3607" stop-color="#00d6ff"/><stop offset="0.3884" stop-color="#00dcff"/><stop offset="0.4162" stop-color="#00e2ff"/><stop offset="0.4384" stop-color="#00e7ff"/><stop offset="0.4439" stop-color="#00e6ff"/><stop offset="0.4717" stop-color="#00e2ff"/><stop offset="0.4994" stop-color="#00dfff"/><stop offset="0.5272" stop-color="#00dbff"/><stop offset="0.5549" stop-color="#00d7ff"/><stop offset="0.5822" stop-color="#00d3ff"/><stop offset="0.5826" stop-color="#00d3ff"/><stop offset="0.6104" stop-color="#00c9ff"/><stop offset="0.6381" stop-color="#00bfff"/><stop offset="0.6659" stop-color="#00b6ff"/><stop offset="0.6936" stop-color="#00acff"/><stop offset="0.7202" stop-color="#00a3ff"/><stop offset="0.7214" stop-color="#00a3ff"/><stop offset="0.7491" stop-color="#00a2ff"/><stop offset="0.7769" stop-color="#00a1ff"/><stop offset="0.8046" stop-color="#00a0ff"/><stop offset="0.8323" stop-color="#009fff"/><stop offset="0.8601" stop-color="#009eff"/><stop offset="0.8696" stop-color="#009eff"/><stop offset="0.8878" stop-color="#009bff"/><stop offset="0.9156" stop-color="#0098ff"/><stop offset="0.9433" stop-color="#0095ff"/><stop offset="0.9711" stop-color="#0092ff"/><stop offset="0.9988" stop-color="#008eff"/><stop offset="1.0000" stop-color="#008eff"/></linearGradient>
<linearGradient id="g72"><stop offset="0.0000" stop-color="#0030ff"/><stop offset="0.0277" stop-color="#001bff"/><stop offset="0.0555" stop-color="#0005ff"/><stop offset="0.0832" stop-color="#0000ef"/><stop offset="0.1110" stop-color="#0000d9"/><stop offset="0.1387" stop-color="#0000c3"/><stop offset="0.1577" stop-color="#0000b5"/><stop offset="0.1665" stop-color="#0000c0"/><stop offset="0.1942" stop-color="#0000e2"/><stop offset="0.2220" stop-color="#0005ff"/><stop offset="0.2271" stop-color="#000cff"/><stop offset="0.2497" stop-color="#004bff"/><stop offset="0.2774" stop-color="#0098ff"/><stop offset="0.3008" stop-color="#00d9ff"/><stop offset="0.3052" stop-color="#00daff"/><stop offset="0.3329" stop-color="#00ddff"/><stop offset="0.3607" stop-color="#00e0ff"/><stop offset="0.3884" stop-color="#00e3ff"/><stop offset="0.4162" stop-color="#00e5ff"/><stop offset="0.4384" stop-color="#00e8ff"/><stop offset="0.4439" stop-color="#00e7ff"/><stop offset="0.4717" stop-color="#00e3ff"/><stop offset="0.4994" stop-color="#00deff"/><stop offset="0.5272" stop-color="#00daff"/><stop offset="0.5549" stop-color="#00d6ff"/><stop offset="0.5822" stop-color="#00d2ff"/><stop offset="0.5826" stop-color="#00d1ff"/><stop offset="0.6104" stop-color="#00c7ff"/><stop offset="0.6381" stop-color="#00bdff"/><stop offset="0.6659" stop-color="#00b3ff"/><stop offset="0.6936" stop-color="#00a9ff"/><stop offset="0.7202" stop-color="#009fff"/><stop offset="0.7214" stop-color="#009fff"/><stop offset="0.7491" stop-color="#009eff"/><stop offset="0.7769" stop-color="#009dff"/><stop offset="0.8046" stop-color="#009bff"/><stop offset="0.8323" stop-color="#009aff"/><stop offset="0.8601" stop-color="#0099ff"/><stop offset="0.8696" stop-color="#0099ff"/><stop offset="0.8878" stop-color="#0097ff"/><stop offset="0.9156" stop-color="#0093ff"/><stop offset="0.9433" stop-color="#0090ff"/><stop offset="0.9711" stop-color="#008dff"/><stop offset="0.9988" stop-color="#008aff"/><stop offset="1.0000" stop-color="#0089ff"/></linearGradient>
<linearGradient id="g73"><stop offset="0.0000" stop-color="#0033ff"/><stop offset="0.0277" stop-color="#0020ff"/><stop offset="0.0555" stop-color="#000eff"/><stop offset="0.0832" stop-color="#0000fa"/><stop offset="0.1110" stop-color="#0000e8"/><stop offset="0.1387" stop-color="#0000d5"/><stop offset="0.1577" stop-color="#0000c9"/><stop offset="0.1665" stop-color="#0000d7"/><stop offset="0.1942" stop-color="#0004ff"/><stop offset="0.2220" stop-color="#0031ff"/><stop offset="0.2271" stop-color="#0039ff"/><stop offset="0.2497" stop-color="#006eff"/><stop offset="0.2774" stop-color="#00b0ff"/><stop offset="0.3008" stop-color="#00e7ff"/><stop offset="0.3052" stop-color="#00e7ff"/><stop offset="0.3329" stop-color="#00e7ff"/><stop offset="0.3607" stop-color="#00e8ff"/><stop offset="0.3884" stop-color="#00e8ff"/><stop offset="0.4162" stop-color="#00e8ff"/><stop offset="0.4384" stop-color="#00e9ff"/><stop offset="0.4439" stop-color="#00e8ff"/><stop offset="0.4717" stop-color="#00e3ff"/><stop offset="0.4994" stop-color="#00deff"/><stop offset="0.5272" stop-color="#00d9ff"/><stop offset="0.5549" stop-color="#00d5ff"/><stop offset="0.5822" stop-color="#00d0ff"/><stop offset="0.5826" stop-color="#00d0ff"/><stop offset="0.6104" stop-color="#00c5ff"/><stop offset="0.6381" stop-color="#00bbff"/><stop offset="0.6659" stop-color="#00b0ff"/><stop offset="0.6936" stop-color="#00a5ff"/><stop offset="0.7202" stop-color="#009bff"/><stop offset="0.7214" stop-color="#009bff"/><stop offset="0.7491" stop-color="#009aff"/><stop offset="0.7769" stop-color="#0098ff"/><stop offset="0.8046" stop-color="#0097ff"/><stop offset="0.8323" stop-color="#0096ff"/><stop offset="0.8601" stop-color="#0094ff"/><stop offset="0.8696" stop-color="#0094ff"/><stop offset="0.8878" stop-color="#0092ff"/><stop offset="0.9156" stop-color="#008fff"/><stop offset="0.9433" stop-color="#008bff"/><stop offset="0.9711" stop-color="#0088ff"/><stop offset="0.9988" stop-color="#0085ff"/><stop offset="1.0000" stop-color="#0085ff"/></linearGradient>
<linearGradient id="g74"><stop offset="0.0000" stop-color="#0025ff"/><stop offset="0.0277" stop-color="#001bff"/><stop offset="0.0555" stop-color="#0011ff"/><stop offset="0.0832" stop-color="#0007ff"/><stop offset="0.1110" stop-color="#0000fc"/><stop offset="0.1387" stop-color="#0000f2"/><stop offset="0.1577" stop-color="#0000ec"/><stop offset="0.1665" stop-color="#0000fa"/><stop offset="0.1942" stop-color="#0029ff"/><stop offset="0.2220" stop-color="#0057ff"/><stop offset="0.2271" stop-color="#005fff"/><stop offset="0.2497" stop-color="#008cff"/><stop offset="0.2774" stop-color="#00c4ff"/><stop offset="0.3008" stop-color="#00f3ff"/><stop offset="0.3052" stop-color="#00f2ff"/><stop offset="0.3329" stop-color="#00f0ff"/><stop offset="0.3607" stop-color="#00eeff"/><stop offset="0.3884" stop-color="#00edff"/><stop offset="0.4162" stop-color="#00ebff"/><stop offset="0.4384" stop-color="#00e9ff"/><stop offset="0.4439" stop-color="#00e8ff"/><stop offset="0.4717" stop-color="#00e3ff"/><stop offset="0.4994" stop-color="#00deff"/><stop offset="0.5272" stop-color="#00d9ff"/><stop offset="0.5549" stop-color="#00d4ff"/><stop offset="0.5822" stop-color="#00cfff"/><stop offset="0.5826" stop-color="#00cfff"/><stop offset="0.6104" stop-color="#00c3ff"/><stop offset="0.6381" stop-color="#00b8ff"/><stop offset="0.6659" stop-color="#00adff"/><stop offset="0.6936" stop-color="#00a2ff"/><stop offset="0.7202" stop-color="#0097ff"/><stop offset="0.7214" stop-color="#0097ff"/><stop offset="0.7491" stop-color="#0096ff"/><stop offset="0.7769" stop-color="#0094ff"/><stop offset="0.8046" stop-color="#0093ff"/><stop offset="0.8323" stop-color="#0091ff"/><stop offset="0.8601" stop-color="#0090ff"/><stop offset="0.8696" stop-color="#008fff"/><stop offset="0.8878" stop-color="#008dff"/><stop offset="0.9156" stop-color="#008aff"/><stop offset="0.9433" stop-color="#0086ff"/><stop offset="0.9711" stop-color="#0083ff"/><stop offset="0.9988" stop-color="#0080ff"/><stop offset="1.0000" stop-color="#0080ff"/></linearGradient>
<linearGradient id="g75"><stop offset="0.0000" stop-color="#001aff"/><stop offset="0.0277" stop-color="#0018ff"/><stop offset="0.0555" stop-color="#0016ff"/><stop offset="0.0832" stop-color="#0014ff"/><stop offset="0.1110" stop-color="#0012ff"/><stop offset="0.1387" stop-color="#0011ff"/><stop offset="0.1577" stop-color="#000fff"/><stop offset="0.1665" stop-color="#001cff"/><stop offset="0.1942" stop-color="#0046ff"/><stop offset="0.2220" stop-color="#0070ff"/><stop offset="0.2271" stop-color="#0078ff"/><stop offset="0.2497" stop-color="#00a0ff"/><stop offset="0.2774" stop-color="#00d1ff"/><stop offset="0.3008" stop-color="#00fbff"/><stop offset="0.3052" stop-color="#00faff"/><stop offset="0.3329" stop-color="#00f7ff"/><stop offset="0.3607" stop-color="#00f3ff"/><stop offset="0.3884" stop-color="#00f0ff"/><stop offset="0.4162" stop-color="#00edff"/><stop offset="0.4384" stop-color="#00eaff"/><stop offset="0.4439" stop-color="#00e9ff"/><stop offset="0.4717" stop-color="#00e3ff"/><stop offset="0.4994" stop-color="#00deff"/><stop offset="0.5272" stop-color="#00d8ff"/><stop offset="0.5549" stop-color="#00d3ff"/><stop offset="0.5822" stop-color="#00cdff"/><stop offset="0.5826" stop-color="#00cdff"/><stop offset="0.6104" stop-color="#00c2ff"/><stop offset="0.6381" stop-color="#00b6ff"/><stop offset="0.6659" stop-color="#00aaff"/><stop offset="0.6936" stop-color="#009eff"/><stop offset="0.7202" stop-color="#0093ff"/><stop offset="0.7214" stop-color="#0093ff"/><stop offset="0.7491" stop-color="#0092ff"/><stop offset="0.7769" stop-color="#0090ff"/><stop offset="0.8046" stop-color="#008eff"/><stop offset="0.8323" stop-color="#008cff"/><stop offset="0.8601" stop-color="#008bff"/><stop offset="0.8696" stop-color="#008aff"/><stop offset="0.8878" stop-color="#0088ff"/><stop offset="0.9156" stop-color="#0085ff"/><stop offset="0.9433" stop-color="#0082ff"/><stop offset="0.9711" stop-color="#007eff"/><stop offset="0.9988" stop-color="#007bff"/><stop offset="1.0000" stop-color="#007bff"/></linearGradient>
<linearGradient id="g76"><stop offset="0.0000" stop-color="#001bff"/><stop offset="0.0277" stop-color="#001cff"/><stop offset="0.0555" stop-color="#001eff"/><stop offset="0.0832" stop-color="#001fff"/><stop offset="0.1110" stop-color="#0020ff"/><stop offset="0.1387" stop-color="#0022ff"/><stop offset="0.1577" stop-color="#0022ff"/><stop offset="0.1665" stop-color="#0030ff"/><stop offset="0.1942" stop-color="#005cff"/><stop offset="0.2220" stop-color="#0088ff"/><stop offset="0.2271" stop-color="#0090ff"/><stop offset="0.2497" stop-color="#00b3ff"/><stop offset="0.2774" stop-color="#00dfff"/><stop offset="0.3008" stop-color="#04fffb"/><stop offset="0.3052" stop-color="#03fffc"/><stop offset="0.3329" stop-color="#00fdff"/><stop offset="0.3607" stop-color="#00f8ff"/><stop offset="0.3884" stop-color="#00f3ff"/><stop offset="0.4162" stop-color="#00efff"/><stop offset="0.4384" stop-color="#00ebff"/><stop offset="0.4439" stop-color="#00e9ff"/><stop offset="0.4717" stop-color="#00e4ff"/><stop offset="0.4994" stop-color="#00deff"/><stop offset="0.5272" stop-color="#00d8ff"/><stop offset="0.5549" stop-color="#00d2ff"/><stop offset="0.5822" stop-color="#00ccff"/><stop offset="0.5826" stop-color="#00ccff"/><stop offset="0.6104" stop-color="#00c0ff"/><stop offset="0.6381" stop-color="#00b3ff"/><stop offset="0.6659" stop-color="#00a7ff"/><stop offset="0.6936" stop-color="#009bff"/><stop offset="0.7202" stop-color="#008fff"/><stop offset="0.7214" stop-color="#008fff"/><stop offset="0.7491" stop-color="#008dff"/><stop offset="0.7769" stop-color="#008cff"/><stop offset="0.8046" stop-color="#008aff"/><stop offset="0.8323" stop-color="#0088ff"/><stop offset="0.8601" stop-color="#0086ff"/><stop offset="0.8696" stop-color="#0085ff"/><stop offset="0.8878" stop-color="#0083ff"/><stop offset="0.9156" stop-color="#0080ff"/><stop offset="0.9433" stop-color="#007dff"/><stop offset="0.9711" stop-color="#0079ff"/><stop offset="0.9988" stop-color="#0076ff"/><stop offset="1.0000" stop-color="#0076ff"/></linearGradient>
<linearGradient id="g77"><stop offset="0.0000" stop-color="#001cff"/><stop offset="0.0277" stop-color="#0020ff"/><stop offset="0.0555" stop-color="#0025ff"/><stop offset="0.0832" stop-color="#0029ff"/><stop offset="0.1110" stop-color="#002eff"/><stop offset="0.1387" stop-color="#0032ff"/><stop offset="0.1577" stop-color="#0036ff"/><stop offset="0.1665" stop-color="#0043ff"/><stop offset="0.1942" stop-color="#006eff"/><stop offset="0.2220" stop-color="#009aff"/><stop offset="0.2271" stop-color="#00a2ff"/><stop offset="0.2497" stop-color="#00c2ff"/><stop offset="0.2774" stop-color="#00eaff"/><stop offset="0.3008" stop-color="#0cfff3"/><stop offset="0.3052" stop-color="#0bfff4"/><stop offset="0.3329" stop-color="#04fffb"/><stop offset="0.3607" stop-color="#00fdff"/><stop offset="0.3884" stop-color="#00f6ff"/><stop offset="0.4162" stop-color="#00efff"/><stop offset="0.4384" stop-color="#00eaff"/><stop offset="0.4439" stop-color="#00e9ff"/><stop offset="0.4717" stop-color="#00e2ff"/><stop offset="0.4994" stop-color="#00dcff"/><stop offset="0.5272" stop-color="#00d5ff"/><stop offset="0.5549" stop-color="#00cfff"/><stop offset="0.5822" stop-color="#00c8ff"/><stop offset="0.5826" stop-color="#00c8ff"/><stop offset="0.6104" stop-color="#00bcff"/><stop offset="0.6381" stop-color="#00b0ff"/><stop offset="0.6659" stop-color="#00a3ff"/><stop offset="0.6936" stop-color="#0097ff"/><stop offset="0.7202" stop-color="#008bff"/><stop offset="0.7214" stop-color="#008bff"/><stop offset="0.7491" stop-color="#0089ff"/><stop offset="0.7769" stop-color="#0087ff"/><stop offset="0.8046" stop-color="#0085ff"/><stop offset="0.8323" stop-color="#0083ff"/><stop offset="0.8601" stop-color="#0081ff"/><stop offset="0.8696" stop-color="#0080ff"/><stop offset="0.8878" stop-color="#007eff"/><stop offset="0.9156" stop-color="#007bff"/><stop offset="0.9433" stop-color="#0078ff"/><stop offset="0.9711" stop-color="#0075ff"/><stop offset="0.9988" stop-color="#0071ff"/><stop offset="1.0000" stop-color="#0071ff"/></linearGradient>
<linearGradient id="g78"><stop offset="0.0000" stop-color="#001dff"/><stop offset="0.0277" stop-color="#0025ff"/><stop offset="0.0555" stop-color="#002dff"/><stop offset="0.0832" stop-color="#0035ff"/><stop offset="0.1110" stop-color="#003dff"/><stop offset="0.1387" stop-color="#0045ff"/><stop offset="0.1577" stop-color="#004bff"/><stop offset="0.1665" stop-color="#0058ff"/><stop offset="0.1942" stop-color="#0081ff"/><stop offset="0.2220" stop-color="#00aaff"/><stop offset="0.2271" stop-color="#00b2ff"/><stop offset="0.2497" stop-color="#00cfff"/><stop offset="0.2774" stop-color="#00f3ff"/><stop offset="0.3008" stop-color="#12ffed"/><stop offset="0.3052" stop-color="#11ffee"/><stop offset="0.3329" stop-color="#09fff6"/><stop offset="0.3607" stop-color="#01fffe"/><stop offset="0.3884" stop-color="#00f8ff"/><stop offset="0.4162" stop-color="#00f0ff"/><stop offset="0.4384" stop-color="#00e9ff"/><stop offset="0.4439" stop-color="#00e8ff"/><stop offset="0.4717" stop-color="#00e1ff"/><stop offset="0.4994" stop-color="#00daff"/><stop offset="0.5272" stop-color="#00d3ff"/><stop offset="0.5549" stop-color="#00ccff"/><stop offset="0.5822" stop-color="#00c5ff"/><stop offset="0.5826" stop-color="#00c5ff"/><stop offset="0.6104" stop-color="#00b8ff"/><stop offset="0.6381" stop-color="#00acff"/><stop offset="0.6659" stop-color="#00a0ff"/><stop offset="0.6936" stop-color="#0093ff"/><stop offset="0.7202" stop-color="#0088ff"/><stop offset="0.7214" stop-color="#0088ff"/><stop offset="0.7491" stop-color="#0085ff"/><stop offset="0.7769" stop-color="#0083ff"/><stop offset="0.8046" stop-color="#0081ff"/><stop offset="0.8323" stop-color="#007fff"/><stop offset="0.8601" stop-color="#007cff"/><stop offset="0.8696" stop-color="#007cff"/><stop offset="0.8878" stop-color="#0079ff"/><stop offset="0.9156" stop-color="#0076ff"/><stop offset="0.9433" stop-color="#0073ff"/><stop offset="0.9711" stop-color="#0070ff"/><stop offset="0.9988" stop-color="#006cff"/><stop offset="1.0000" stop-color="#006cff"/></linearGradient>
<linearGradient id="g79"><stop offset="0.0000" stop-color="#001eff"/><stop offset="0.0277" stop-color="#002aff"/><stop offset="0.0555" stop-color="#0036ff"/><stop offset="0.0832" stop-color="#0042ff"/><stop offset="0.1110" stop-color="#004dff"/><stop offset="0.1387" stop-color="#0059ff"/><stop offset="0.1577" stop-color="#0061ff"/><stop offset="0.1665" stop-color="#006dff"/><stop offset="0.1942" stop-color="#0093ff"/><stop offset="0.2220" stop-color="#00baff"/><stop offset="0.2271" stop-color="#00c1ff"/><stop offset="0.2497" stop-color="#00dbff"/><stop offset="0.2774" stop-color="#00fbff"/><stop offset="0.3008" stop-color="#17ffe8"/><stop offset="0.3052" stop-color="#16ffe9"/><stop offset="0.3329" stop-color="#0cfff3"/><stop offset="0.3607" stop-color="#03fffc"/><stop offset="0.3884" stop-color="#00f9ff"/><stop offset="0.4162" stop-color="#00f0ff"/><stop offset="0.4384" stop-color="#00e8ff"/><stop offset="0.4439" stop-color="#00e7ff"/><stop offset="0.4717" stop-color="#00dfff"/><stop offset="0.4994" stop-color="#00d8ff"/><stop offset="0.5272" stop-color="#00d0ff"/><stop offset="0.5549" stop-color="#00c9ff"/><stop offset="0.5822" stop-color="#00c1ff"/><stop offset="0.5826" stop-color="#00c1ff"/><stop offset="0.6104" stop-color="#00b5ff"/><stop offset="0.6381" stop-color="#00a8ff"/><stop offset="0.6659" stop-color="#009cff"/><stop offset="0.6936" stop-color="#0090ff"/><stop offset="0.7202" stop-color="#0084ff"/><stop offset="0.7214" stop-color="#0084ff"/><stop offset="0.7491" stop-color="#0081ff"/><stop offset="0.7769" stop-color="#007fff"/><stop offset="0.8046" stop-color="#007cff"/><stop offset="0.8323" stop-color="#007aff"/><stop offset="0.8601" stop-color="#0078ff"/><stop offset="0.8696" stop-color="#0077ff"/><stop offset="0.8878" stop-color="#0075ff"/><stop offset="0.9156" stop-color="#0071ff"/><stop offset="0.9433" stop-color="#006eff"/><stop offset="0.9711" stop-color="#006bff"/><stop offset="0.9988" stop-color="#0068ff"/><stop offset="1.0000" stop-color="#0067ff"/></linearGradient>
<linearGradient id="g80"><stop offset="0.0000" stop-color="#0023ff"/><stop offset="0.0277" stop-color="#0032ff"/><stop offset="0.0555" stop-color="#0041ff"/><stop offset="0.0832" stop-color="#004fff"/><stop offset="0.1110" stop-color="#005eff"/><stop offset="0.1387" stop-color="#006dff"/><stop offset="0.1577" stop-color="#0077ff"/><stop offset="0.1665" stop-color="#0082ff"/><stop offset="0.1942" stop-color="#00a4ff"/><stop offset="0.2220" stop-color="#00c5ff"/><stop offset="0.2271" stop-color="#00ccff"/><stop offset="0.2497" stop-color="#00e4ff"/><stop offset="0.2774" stop-color="#03fffc"/><stop offset="0.3008" stop-color="#1cffe3"/><stop offset="0.3052" stop-color="#1affe5"/><stop offset="0.3329" stop-color="#10ffef"/><stop offset="0.3607" stop-color="#06fff9"/><stop offset="0.3884" stop-color="#00faff"/><stop offset="0.4162" stop-color="#00f0ff"/><stop offset="0.4384" stop-color="#00e8ff"/><stop offset="0.4439" stop-color="#00e6ff"/><stop offset="0.4717" stop-color="#00deff"/><stop offset="0.4994" stop-color="#00d6ff"/><stop offset="0.5272" stop-color="#00ceff"/><stop offset="0.5549" stop-color="#00c6ff"/><stop offset="0.5822" stop-color="#00beff"/><stop offset="0.5826" stop-color="#00beff"/><stop offset="0.6104" stop-color="#00b1ff"/><stop offset="0.6381" stop-color="#00a5ff"/><stop offset="0.6659" stop-color="#0098ff"/><stop offset="0.6936" stop-color="#008cff"/><stop offset="0.7202" stop-color="#0080ff"/><stop offset="0.7214" stop-color="#0080ff"/><stop offset="0.7491" stop-color="#007dff"/><stop offset="0.7769" stop-color="#007bff"/><stop offset="0.8046" stop-color="#0078ff"/><stop offset="0.8323" stop-color="#0075ff"/><stop offset="0.8601" stop-color="#0073ff"/><stop offset="0.8696" stop-color="#0072ff"/><stop offset="0.8878" stop-color="#0070ff"/><stop offset="0.9156" stop-color="#006dff"/><stop offset="0.9433" stop-color="#0069ff"/><stop offset="0.9711" stop-color="#0066ff"/><stop offset="0.9988" stop-color="#0063ff"/><stop offset="1.0000" stop-color="#0063ff"/></linearGradient>
<linearGradient id="g81"><stop offset="0.0000" stop-color="#002fff"/><stop offset="0.0277" stop-color="#003fff"/><stop offset="0.0555" stop-color="#004fff"/><stop offset="0.0832" stop-color="#0060ff"/><stop offset="0.1110" stop-color="#0070ff"/><stop offset="0.1387" stop-color="#0081ff"/><stop offset="0.1577" stop-color="#008cff"/><stop offset="0.1665" stop-color="#0095ff"/><stop offset="0.1942" stop-color="#00b3ff"/><stop offset="0.2220" stop-color="#00d1ff"/><stop offset="0.2271" stop-color="#00d6ff"/><stop offset="0.2497" stop-color="#00edff"/><stop offset="0.2774" stop-color="#09fff6"/><stop offset="0.3008" stop-color="#21ffde"/><stop offset="0.3052" stop-color="#1fffe0"/><stop offset="0.3329" stop-color="#13ffec"/><stop offset="0.3607" stop-color="#08fff7"/><stop offset="0.3884" stop-color="#00fcff"/><stop offset="0.4162" stop-color="#00f0ff"/><stop offset="0.4384" stop-color="#00e7ff"/><stop offset="0.4439" stop-color="#00e5ff"/><stop offset="0.4717" stop-color="#00ddff"/><stop offset="0.4994" stop-color="#00d4ff"/><stop offset="0.5272" stop-color="#00cbff"/><stop offset="0.5549" stop-color="#00c3ff"/><stop offset="0.5822" stop-color="#00baff"/><stop offset="0.5826" stop-color="#00baff"/><stop offset="0.6104" stop-color="#00adff"/><stop offset="0.6381" stop-color="#00a1ff"/><stop offset="0.6659" stop-color="#0094ff"/><stop offset="0.6936" stop-color="#0088ff"/><stop offset="0.7202" stop-color="#007cff"/><stop offset="0.7214" stop-color="#007cff"/><stop offset="0.7491" stop-color="#0079ff"/><stop offset="0.7769" stop-color="#0076ff"/><stop offset="0.8046" stop-color="#0074ff"/><stop offset="0.8323" stop-color="#0071ff"/><stop offset="0.8601" stop-color="#006eff"/><stop offset="0.8696" stop-color="#006dff"/><stop offset="0.8878" stop-color="#006bff"/><stop offset="0.9156" stop-color="#0068ff"/><stop offset="0.9433" stop-color="#0064ff"/><stop offset="0.9711" stop-color="#0061ff"/><stop offset="0.9988" stop-color="#005eff"/><stop offset="1.0000" stop-color="#005eff"/></linearGradient>
<linearGradient id="g82"><stop offset="0.0000" stop-color="#003bff"/><stop offset="0.0277" stop-color="#004cff"/><stop offset="0.0555" stop-color="#005eff"/><stop offset="0.0832" stop-color="#0070ff"/><stop offset="0.1110" stop-color="#0082ff"/><stop offset="0.1387" stop-color="#0094ff"/><stop offset="0.1577" stop-color="#00a0ff"/><stop offset="0.1665" stop-color="#00a8ff"/><stop offset="0.1942" stop-color="#00c0ff"/><stop offset="0.2220" stop-color="#00d8ff"/><stop offset="0.2271" stop-color="#00dcff"/><stop offset="0.2497" stop-color="#00f2ff"/><stop offset="0.2774" stop-color="#0dfff2"/><stop offset="0.3008" stop-color="#24ffdb"/><stop offset="0.3052" stop-color="#22ffdd"/><stop offset="0.3329" stop-color="#16ffe9"/><stop offset="0.3607" stop-color="#0afff5"/><stop offset="0.3884" stop-color="#00fcff"/><stop offset="0.4162" stop-color="#00f0ff"/><stop offset="0.4384" stop-color="#00e6ff"/><stop offset="0.4439" stop-color="#00e4ff"/><stop offset="0.4717" stop-color="#00dbff"/><stop offset="0.4994" stop-color="#00d2ff"/><stop offset="0.5272" stop-color="#00c9ff"/><stop offset="0.5549" stop-color="#00c0ff"/><stop offset="0.5822" stop-color="#00b7ff"/><stop offset="0.5826" stop-color="#00b6ff"/><stop offset="0.6104" stop-color="#00aaff"/><stop offset="0.6381" stop-color="#009eff"/><stop offset="0.6659" stop-color="#0091ff"/><stop offset="0.6936" stop-color="#0085ff"/><stop offset="0.7202" stop-color="#0079ff"/><stop offset="0.7214" stop-color="#0079ff"/><stop offset="0.7491" stop-color="#0076ff"/><stop offset="0.7769" stop-color="#0073ff"/><stop offset="0.8046" stop-color="#0070ff"/><stop offset="0.8323" stop-color="#006dff"/><stop offset="0.8601" stop-color="#006aff"/><stop offset="0.8696" stop-color="#0069ff"/><stop offset="0.8878" stop-color="#0067ff"/><stop offset="0.9156" stop-color="#0063ff"/><stop offset="0.9433" stop-color="#0060ff"/><stop offset="0.9711" stop-color="#005cff"/><stop offset="0.9988" stop-color="#0059ff"/><stop offset="1.0000" stop-color="#0059ff"/></linearGradient>
<linearGradient id="g83"><stop offset="0.0000" stop-color="#0046ff"/><stop offset="0.0277" stop-color="#0058ff"/><stop offset="0.0555" stop-color="#006bff"/><stop offset="0.0832" stop-color="#007eff"/><stop offset="0.1110" stop-color="#0090ff"/><stop offset="0.1387" stop-color="#00a3ff"/><stop offset="0.1577" stop-color="#00b0ff"/><stop offset="0.1665" stop-color="#00b6ff"/><stop offset="0.1942" stop-color="#00caff"/><stop offset="0.2220" stop-color="#00deff"/><stop offset="0.2271" stop-color="#00e2ff"/><stop offset="0.2497" stop-color="#00f6ff"/><stop offset="0.2774" stop-color="#10ffef"/><stop offset="0.3008" stop-color="#25ffda"/><stop offset="0.3052" stop-color="#23ffdc"/><stop offset="0.3329" stop-color="#16ffe9"/><stop offset="0.3607" stop-color="#0afff5"/><stop offset="0.3884" stop-color="#00fcff"/><stop offset="0.4162" stop-color="#00f0ff"/><stop offset="0.4384" stop-color="#00e6ff"/><stop offset="0.4439" stop-color="#00e4ff"/><stop offset="0.4717" stop-color="#00daff"/><stop offset="0.4994" stop-color="#00d0ff"/><stop offset="0.5272" stop-color="#00c6ff"/><stop offset="0.5549" stop-color="#00bdff"/><stop offset="0.5822" stop-color="#00b3ff"/><stop offset="0.5826" stop-color="#00b3ff"/><stop offset="0.6104" stop-color="#00a7ff"/><stop offset="0.6381" stop-color="#009aff"/><stop offset="0.6659" stop-color="#008eff"/><stop offset="0.6936" stop-color="#0082ff"/><stop offset="0.7202" stop-color="#0076ff"/><stop offset="0.7214" stop-color="#0076ff"/><stop offset="0.7491" stop-color="#0073ff"/><stop offset="0.7769" stop-color="#0070ff"/><stop offset="0.8046" stop-color="#006cff"/><stop offset="0.8323" stop-color="#0069ff"/><stop offset="0.8601" stop-color="#0066ff"/><stop offset="0.8696" stop-color="#0065ff"/><stop offset="0.8878" stop-color="#0062ff"/><stop offset="0.9156" stop-color="#005fff"/><stop offset="0.9433" stop-color="#005bff"/><stop offset="0.9711" stop-color="#0057ff"/><stop offset="0.9988" stop-color="#0054ff"/><stop offset="1.0000" stop-color="#0054ff"/></linearGradient>
<linearGradient id="g84"><stop offset="0.0000" stop-color="#004fff"/><stop offset="0.0277" stop-color="#0063ff"/><stop offset="0.0555" stop-color="#0076ff"/><stop offset="0.0832" stop-color="#008aff"/><stop offset="0.1110" stop-color="#009eff"/><stop offset="0.1387" stop-color="#00b1ff"/><stop offset="0.1577" stop-color="#00bfff"/><stop offset="0.1665" stop-color="#00c4ff"/><stop offset="0.1942" stop-color="#00d4ff"/><stop offset="0.2220" stop-color="#00e4ff"/><stop offset="0.2271" stop-color="#00e7ff"/><stop offset="0.2497" stop-color="#00faff"/><stop offset="0.2774" stop-color="#12ffed"/><stop offset="0.3008" stop-color="#25ffda"/><stop offset="0.3052" stop-color="#23ffdc"/><stop offset="0.3329" stop-color="#16ffe9"/><stop offset="0.3607" stop-color="#0afff5"/><stop offset="0.3884" stop-color="#00fcff"/><stop offset="0.4162" stop-color="#00efff"/><stop offset="0.4384" stop-color="#00e5ff"/><stop offset="0.4439" stop-color="#00e3ff"/><stop offset="0.4717" stop-color="#00d8ff"/><stop offset="0.4994" stop-color="#00cdff"/><stop offset="0.5272" stop-color="#00c2ff"/><stop offset="0.5549" stop-color="#00b7ff"/><stop offset="0.5822" stop-color="#00adff"/><stop offset="0.5826" stop-color="#00adff"/><stop offset="0.6104" stop-color="#00a1ff"/><stop offset="0.6381" stop-color="#0096ff"/><stop offset="0.6659" stop-color="#008aff"/><stop offset="0.6936" stop-color="#007fff"/><stop offset="0.7202" stop-color="#0074ff"/><stop offset="0.7214" stop-color="#0074ff"/><stop offset="0.7491" stop-color="#0070ff"/><stop offset="0.7769" stop-color="#006dff"/><stop offset="0.8046" stop-color="#0069ff"/><stop offset="0.8323" stop-color="#0066ff"/><stop offset="0.8601" stop-color="#0062ff"/><stop offset="0.8696" stop-color="#0061ff"/><stop offset="0.8878" stop-color="#005eff"/><stop offset="0.9156" stop-color="#005aff"/><stop offset="0.9433" stop-color="#0056ff"/><stop offset="0.9711" stop-color="#0053ff"/><stop offset="0.9988" stop-color="#004fff"/><stop offset="1.0000" stop-color="#004eff"/></linearGradient>
<linearGradient id="g85"><stop offset="0.0000" stop-color="#0058ff"/><stop offset="0.0277" stop-color="#006dff"/><stop offset="0.0555" stop-color="#0081ff"/><stop offset="0.0832" stop-color="#0095ff"/><stop offset="0.1110" stop-color="#00a9ff"/><stop offset="0.1387" stop-color="#00bdff"/><stop offset="0.1577" stop-color="#00cbff"/><stop offset="0.1665" stop-color="#00cfff"/><stop offset="0.1942" stop-color="#00ddff"/><stop offset="0.2220" stop-color="#00eaff"/><stop offset="0.2271" stop-color="#00edff"/><stop offset="0.2497" stop-color="#00feff"/><stop offset="0.2774" stop-color="#14ffeb"/><stop offset="0.3008" stop-color="#26ffd9"/><stop offset="0.3052" stop-color="#24ffdb"/><stop offset="0.3329" stop-color="#17ffe8"/><stop offset="0.3607" stop-color="#0afff5"/><stop offset="0.3884" stop-color="#00fcff"/><stop offset="0.4162" stop-color="#00eeff"/><stop offset="0.4384" stop-color="#00e4ff"/><stop offset="0.4439" stop-color="#00e2ff"/><stop offset="0.4717" stop-color="#00d6ff"/><stop offset="0.4994" stop-color="#00caff"/><stop offset="0.5272" stop-color="#00beff"/><stop offset="0.5549" stop-color="#00b2ff"/><stop offset="0.5822" stop-color="#00a6ff"/><stop offset="0.5826" stop-color="#00a6ff"/><stop offset="0.6104" stop-color="#009bff"/><stop offset="0.6381" stop-color="#0091ff"/><stop offset="0.6659" stop-color="#0086ff"/><stop offset="0.6936" stop-color="#007bff"/><stop offset="0.7202" stop-color="#0071ff"/><stop offset="0.7214" stop-color="#0071ff"/><stop offset="0.7491" stop-color="#006dff"/><stop offset="0.7769" stop-color="#006aff"/><stop offset="0.8046" stop-color="#0066ff"/><stop offset="0.8323" stop-color="#0062ff"/><stop offset="0.8601" stop-color="#005eff"/><stop offset="0.8696" stop-color="#005dff"/><stop offset="0.8878" stop-color="#005aff"/><stop offset="0.9156" stop-color="#0056ff"/><stop offset="0.9433" stop-color="#0052ff"/><stop offset="0.9711" stop-color="#004eff"/><stop offset="0.9988" stop-color="#0049ff"/><stop offset="1.0000" stop-color="#0049ff"/></linearGradient>
<linearGradient id="g86"><stop offset="0.0000" stop-color="#0062ff"/><stop offset="0.0277" stop-color="#0076ff"/><stop offset="0.0555" stop-color="#008aff"/><stop offset="0.0832" stop-color="#009eff"/><stop offset="0.1110" stop-color="#00b2ff"/><stop offset="0.1387" stop-color="#00c6ff"/><stop offset="0.1577" stop-color="#00d4ff"/><stop offset="0.1665" stop-color="#00d8ff"/><stop offset="0.1942" stop-color="#00e3ff"/><stop offset="0.2220" stop-color="#00efff"/><stop offset="0.2271" stop-color="#00f1ff"/><stop offset="0.2497" stop-color="#02fffd"/><stop offset="0.2774" stop-color="#16ffe9"/><stop offset="0.3008" stop-color="#27ffd8"/><stop offset="0.3052" stop-color="#25ffda"/><stop offset="0.3329" stop-color="#17ffe8"/><stop offset="0.3607" stop-color="#0afff5"/><stop offset="0.3884" stop-color="#00fbff"/><stop offset="0.4162" stop-color="#00eeff"/><stop offset="0.4384" stop-color="#00e3ff"/><stop offset="0.4439" stop-color="#00e0ff"/><stop offset="0.4717" stop-color="#00d3ff"/><stop offset="0.4994" stop-color="#00c6ff"/><stop offset="0.5272" stop-color="#00b9ff"/><stop offset="0.5549" stop-color="#00acff"/><stop offset="0.5822" stop-color="#009fff"/><stop offset="0.5826" stop-color="#009fff"/><stop offset="0.6104" stop-color="#0095ff"/><stop offset="0.6381" stop-color="#008bff"/><stop offset="0.6659" stop-color="#0081ff"/><stop offset="0.6936" stop-color="#0077ff"/><stop offset="0.7202" stop-color="#006eff"/><stop offset="0.7214" stop-color="#006dff"/><stop offset="0.7491" stop-color="#0069ff"/><stop offset="0.7769" stop-color="#0065ff"/><stop offset="0.8046" stop-color="#0061ff"/><stop offset="0.8323" stop-color="#005dff"/><stop offset="0.8601" stop-color="#0059ff"/><stop offset="0.8696" stop-color="#0058ff"/><stop offset="0.8878" stop-color="#0055ff"/><stop offset="0.9156" stop-color="#0051ff"/><stop offset="0.9433" stop-color="#004cff"/><stop offset="0.9711" stop-color="#0048ff"/><stop offset="0.9988" stop-color="#0044ff"/><stop offset="1.0000" stop-color="#0044ff"/></linearGradient>
<linearGradient id="g87"><stop offset="0.0000" stop-color="#006bff"/><stop offset="0.0277" stop-color="#007fff"/><stop offset="0.0555" stop-color="#0093ff"/><stop offset="0.0832" stop-color="#00a7ff"/><stop offset="0.1110" stop-color="#00bbff"/><stop offset="0.1387" stop-color="#00cfff"/><stop offset="0.1577" stop-color="#00ddff"/><stop offset="0.1665" stop-color="#00e0ff"/><stop offset="0.1942" stop-color="#00eaff"/><stop offset="0.2220" stop-color="#00f3ff"/><stop offset="0.2271" stop-color="#00f5ff"/><stop offset="0.2497" stop-color="#05fffa"/><stop offset="0.2774" stop-color="#18ffe7"/><stop offset="0.3008" stop-color="#27ffd8"/><stop offset="0.3052" stop-color="#25ffda"/><stop offset="0.3329" stop-color="#17ffe8"/><stop offset="0.3607" stop-color="#0afff5"/><stop offset="0.3884" stop-color="#00fbff"/><stop offset="0.4162" stop-color="#00edff"/><stop offset="0.4384" stop-color="#00e2ff"/><stop offset="0.4439" stop-color="#00dfff"/><stop offset="0.4717" stop-color="#00d1ff"/><stop offset="0.4994" stop-color="#00c3ff"/><stop offset="0.5272" stop-color="#00b5ff"/><stop offset="0.5549" stop-color="#00a6ff"/><stop offset="0.5822" stop-color="#0098ff"/><stop offset="0.5826" stop-color="#0098ff"/><stop offset="0.6104" stop-color="#008fff"/><stop offset="0.6381" stop-color="#0085ff"/><stop offset="0.6659" stop-color="#007cff"/><stop offset="0.6936" stop-color="#0073ff"/><stop offset="0.7202" stop-color="#006aff"/><stop offset="0.7214" stop-color="#006aff"/><stop offset="0.7491" stop-color="#0065ff"/><stop offset="0.7769" stop-color="#0061ff"/><stop offset="0.8046" stop-color="#005cff"/><stop offset="0.8323" stop-color="#0058ff"/><stop offset="0.8601" stop-color="#0054ff"/><stop offset="0.8696" stop-color="#0052ff"/><stop offset="0.8878" stop-color="#004fff"/><stop offset="0.9156" stop-color="#004bff"/><stop offset="0.9433" stop-color="#0047ff"/><stop offset="0.9711" stop-color="#0042ff"/><stop offset="0.9988" stop-color="#003eff"/><stop offset="1.0000" stop-color="#003eff"/></linearGradient>
<linearGradient id="g88"><stop offset="0.0000" stop-color="#0074ff"/><stop offset="0.0277" stop-color="#0088ff"/><stop offset="0.0555" stop-color="#009cff"/><stop offset="0.0832" stop-color="#00b0ff"/><stop offset="0.1110" stop-color="#00c4ff"/><stop offset="0.1387" stop-color="#00d8ff"/><stop offset="0.1577" stop-color="#00e6ff"/><stop offset="0.1665" stop-color="#00e8ff"/><stop offset="0.1942" stop-color="#00f0ff"/><stop offset="0.2220" stop-color="#00f8ff"/><stop offset="0.2271" stop-color="#00f9ff"/><stop offset="0.2497" stop-color="#08fff7"/><stop offset="0.2774" stop-color="#1affe5"/><stop offset="0.3008" stop-color="#28ffd7"/><stop offset="0.3052" stop-color="#26ffd9"/><stop offset="0.3329" stop-color="#18ffe7"/><stop offset="0.3607" stop-color="#0afff5"/><stop offset="0.3884" stop-color="#00fbff"/><stop offset="0.4162" stop-color="#00edff"/><stop offset="0.4384" stop-color="#00e1ff"/><stop offset="0.4439" stop-color="#00deff"/><stop offset="0.4717" stop-color="#00cfff"/><stop offset="0.4994" stop-color="#00bfff"/><stop offset="0.5272" stop-color="#00b0ff"/><stop offset="0.5549" stop-color="#00a1ff"/><stop offset="0.5822" stop-color="#0092ff"/><stop offset="0.5826" stop-color="#0091ff"/><stop offset="0.6104" stop-color="#0089ff"/><stop offset="0.6381" stop-color="#0080ff"/><stop offset="0.6659" stop-color="#0077ff"/><stop offset="0.6936" stop-color="#006eff"/><stop offset="0.7202" stop-color="#0066ff"/><stop offset="0.7214" stop-color="#0066ff"/><stop offset="0.7491" stop-color="#0061ff"/><stop offset="0.7769" stop-color="#005cff"/><stop offset="0.8046" stop-color="#0057ff"/><stop offset="0.8323" stop-color="#0053ff"/><stop offset="0.8601" stop-color="#004eff"/><stop offset="0.8696" stop-color="#004cff"/><stop offset="0.8878" stop-color="#0049ff"/><stop offset="0.9156" stop-color="#0045ff"/><stop offset="0.9433" stop-color="#0041ff"/><stop offset="0.9711" stop-color="#003cff"/><stop offset="0.9988" stop-color="#0038ff"/><stop offset="1.0000" stop-color="#0038ff"/></linearGradient>
<linearGradient id="g89"><stop offset="0.0000" stop-color="#007aff"/><stop offset="0.0277" stop-color="#008eff"/><stop offset="0.0555" stop-color="#00a3ff"/><stop offset="0.0832" stop-color="#00b7ff"/><stop offset="0.1110" stop-color="#00ccff"/><stop offset="0.1387" stop-color="#00e0ff"/><stop offset="0.1577" stop-color="#00eeff"/><stop offset="0.1665" stop-color="#00f0ff"/><stop offset="0.1942" stop-color="#00f4ff"/><stop offset="0.2220" stop-color="#00f9ff"/><stop offset="0.2271" stop-color="#00faff"/><stop offset="0.2497" stop-color="#09fff6"/><stop offset="0.2774" stop-color="#1affe5"/><stop offset="0.3008" stop-color="#29ffd6"/><stop offset="0.3052" stop-color="#26ffd9"/><stop offset="0.3329" stop-color="#18ffe7"/><stop offset="0.3607" stop-color="#0afff5"/><stop offset="0.3884" stop-color="#00faff"/><stop offset="0.4162" stop-color="#00ecff"/><stop offset="0.4384" stop-color="#00e1ff"/><stop offset="0.4439" stop-color="#00ddff"/><stop offset="0.4717" stop-color="#00cdff"/><stop offset="0.4994" stop-color="#00bcff"/><stop offset="0.5272" stop-color="#00acff"/><stop offset="0.5549" stop-color="#009bff"/><stop offset="0.5822" stop-color="#008bff"/><stop offset="0.5826" stop-color="#008bff"/><stop offset="0.6104" stop-color="#0082ff"/><stop offset="0.6381" stop-color="#007aff"/><stop offset="0.6659" stop-color="#0072ff"/><stop offset="0.6936" stop-color="#0069ff"/><stop offset="0.7202" stop-color="#0062ff"/><stop offset="0.7214" stop-color="#0061ff"/><stop offset="0.7491" stop-color="#005dff"/><stop offset="0.7769" stop-color="#0058ff"/><stop offset="0.8046" stop-color="#0053ff"/><stop offset="0.8323" stop-color="#004eff"/><stop offset="0.8601" stop-color="#004aff"/><stop offset="0.8696" stop-color="#0048ff"/><stop offset="0.8878" stop-color="#0045ff"/><stop offset="0.9156" stop-color="#0041ff"/><stop offset="0.9433" stop-color="#003dff"/><stop offset="0.9711" stop-color="#0038ff"/><stop offset="0.9988" stop-color="#0034ff"/><stop offset="1.0000" stop-color="#0034ff"/></linearGradient>
<linearGradient id="cb" x1="0" y1="0" x2="0" y2="1"><stop offset="0.0000" stop-color="#800000"/><stop offset="0.0312" stop-color="#9f0000"/><stop offset="0.0625" stop-color="#bf0000"/><stop offset="0.0938" stop-color="#df0000"/><stop offset="0.1250" stop-color="#ff0000"/><stop offset="0.1562" stop-color="#ff2000"/><stop offset="0.1875" stop-color="#ff4000"/><stop offset="0.2188" stop-color="#ff6000"/><stop offset="0.2500" stop-color="#ff8000"/><stop offset="0.2812" stop-color="#ff9f00"/><stop offset="0.3125" stop-color="#ffbf00"/><stop offset="0.3438" stop-color="#ffdf00"/><stop offset="0.3750" stop-color="#ffff00"/><stop offset="0.4062" stop-color="#dfff20"/><stop offset="0.4375" stop-color="#bfff40"/><stop offset="0.4688" stop-color="#9fff60"/><stop offset="0.5000" stop-color="#80ff80"/><stop offset="0.5312" stop-color="#60ff9f"/><stop offset="0.5625" stop-color="#40ffbf"/><stop offset="0.5938" stop-color="#20ffdf"/><stop offset="0.6250" stop-color="#00ffff"/><stop offset="0.6562" stop-color="#00dfff"/><stop offset="0.6875" stop-color="#00bfff"/><stop offset="0.7188" stop-color="#009fff"/><stop offset="0.7500" stop-color="#0080ff"/><stop offset="0.7812" stop-color="#0060ff"/><stop offset="0.8125" stop-color="#0040ff"/><stop offset="0.8438" stop-color="#0020ff"/><stop offset="0.8750" stop-color="#0000ff"/><stop offset="0.9062" stop-color="#0000df"/><stop offset="0.9375" stop-color="#0000bf"/><stop offset="0.9688" stop-color="#00009f"/><stop offset="1.0000" stop-color="#000080"/></linearGradient></defs>
<rect x="0" y="0" width="343" height="442" fill="#fff"/>
<g shape-rendering="auto"><rect x="59.6" y="5.7" width="252.3" height="2.6" fill="url(#g0)"/><rect x="59.6" y="7.7" width="252.3" height="2.6" fill="url(#g1)"/><rect x="59.6" y="9.7" width="252.3" height="2.6" fill="url(#g2)"/><rect x="59.6" y="11.7" width="252.3" height="2.6" fill="url(#g3)"/><rect x="59.6" y="13.7" width="252.3" height="2.6" fill="url(#g4)"/><rect x="59.6" y="15.7" width="252.3" height="2.6" fill="url(#g5)"/><rect x="59.6" y="17.7" width="252.3" height="2.6" fill="url(#g6)"/><rect x="59.6" y="19.7" width="252.3" height="2.6" fill="url(#g7)"/><rect x="59.6" y="21.7" width="252.3" height="2.6" fill="url(#g8)"/><rect x="59.6" y="23.7" width="252.3" height="2.6" fill="url(#g9)"/><rect x="59.6" y="25.7" width="252.3" height="2.6" fill="url(#g10)"/><rect x="59.6" y="27.7" width="252.3" height="2.6" fill="url(#g11)"/><rect x="59.6" y="29.7" width="252.3" height="2.6" fill="url(#g12)"/><rect x="59.6" y="31.7" width="252.3" height="2.6" fill="url(#g13)"/><rect x="59.6" y="33.7" width="252.3" height="2.6" fill="url(#g14)"/><rect x="59.6" y="35.7" width="252.3" height="2.6" fill="url(#g15)"/><rect x="59.6" y="37.7" width="252.3" height="2.6" fill="url(#g16)"/><rect x="59.6" y="39.7" width="252.3" height="2.6" fill="url(#g17)"/><rect x="59.6" y="41.7" width="252.3" height="2.6" fill="url(#g18)"/><rect x="59.6" y="43.7" width="252.3" height="2.6" fill="url(#g19)"/><rect x="59.6" y="45.7" width="252.3" height="2.6" fill="url(#g20)"/><rect x="59.6" y="47.7" width="252.3" height="2.6" fill="url(#g21)"/><rect x="59.6" y="49.7" width="252.3" height="2.6" fill="url(#g22)"/><rect x="59.6" y="51.7" width="252.3" height="2.6" fill="url(#g23)"/><rect x="59.6" y="53.7" width="252.3" height="2.6" fill="url(#g24)"/><rect x="59.6" y="55.7" width="252.3" height="2.6" fill="url(#g25)"/><rect x="59.6" y="57.7" width="252.3" height="2.6" fill="url(#g26)"/><rect x="59.6" y="59.7" width="252.3" height="2.6" fill="url(#g27)"/><rect x="59.6" y="61.7" width="252.3" height="2.6" fill="url(#g28)"/><rect x="59.6" y="63.7" width="252.3" height="2.6" fill="url(#g29)"/><rect x="59.6" y="65.7" width="252.3" height="2.6" fill="url(#g30)"/><rect x="59.6" y="67.7" width="252.3" height="2.6" fill="url(#g31)"/><rect x="59.6" y="69.7" width="252.3" height="2.6" fill="url(#g32)"/><rect x="59.6" y="71.7" width="252.3" height="2.6" fill="url(#g33)"/><rect x="59.6" y="73.7" width="252.3" height="2.6" fill="url(#g34)"/><rect x="59.6" y="75.7" width="252.3" height="2.6" fill="url(#g35)"/><rect x="59.6" y="77.7" width="252.3" height="2.6" fill="url(#g36)"/><rect x="59.6" y="79.7" width="252.3" height="2.6" fill="url(#g37)"/><rect x="59.6" y="81.7" width="252.3" height="2.6" fill="url(#g38)"/><rect x="59.6" y="83.7" width="252.3" height="2.6" fill="url(#g39)"/><rect x="59.6" y="85.7" width="252.3" height="2.6" fill="url(#g40)"/><rect x="59.6" y="87.7" width="252.3" height="2.6" fill="url(#g41)"/><rect x="59.6" y="89.7" width="252.3" height="2.6" fill="url(#g42)"/><rect x="59.6" y="91.7" width="252.3" height="2.6" fill="url(#g43)"/><rect x="59.6" y="93.7" width="252.3" height="2.6" fill="url(#g44)"/><rect x="59.6" y="95.7" width="252.3" height="2.6" fill="url(#g45)"/><rect x="59.6" y="97.7" width="252.3" height="2.6" fill="url(#g46)"/><rect x="59.6" y="99.7" width="252.3" height="2.6" fill="url(#g47)"/><rect x="59.6" y="101.7" width="252.3" height="2.6" fill="url(#g48)"/><rect x="59.6" y="103.7" width="252.3" height="2.6" fill="url(#g49)"/><rect x="59.6" y="105.7" width="252.3" height="2.6" fill="url(#g50)"/><rect x="59.6" y="107.7" width="252.3" height="2.6" fill="url(#g51)"/><rect x="59.6" y="109.7" width="252.3" height="2.6" fill="url(#g52)"/><rect x="59.6" y="111.7" width="252.3" height="2.6" fill="url(#g53)"/><rect x="59.6" y="113.7" width="252.3" height="2.6" fill="url(#g54)"/><rect x="59.6" y="115.7" width="252.3" height="2.6" fill="url(#g55)"/><rect x="59.6" y="117.7" width="252.3" height="2.6" fill="url(#g56)"/><rect x="59.6" y="119.7" width="252.3" height="2.6" fill="url(#g57)"/><rect x="59.6" y="121.7" width="252.3" height="2.6" fill="url(#g58)"/><rect x="59.6" y="123.7" width="252.3" height="2.6" fill="url(#g59)"/><rect x="59.6" y="125.7" width="252.3" height="2.6" fill="url(#g60)"/><rect x="59.6" y="127.7" width="252.3" height="2.6" fill="url(#g61)"/><rect x="59.6" y="129.7" width="252.3" height="2.6" fill="url(#g62)"/><rect x="59.6" y="131.7" width="252.3" height="2.6" fill="url(#g63)"/><rect x="59.6" y="133.7" width="252.3" height="2.6" fill="url(#g64)"/><rect x="59.6" y="135.7" width="252.3" height="2.6" fill="url(#g65)"/><rect x="59.6" y="137.7" width="252.3" height="2.6" fill="url(#g66)"/><rect x="59.6" y="139.7" width="252.3" height="2.6" fill="url(#g67)"/><rect x="59.6" y="141.7" width="252.3" height="2.6" fill="url(#g68)"/><rect x="59.6" y="143.7" width="252.3" height="2.6" fill="url(#g69)"/><rect x="59.6" y="145.7" width="252.3" height="2.6" fill="url(#g70)"/><rect x="59.6" y="147.7" width="252.3" height="2.6" fill="url(#g71)"/><rect x="59.6" y="149.7" width="252.3" height="2.6" fill="url(#g72)"/><rect x="59.6" y="151.7" width="252.3" height="2.6" fill="url(#g73)"/><rect x="59.6" y="153.7" width="252.3" height="2.6" fill="url(#g74)"/><rect x="59.6" y="155.7" width="252.3" height="2.6" fill="url(#g75)"/><rect x="59.6" y="157.7" width="252.3" height="2.6" fill="url(#g76)"/><rect x="59.6" y="159.7" width="252.3" height="2.6" fill="url(#g77)"/><rect x="59.6" y="161.7" width="252.3" height="2.6" fill="url(#g78)"/><rect x="59.6" y="163.7" width="252.3" height="2.6" fill="url(#g79)"/><rect x="59.6" y="165.7" width="252.3" height="2.6" fill="url(#g80)"/><rect x="59.6" y="167.7" width="252.3" height="2.6" fill="url(#g81)"/><rect x="59.6" y="169.7" width="252.3" height="2.6" fill="url(#g82)"/><rect x="59.6" y="171.7" width="252.3" height="2.6" fill="url(#g83)"/><rect x="59.6" y="173.7" width="252.3" height="2.6" fill="url(#g84)"/><rect x="59.6" y="175.7" width="252.3" height="2.6" fill="url(#g85)"/><rect x="59.6" y="177.7" width="252.3" height="2.6" fill="url(#g86)"/><rect x="59.6" y="179.7" width="252.3" height="2.6" fill="url(#g87)"/><rect x="59.6" y="181.7" width="252.3" height="2.6" fill="url(#g88)"/><rect x="59.6" y="183.7" width="252.3" height="1.2" fill="url(#g89)"/></g>
<line x1="40.6" y1="41.5" x2="59.6" y2="41.5" stroke="#c4c4c4" stroke-width="1" stroke-dasharray="1,1.6"/>
<line x1="311.9" y1="41.5" x2="339.0" y2="41.5" stroke="#c4c4c4" stroke-width="1" stroke-dasharray="1,1.6"/>
<line x1="40.6" y1="77.4" x2="59.6" y2="77.4" stroke="#c4c4c4" stroke-width="1" stroke-dasharray="1,1.6"/>
<line x1="311.9" y1="77.4" x2="339.0" y2="77.4" stroke="#c4c4c4" stroke-width="1" stroke-dasharray="1,1.6"/>
<line x1="40.6" y1="113.2" x2="59.6" y2="113.2" stroke="#c4c4c4" stroke-width="1" stroke-dasharray="1,1.6"/>
<line x1="311.9" y1="113.2" x2="339.0" y2="113.2" stroke="#c4c4c4" stroke-width="1" stroke-dasharray="1,1.6"/>
<line x1="40.6" y1="149.1" x2="59.6" y2="149.1" stroke="#c4c4c4" stroke-width="1" stroke-dasharray="1,1.6"/>
<line x1="311.9" y1="149.1" x2="339.0" y2="149.1" stroke="#c4c4c4" stroke-width="1" stroke-dasharray="1,1.6"/>
<line x1="59.6" y1="5.7" x2="59.6" y2="184.9" stroke="#ff5ae6" stroke-width="1.5" stroke-dasharray="5.1,2.6" stroke-dashoffset="5.3"/>
<line x1="99.4" y1="5.7" x2="99.4" y2="184.9" stroke="#ff5ae6" stroke-width="1.5" stroke-dasharray="5.1,2.6" stroke-dashoffset="5.3"/>
<line x1="116.9" y1="5.7" x2="116.9" y2="184.9" stroke="#ff5ae6" stroke-width="1.5" stroke-dasharray="5.1,2.6" stroke-dashoffset="5.3"/>
<line x1="135.5" y1="5.7" x2="135.5" y2="184.9" stroke="#ff5ae6" stroke-width="1.5" stroke-dasharray="5.1,2.6" stroke-dashoffset="5.3"/>
<line x1="170.2" y1="5.7" x2="170.2" y2="184.9" stroke="#ff5ae6" stroke-width="1.5" stroke-dasharray="5.1,2.6" stroke-dashoffset="5.3"/>
<line x1="206.5" y1="5.7" x2="206.5" y2="184.9" stroke="#ff5ae6" stroke-width="1.5" stroke-dasharray="5.1,2.6" stroke-dashoffset="5.3"/>
<line x1="241.3" y1="5.7" x2="241.3" y2="184.9" stroke="#ff5ae6" stroke-width="1.5" stroke-dasharray="5.1,2.6" stroke-dashoffset="5.3"/>
<line x1="279.0" y1="5.7" x2="279.0" y2="184.9" stroke="#ff5ae6" stroke-width="1.5" stroke-dasharray="5.1,2.6" stroke-dashoffset="5.3"/>
<line x1="311.9" y1="5.7" x2="311.9" y2="184.9" stroke="#ff5ae6" stroke-width="1.5" stroke-dasharray="5.1,2.6" stroke-dashoffset="5.3"/>
<rect x="40.6" y="5.7" width="298.4" height="179.2" fill="none" stroke="#000" stroke-width="1.4"/>
<line x1="40.6" y1="184.9" x2="40.6" y2="187.9" stroke="#000" stroke-width="1"/>
<line x1="40.6" y1="5.7" x2="40.6" y2="2.7" stroke="#000" stroke-width="1"/>
<text x="40.6" y="201" class="tk" text-anchor="middle">0</text>
<line x1="83.2" y1="184.9" x2="83.2" y2="187.9" stroke="#000" stroke-width="1"/>
<line x1="83.2" y1="5.7" x2="83.2" y2="2.7" stroke="#000" stroke-width="1"/>
<text x="83.2" y="201" class="tk" text-anchor="middle">1</text>
<line x1="125.9" y1="184.9" x2="125.9" y2="187.9" stroke="#000" stroke-width="1"/>
<line x1="125.9" y1="5.7" x2="125.9" y2="2.7" stroke="#000" stroke-width="1"/>
<text x="125.9" y="201" class="tk" text-anchor="middle">2</text>
<line x1="168.5" y1="184.9" x2="168.5" y2="187.9" stroke="#000" stroke-width="1"/>
<line x1="168.5" y1="5.7" x2="168.5" y2="2.7" stroke="#000" stroke-width="1"/>
<text x="168.5" y="201" class="tk" text-anchor="middle">3</text>
<line x1="211.1" y1="184.9" x2="211.1" y2="187.9" stroke="#000" stroke-width="1"/>
<line x1="211.1" y1="5.7" x2="211.1" y2="2.7" stroke="#000" stroke-width="1"/>
<text x="211.1" y="201" class="tk" text-anchor="middle">4</text>
<line x1="253.7" y1="184.9" x2="253.7" y2="187.9" stroke="#000" stroke-width="1"/>
<line x1="253.7" y1="5.7" x2="253.7" y2="2.7" stroke="#000" stroke-width="1"/>
<text x="253.7" y="201" class="tk" text-anchor="middle">5</text>
<line x1="296.4" y1="184.9" x2="296.4" y2="187.9" stroke="#000" stroke-width="1"/>
<line x1="296.4" y1="5.7" x2="296.4" y2="2.7" stroke="#000" stroke-width="1"/>
<text x="296.4" y="201" class="tk" text-anchor="middle">6</text>
<line x1="339.0" y1="184.9" x2="339.0" y2="187.9" stroke="#000" stroke-width="1"/>
<line x1="339.0" y1="5.7" x2="339.0" y2="2.7" stroke="#000" stroke-width="1"/>
<text x="339.0" y="201" class="tk" text-anchor="middle">7</text>
<line x1="40.6" y1="5.7" x2="37.4" y2="5.7" stroke="#000" stroke-width="1"/>
<line x1="339.0" y1="5.7" x2="342.2" y2="5.7" stroke="#000" stroke-width="1"/>
<text x="25.9" y="11.3" class="tk" text-anchor="middle">0</text>
<line x1="40.6" y1="41.5" x2="37.4" y2="41.5" stroke="#000" stroke-width="1"/>
<line x1="339.0" y1="41.5" x2="342.2" y2="41.5" stroke="#000" stroke-width="1"/>
<text x="27.0" y="47.1" class="tk" text-anchor="middle">-10</text>
<line x1="40.6" y1="77.4" x2="37.4" y2="77.4" stroke="#000" stroke-width="1"/>
<line x1="339.0" y1="77.4" x2="342.2" y2="77.4" stroke="#000" stroke-width="1"/>
<text x="27.0" y="83.0" class="tk" text-anchor="middle">-20</text>
<line x1="40.6" y1="113.2" x2="37.4" y2="113.2" stroke="#000" stroke-width="1"/>
<line x1="339.0" y1="113.2" x2="342.2" y2="113.2" stroke="#000" stroke-width="1"/>
<text x="27.0" y="118.8" class="tk" text-anchor="middle">-30</text>
<line x1="40.6" y1="149.1" x2="37.4" y2="149.1" stroke="#000" stroke-width="1"/>
<line x1="339.0" y1="149.1" x2="342.2" y2="149.1" stroke="#000" stroke-width="1"/>
<text x="27.0" y="154.7" class="tk" text-anchor="middle">-40</text>
<line x1="40.6" y1="184.9" x2="37.4" y2="184.9" stroke="#000" stroke-width="1"/>
<line x1="339.0" y1="184.9" x2="342.2" y2="184.9" stroke="#000" stroke-width="1"/>
<text x="27.0" y="190.5" class="tk" text-anchor="middle">-50</text>
<text x="190.3" y="212.8" class="lb" text-anchor="middle">P [Pa]</text>
<text transform="translate(9.8,94.5) rotate(-90)" class="lb" text-anchor="middle">r<tspan dy="3" font-size="8.5">p</tspan><tspan dy="-3"> [mm]</tspan></text>
<text x="41.2" y="25" font-size="14.5" letter-spacing="0.8">(a)</text>
<text x="228.5" y="29" font-size="16.5" style="fill:#fff">I<tspan dy="4" font-size="11.5">s</tspan><tspan dy="-4"> [mA]</tspan></text>
<rect x="284.5" y="22.5" width="47.8" height="100.3" fill="#fff" fill-opacity="0.75" stroke="#7a7a7a" stroke-width="1"/>
<rect x="290.3" y="28.2" width="8.7" height="89" fill="url(#cb)" stroke="#000" stroke-width="0.9"/>
<line x1="296.5" y1="42.4" x2="299" y2="42.4" stroke="#000" stroke-width="0.8"/>
<text x="300.6" y="47.0" class="cbt">10<tspan dy="-5.2" font-size="9">1</tspan></text>
<line x1="296.5" y1="63.1" x2="299" y2="63.1" stroke="#000" stroke-width="0.8"/>
<text x="300.6" y="67.7" class="cbt">10<tspan dy="-5.2" font-size="9">0.5</tspan></text>
<line x1="296.5" y1="83.8" x2="299" y2="83.8" stroke="#000" stroke-width="0.8"/>
<text x="300.6" y="88.4" class="cbt">10<tspan dy="-5.2" font-size="9">0</tspan></text>
<line x1="296.5" y1="104.5" x2="299" y2="104.5" stroke="#000" stroke-width="0.8"/>
<text x="300.6" y="109.1" class="cbt">10<tspan dy="-5.2" font-size="9">-0.5</tspan></text>
<polyline points="41.1,379.5 47.2,382.3 52.3,378.9 57.4,375.8 64.5,375.4 70.7,373.4 76.8,371.3 82.9,371.7 89.0,372.1 95.1,370.1 101.3,368.3 108.2,366.0 114.3,367.2 120.4,361.1 126.5,362.6 132.7,361.5 138.8,362.1 143.9,362.6 149.0,359.1 155.1,355.4 161.2,355.0 170.0,349.3 174.6,346.1 186.2,337.9 197.9,332.1 205.6,327.9 214.1,324.6 224.6,320.6 235.1,317.5 245.6,314.1 256.1,309.6 260.0,309.0 269.7,305.2 279.4,302.0 289.0,300.8 296.3,299.1 303.6,298.6 313.2,299.6 322.9,299.8 332.6,300.8 339.4,302.0" fill="none" stroke="#00bfbf" stroke-width="1.3" stroke-dasharray="2.8,0.9,0.9,0.9" stroke-linejoin="round"/>
<polyline points="41.1,344.2 45.1,346.2 50.2,344.2 54.3,346.6 60.4,346.2 68.6,345.2 74.7,345.2 79.8,347.7 86.0,346.2 91.1,349.3 97.2,348.9 100.0,350.3 106.1,355.0 115.3,355.4 120.4,360.5 124.5,361.5 130.6,361.1 136.7,359.5 142.9,356.4 148.0,354.4 152.0,348.3 157.1,341.1 161.2,337.0 165.0,333.3 170.8,328.1 176.7,323.4 182.5,319.3 188.3,314.7 194.2,311.2 200.0,309.4 205.0,307.8 210.8,305.0 216.7,302.9 228.3,298.2 240.0,294.2 245.0,292.3 250.8,290.0 256.7,287.1 262.5,284.7 268.3,282.4 274.2,280.1 280.0,278.1 285.0,276.8 293.5,275.3 301.9,274.1 310.4,273.6 318.8,274.1 327.3,275.0 335.7,276.1 339.4,277.5" fill="none" stroke="#ff3030" stroke-width="1.2" stroke-dasharray="1.0,0.8" stroke-linejoin="round"/>
<polyline points="41.1,346.2 45.1,349.7 49.2,345.6 54.3,351.7 59.4,352.3 64.5,355.4 68.6,360.5 71.7,367.7 74.7,371.7 80.9,376.4 87.0,372.1 90.0,377.9 94.1,389.1 99.2,390.1 105.1,396.2 111.2,394.2 118.4,392.8 124.5,397.2 130.6,395.6 136.7,396.2 138.8,390.1 140.8,384.0 143.9,373.8 146.9,365.6 150.0,357.4 153.1,350.3 157.1,343.2 161.2,337.6 165.0,331.8 170.8,325.3 176.7,319.4 182.5,315.0 188.3,311.8 194.2,309.2 200.0,306.5 205.0,303.6 216.7,298.9 228.3,293.7 240.0,288.4 245.0,286.0 250.8,283.7 256.7,280.8 262.5,277.3 268.3,274.9 274.2,273.5 280.0,272.6 285.0,271.9 293.5,270.6 301.9,269.9 310.4,269.9 318.8,271.1 327.3,272.8 335.7,273.6 339.4,273.8" fill="none" stroke="#008000" stroke-width="1.5" stroke-dasharray="2.3,1.0" stroke-linejoin="round"/>
<polyline points="41.1,383.0 44.1,385.6 48.2,383.0 54.3,383.0 61.5,380.9 68.6,383.6 75.8,385.0 84.9,379.9 97.2,375.2 100.0,377.9 104.1,383.6 112.2,384.0 122.4,384.0 130.6,384.4 136.7,383.0 142.9,378.9 149.0,374.6 155.1,370.3 161.2,365.8 165.8,362.0 170.0,358.5 173.1,353.5 176.5,347.0 179.0,340.0 182.5,329.2 186.0,318.7 189.5,312.8 194.2,307.0 200.0,301.5 205.0,296.9 216.7,292.3 228.3,286.8 240.0,281.3 245.0,278.6 250.8,275.5 256.7,272.0 262.5,269.7 268.3,268.5 274.2,267.7 280.0,267.3 285.0,267.7 301.9,268.9 318.8,270.2 335.7,272.4 339.4,273.2" fill="none" stroke="#0000ff" stroke-width="1.4" stroke-linejoin="round"/>
<rect x="41.0" y="229.0" width="298.0" height="177.8" fill="none" stroke="#000" stroke-width="1.4"/>
<line x1="41.0" y1="406.8" x2="41.0" y2="403.8" stroke="#000" stroke-width="1"/>
<line x1="41.0" y1="229.0" x2="41.0" y2="232.0" stroke="#000" stroke-width="1"/>
<text x="39.8" y="420.3" class="tk" text-anchor="middle">-50</text>
<line x1="100.6" y1="406.8" x2="100.6" y2="403.8" stroke="#000" stroke-width="1"/>
<line x1="100.6" y1="229.0" x2="100.6" y2="232.0" stroke="#000" stroke-width="1"/>
<text x="99.4" y="420.3" class="tk" text-anchor="middle">-40</text>
<line x1="160.2" y1="406.8" x2="160.2" y2="403.8" stroke="#000" stroke-width="1"/>
<line x1="160.2" y1="229.0" x2="160.2" y2="232.0" stroke="#000" stroke-width="1"/>
<text x="159.0" y="420.3" class="tk" text-anchor="middle">-30</text>
<line x1="219.8" y1="406.8" x2="219.8" y2="403.8" stroke="#000" stroke-width="1"/>
<line x1="219.8" y1="229.0" x2="219.8" y2="232.0" stroke="#000" stroke-width="1"/>
<text x="218.6" y="420.3" class="tk" text-anchor="middle">-20</text>
<line x1="279.4" y1="406.8" x2="279.4" y2="403.8" stroke="#000" stroke-width="1"/>
<line x1="279.4" y1="229.0" x2="279.4" y2="232.0" stroke="#000" stroke-width="1"/>
<text x="278.2" y="420.3" class="tk" text-anchor="middle">-10</text>
<line x1="339.0" y1="406.8" x2="339.0" y2="403.8" stroke="#000" stroke-width="1"/>
<line x1="339.0" y1="229.0" x2="339.0" y2="232.0" stroke="#000" stroke-width="1"/>
<text x="339.0" y="420.3" class="tk" text-anchor="middle">0</text>
<text x="18.9" y="233.3" class="tk">10<tspan dy="-6.8" dx="-0.3" font-size="8.5" letter-spacing="0">2</tspan></text>
<line x1="41.0" y1="270.4" x2="43.0" y2="270.4" stroke="#000" stroke-width="0.8"/>
<line x1="339.0" y1="270.4" x2="337.0" y2="270.4" stroke="#000" stroke-width="0.8"/>
<line x1="41.0" y1="260.0" x2="43.0" y2="260.0" stroke="#000" stroke-width="0.8"/>
<line x1="339.0" y1="260.0" x2="337.0" y2="260.0" stroke="#000" stroke-width="0.8"/>
<line x1="41.0" y1="252.6" x2="43.0" y2="252.6" stroke="#000" stroke-width="0.8"/>
<line x1="339.0" y1="252.6" x2="337.0" y2="252.6" stroke="#000" stroke-width="0.8"/>
<line x1="41.0" y1="246.8" x2="43.0" y2="246.8" stroke="#000" stroke-width="0.8"/>
<line x1="339.0" y1="246.8" x2="337.0" y2="246.8" stroke="#000" stroke-width="0.8"/>
<line x1="41.0" y1="242.1" x2="43.0" y2="242.1" stroke="#000" stroke-width="0.8"/>
<line x1="339.0" y1="242.1" x2="337.0" y2="242.1" stroke="#000" stroke-width="0.8"/>
<line x1="41.0" y1="238.2" x2="43.0" y2="238.2" stroke="#000" stroke-width="0.8"/>
<line x1="339.0" y1="238.2" x2="337.0" y2="238.2" stroke="#000" stroke-width="0.8"/>
<line x1="41.0" y1="234.7" x2="43.0" y2="234.7" stroke="#000" stroke-width="0.8"/>
<line x1="339.0" y1="234.7" x2="337.0" y2="234.7" stroke="#000" stroke-width="0.8"/>
<line x1="41.0" y1="231.7" x2="43.0" y2="231.7" stroke="#000" stroke-width="0.8"/>
<line x1="339.0" y1="231.7" x2="337.0" y2="231.7" stroke="#000" stroke-width="0.8"/>
<line x1="41.0" y1="288.3" x2="44.2" y2="288.3" stroke="#000" stroke-width="1"/>
<line x1="339.0" y1="288.3" x2="335.8" y2="288.3" stroke="#000" stroke-width="1"/>
<text x="18.9" y="292.7" class="tk">10<tspan dy="-6.8" dx="-0.3" font-size="8.5" letter-spacing="0">1</tspan></text>
<line x1="41.0" y1="329.7" x2="43.0" y2="329.7" stroke="#000" stroke-width="0.8"/>
<line x1="339.0" y1="329.7" x2="337.0" y2="329.7" stroke="#000" stroke-width="0.8"/>
<line x1="41.0" y1="319.3" x2="43.0" y2="319.3" stroke="#000" stroke-width="0.8"/>
<line x1="339.0" y1="319.3" x2="337.0" y2="319.3" stroke="#000" stroke-width="0.8"/>
<line x1="41.0" y1="311.9" x2="43.0" y2="311.9" stroke="#000" stroke-width="0.8"/>
<line x1="339.0" y1="311.9" x2="337.0" y2="311.9" stroke="#000" stroke-width="0.8"/>
<line x1="41.0" y1="306.1" x2="43.0" y2="306.1" stroke="#000" stroke-width="0.8"/>
<line x1="339.0" y1="306.1" x2="337.0" y2="306.1" stroke="#000" stroke-width="0.8"/>
<line x1="41.0" y1="301.4" x2="43.0" y2="301.4" stroke="#000" stroke-width="0.8"/>
<line x1="339.0" y1="301.4" x2="337.0" y2="301.4" stroke="#000" stroke-width="0.8"/>
<line x1="41.0" y1="297.4" x2="43.0" y2="297.4" stroke="#000" stroke-width="0.8"/>
<line x1="339.0" y1="297.4" x2="337.0" y2="297.4" stroke="#000" stroke-width="0.8"/>
<line x1="41.0" y1="294.0" x2="43.0" y2="294.0" stroke="#000" stroke-width="0.8"/>
<line x1="339.0" y1="294.0" x2="337.0" y2="294.0" stroke="#000" stroke-width="0.8"/>
<line x1="41.0" y1="291.0" x2="43.0" y2="291.0" stroke="#000" stroke-width="0.8"/>
<line x1="339.0" y1="291.0" x2="337.0" y2="291.0" stroke="#000" stroke-width="0.8"/>
<line x1="41.0" y1="347.5" x2="44.2" y2="347.5" stroke="#000" stroke-width="1"/>
<line x1="339.0" y1="347.5" x2="335.8" y2="347.5" stroke="#000" stroke-width="1"/>
<text x="18.9" y="352.5" class="tk">10<tspan dy="-6.8" dx="-0.3" font-size="8.5" letter-spacing="0">0</tspan></text>
<line x1="41.0" y1="389.0" x2="43.0" y2="389.0" stroke="#000" stroke-width="0.8"/>
<line x1="339.0" y1="389.0" x2="337.0" y2="389.0" stroke="#000" stroke-width="0.8"/>
<line x1="41.0" y1="378.5" x2="43.0" y2="378.5" stroke="#000" stroke-width="0.8"/>
<line x1="339.0" y1="378.5" x2="337.0" y2="378.5" stroke="#000" stroke-width="0.8"/>
<line x1="41.0" y1="371.1" x2="43.0" y2="371.1" stroke="#000" stroke-width="0.8"/>
<line x1="339.0" y1="371.1" x2="337.0" y2="371.1" stroke="#000" stroke-width="0.8"/>
<line x1="41.0" y1="365.4" x2="43.0" y2="365.4" stroke="#000" stroke-width="0.8"/>
<line x1="339.0" y1="365.4" x2="337.0" y2="365.4" stroke="#000" stroke-width="0.8"/>
<line x1="41.0" y1="360.7" x2="43.0" y2="360.7" stroke="#000" stroke-width="0.8"/>
<line x1="339.0" y1="360.7" x2="337.0" y2="360.7" stroke="#000" stroke-width="0.8"/>
<line x1="41.0" y1="356.7" x2="43.0" y2="356.7" stroke="#000" stroke-width="0.8"/>
<line x1="339.0" y1="356.7" x2="337.0" y2="356.7" stroke="#000" stroke-width="0.8"/>
<line x1="41.0" y1="353.3" x2="43.0" y2="353.3" stroke="#000" stroke-width="0.8"/>
<line x1="339.0" y1="353.3" x2="337.0" y2="353.3" stroke="#000" stroke-width="0.8"/>
<line x1="41.0" y1="350.2" x2="43.0" y2="350.2" stroke="#000" stroke-width="0.8"/>
<line x1="339.0" y1="350.2" x2="337.0" y2="350.2" stroke="#000" stroke-width="0.8"/>
<text x="18.9" y="412.7" class="tk">10<tspan dy="-6.8" dx="-0.3" font-size="8.5" letter-spacing="0">-1</tspan></text>
<text x="189.8" y="435.4" class="lb" text-anchor="middle">r<tspan dy="3" font-size="8.5">p</tspan><tspan dy="-3"> [mm]</tspan></text>
<text transform="translate(10.9,316) rotate(-90)" class="lb" text-anchor="middle">I<tspan dy="3" font-size="8.5">s</tspan><tspan dy="-3"> [mA]</tspan></text>
<text x="47.5" y="249.5" font-size="14.5" letter-spacing="0.9">(b)</text>
<text x="199.7" y="264.2" class="an">0.44Pa</text>
<line x1="238.2" y1="268.5" x2="244.7" y2="277.2" stroke="#000" stroke-width="0.9"/>
<text x="263.4" y="326.8" class="an">6.4Pa</text>
<line x1="254.1" y1="311.7" x2="262.2" y2="319.4" stroke="#000" stroke-width="0.9"/>
<text x="81.3" y="333.8" class="an">2.2Pa</text>
<line x1="83" y1="337" x2="74.4" y2="344.8" stroke="#000" stroke-width="0.9"/>
<text x="151" y="396" class="an">1.4Pa</text>
<line x1="149.8" y1="391.3" x2="141" y2="386.9" stroke="#000" stroke-width="0.9"/>
</svg>
</body></html>
